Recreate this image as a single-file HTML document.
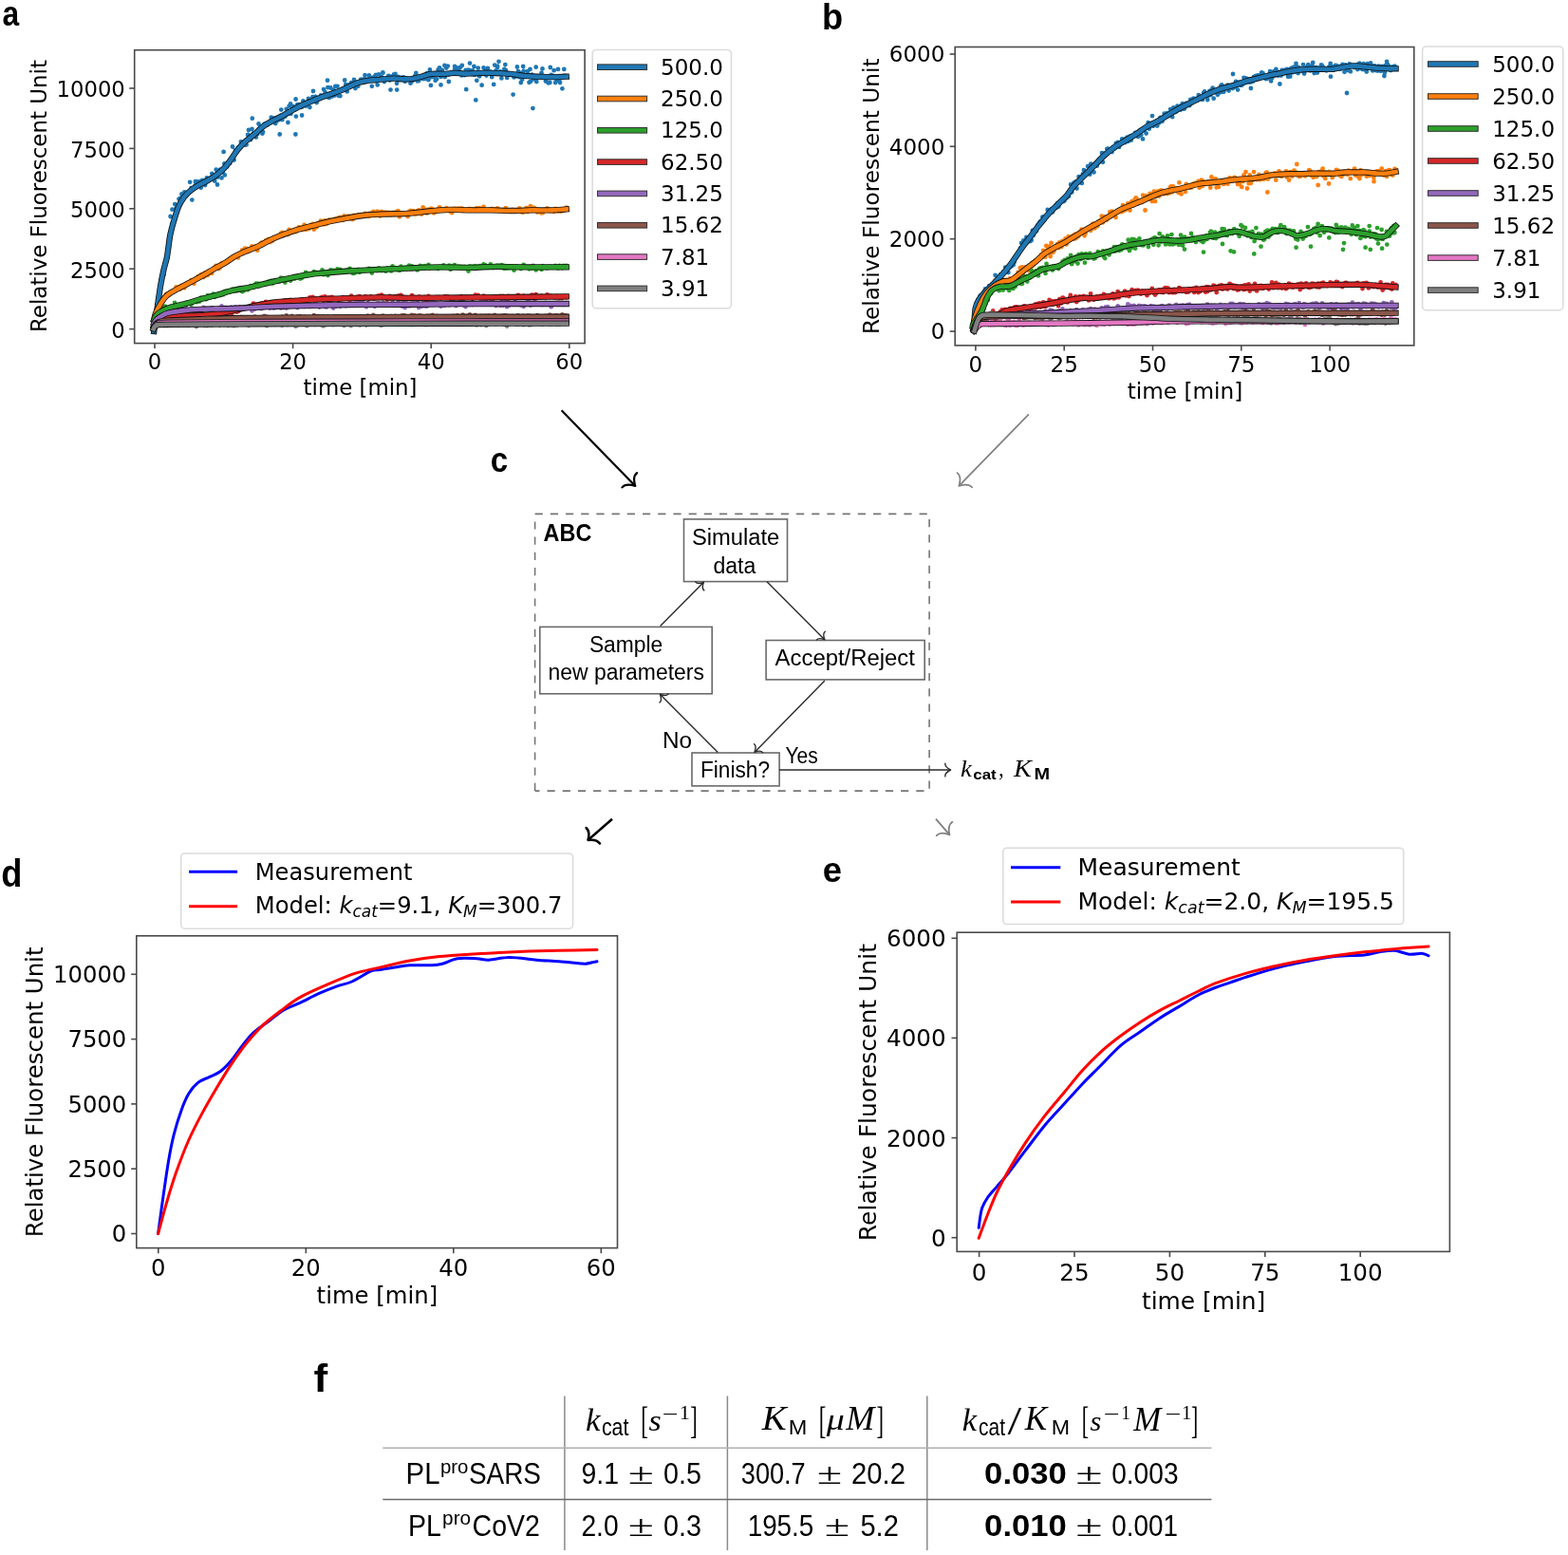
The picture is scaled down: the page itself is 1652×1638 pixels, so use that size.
<!DOCTYPE html><html><head><meta charset="utf-8"><title>Figure</title><style>html,body{margin:0;padding:0;background:#fff;}svg{display:block;}</style></head><body>
<svg width="1652" height="1638" viewBox="0 0 1652 1638">
<rect width="1652" height="1638" fill="#fff"/>
<defs><clipPath id="ca"><rect x="142.5" y="53.5" width="472.8" height="307.3"/></clipPath><clipPath id="cb"><rect x="1007" y="50.3" width="482" height="312.7"/></clipPath><clipPath id="cd"><rect x="144.5" y="986.6" width="505.4" height="327.6"/></clipPath><clipPath id="ce"><rect x="1009" y="983" width="518" height="334.6"/></clipPath></defs>
<text x="2.4" y="26.5" font-size="36.09" font-family="'Liberation Sans', sans-serif" font-weight="bold" textLength="17.65" lengthAdjust="spacingAndGlyphs">a</text>
<text x="865.9" y="31.4" font-size="39.31" font-family="'Liberation Sans', sans-serif" font-weight="bold" textLength="22.14" lengthAdjust="spacingAndGlyphs">b</text>
<text x="516.8" y="496.8" font-size="36.28" font-family="'Liberation Sans', sans-serif" font-weight="bold" textLength="18.37" lengthAdjust="spacingAndGlyphs">c</text>
<text x="1.3" y="933.6" font-size="40.28" font-family="'Liberation Sans', sans-serif" font-weight="bold" textLength="22.14" lengthAdjust="spacingAndGlyphs">d</text>
<text x="866.8" y="929.2" font-size="36.65" font-family="'Liberation Sans', sans-serif" font-weight="bold" textLength="20.29" lengthAdjust="spacingAndGlyphs">e</text>
<text x="330.4" y="1466" font-size="41.24" font-family="'Liberation Sans', sans-serif" font-weight="bold" textLength="14.68" lengthAdjust="spacingAndGlyphs">f</text>
<rect x="141.7" y="52.7" width="474.4" height="308.9" fill="none" stroke="#4a4a4a" stroke-width="1.6"/>
<line x1="163" y1="361.6" x2="163" y2="367.1" stroke="#4a4a4a" stroke-width="1.6"/>
<text x="163" y="388.5" font-size="22.7" font-family="'DejaVu Sans', sans-serif" text-anchor="middle">0</text>
<line x1="308.6" y1="361.6" x2="308.6" y2="367.1" stroke="#4a4a4a" stroke-width="1.6"/>
<text x="308.6" y="388.5" font-size="22.7" font-family="'DejaVu Sans', sans-serif" text-anchor="middle">20</text>
<line x1="454.2" y1="361.6" x2="454.2" y2="367.1" stroke="#4a4a4a" stroke-width="1.6"/>
<text x="454.2" y="388.5" font-size="22.7" font-family="'DejaVu Sans', sans-serif" text-anchor="middle">40</text>
<line x1="599.8" y1="361.6" x2="599.8" y2="367.1" stroke="#4a4a4a" stroke-width="1.6"/>
<text x="599.8" y="388.5" font-size="22.7" font-family="'DejaVu Sans', sans-serif" text-anchor="middle">60</text>
<line x1="136.2" y1="346.6" x2="141.7" y2="346.6" stroke="#4a4a4a" stroke-width="1.6"/>
<text x="131.8" y="355.9" font-size="22.7" font-family="'DejaVu Sans', sans-serif" text-anchor="end">0</text>
<line x1="136.2" y1="283.2" x2="141.7" y2="283.2" stroke="#4a4a4a" stroke-width="1.6"/>
<text x="131.8" y="292.5" font-size="22.7" font-family="'DejaVu Sans', sans-serif" text-anchor="end">2500</text>
<line x1="136.2" y1="219.8" x2="141.7" y2="219.8" stroke="#4a4a4a" stroke-width="1.6"/>
<text x="131.8" y="229.1" font-size="22.7" font-family="'DejaVu Sans', sans-serif" text-anchor="end">5000</text>
<line x1="136.2" y1="156.4" x2="141.7" y2="156.4" stroke="#4a4a4a" stroke-width="1.6"/>
<text x="131.8" y="165.7" font-size="22.7" font-family="'DejaVu Sans', sans-serif" text-anchor="end">7500</text>
<line x1="136.2" y1="93" x2="141.7" y2="93" stroke="#4a4a4a" stroke-width="1.6"/>
<text x="131.8" y="102.3" font-size="22.7" font-family="'DejaVu Sans', sans-serif" text-anchor="end">10000</text>
<text x="319.6" y="416.3" font-size="22.70" font-family="'DejaVu Sans', sans-serif" textLength="119.89" lengthAdjust="spacingAndGlyphs">time [min]</text>
<g transform="translate(49.4,347.9) rotate(-90)"><text x="-2.2" y="0" font-size="22.70" font-family="'DejaVu Sans', sans-serif" textLength="286.99" lengthAdjust="spacingAndGlyphs">Relative Fluorescent Unit</text></g>
<g clip-path="url(#ca)">
<path d="M162.3,349h0M163.8,338.6h0M165.2,326.3h0M166.7,314h0M168.1,305.8h0M169.6,294.7h0M171,291.1h0M172.5,289.2h0M173.9,276.6h0M175.4,270.8h0M176.8,266.8h0M178.3,255.4h0M179.7,245.8h0M181.2,236h0M182.6,234.3h0M184.1,232.1h0M185.5,219.6h0M187,218.7h0M188.5,209.6h0M189.9,209h0M191.4,204.5h0M192.8,208.4h0M194.3,202.5h0M195.7,206.6h0M197.2,204.6h0M198.6,201.9h0M200.1,191.8h0M201.5,198.1h0M203,198.8h0M204.4,198.4h0M205.9,191.2h0M207.3,194.3h0M208.8,191.5h0M210.2,191.3h0M211.7,197.7h0M213.1,189.9h0M214.6,192.2h0M216.1,195h0M217.5,188.7h0M219,189.7h0M220.4,189.7h0M221.9,188.6h0M223.3,182.8h0M224.8,186.8h0M226.2,190.7h0M227.7,178.7h0M229.1,186.7h0M230.6,182.8h0M232,178.7h0M233.5,187.4h0M234.9,181.3h0M236.4,172.3h0M237.8,175.5h0M239.3,175.6h0M240.8,170.8h0M242.2,172.1h0M243.7,167.2h0M245.1,167.9h0M246.6,168.6h0M248,158.4h0M249.5,159.8h0M250.9,155.4h0M252.4,155.9h0M253.8,149.3h0M255.3,150h0M256.7,150h0M258.2,152.8h0M259.6,152.4h0M261.1,141.9h0M262.5,142.8h0M264,147.2h0M265.5,136h0M266.9,140.7h0M268.4,140.8h0M269.8,144.6h0M271.3,141.1h0M272.7,135.8h0M274.2,134.3h0M275.6,133.5h0M277.1,139.1h0M278.5,130.6h0M280,130.1h0M281.4,131.7h0M282.9,129.1h0M284.3,128h0M285.8,123.7h0M287.2,127.1h0M288.7,124.7h0M290.2,130.1h0M291.6,127.5h0M293.1,124.2h0M294.5,126.1h0M296,121.6h0M297.4,126.1h0M298.9,121.3h0M300.3,122.7h0M301.8,114.8h0M303.2,120.1h0M304.7,111.6h0M306.1,109.5h0M307.6,115.3h0M309,112.2h0M310.5,115.5h0M311.9,122.6h0M313.4,110.1h0M314.8,110.1h0M316.3,112.5h0M317.8,112.9h0M319.2,109.6h0M320.7,108.8h0M322.1,111.7h0M323.6,110.4h0M325,103.9h0M326.5,107h0M327.9,106.9h0M329.4,102.2h0M330.8,106.6h0M332.3,101.8h0M333.7,108.1h0M335.2,104.6h0M336.6,103.6h0M338.1,100.5h0M339.5,101.7h0M341,94.1h0M342.5,96.9h0M343.9,102h0M345.4,92.1h0M346.8,102.9h0M348.3,92.5h0M349.7,101.5h0M351.2,94.9h0M352.6,100.6h0M354.1,97.7h0M355.5,90.8h0M357,100.9h0M358.4,101h0M359.9,94.7h0M361.3,93.3h0M362.8,93h0M364.2,89.2h0M365.7,96.4h0M367.2,89.5h0M368.6,90.7h0M370.1,87.2h0M371.5,87.2h0M373,84h0M374.4,93h0M375.9,87h0M377.3,90.7h0M378.8,86.7h0M380.2,83.6h0M381.7,84.7h0M383.1,83.5h0M384.6,85.4h0M386,83.7h0M387.5,83.8h0M388.9,79.5h0M390.4,81.6h0M391.8,90.8h0M393.3,81.8h0M394.8,80.3h0M396.2,85.4h0M397.7,89.4h0M399.1,78.3h0M400.6,82.9h0M402,81.1h0M403.5,76.7h0M404.9,86h0M406.4,83h0M407.8,83.3h0M409.3,80h0M410.7,84.5h0M412.2,80.6h0M413.6,82.1h0M415.1,78.4h0M416.5,78h0M418,87.8h0M419.5,80.9h0M420.9,84.1h0M422.4,83h0M423.8,81.6h0M425.3,81.5h0M426.7,85.8h0M428.2,82.3h0M429.6,82.8h0M431.1,83.4h0M432.5,87.7h0M434,85.6h0M435.4,84.3h0M436.9,80.4h0M438.3,77h0M439.8,85.4h0M441.2,85h0M442.7,80.4h0M444.2,82.6h0M445.6,83.1h0M447.1,82.9h0M448.5,82.8h0M450,77.1h0M451.4,84.2h0M452.9,73.4h0M454.3,81.2h0M455.8,79.6h0M457.2,81h0M458.7,84.8h0M460.1,83.3h0M461.6,73.3h0M463,71.3h0M464.5,80.9h0M465.9,74h0M467.4,77.8h0M468.8,81h0M470.3,71.5h0M471.8,69.6h0M473.2,78.4h0M474.7,77.4h0M476.1,76.1h0M477.6,77h0M479,73.5h0M480.5,71.1h0M481.9,76.3h0M483.4,73.4h0M484.8,71h0M486.3,79.4h0M487.7,77.3h0M489.2,79.2h0M490.6,73.9h0M492.1,75.1h0M493.5,73.7h0M495,74.1h0M496.5,78.1h0M497.9,74.3h0M499.4,78.6h0M500.8,78.5h0M502.3,84.8h0M503.7,71.7h0M505.2,80.3h0M506.6,76.5h0M508.1,76.7h0M509.5,71.3h0M511,75h0M512.4,79.6h0M513.9,76.4h0M515.3,77.1h0M516.8,75.7h0M518.2,81.2h0M519.7,76.8h0M521.2,68.6h0M522.6,74.4h0M524.1,69.6h0M525.5,64.8h0M527,75.3h0M528.4,82.4h0M529.9,77.6h0M531.3,73h0M532.8,73.9h0M534.2,81.9h0M535.7,78.3h0M537.1,78h0M538.6,77.8h0M540,78.3h0M541.5,81.4h0M542.9,80.7h0M544.4,79.7h0M545.9,75.1h0M547.3,81.2h0M548.8,76.8h0M550.2,83.7h0M551.7,74.9h0M553.1,79.4h0M554.6,80h0M556,75.1h0M557.5,86.8h0M558.9,85.9h0M560.4,78.7h0M561.8,83.4h0M563.3,82h0M564.7,70.7h0M566.2,81.7h0M567.6,80.5h0M569.1,81.2h0M570.5,76.8h0M572,79.9h0M573.5,80.4h0M574.9,85.6h0M576.4,82.4h0M577.8,81.1h0M579.3,87h0M580.7,79h0M582.2,79.7h0M583.6,74.2h0M585.1,87.1h0M586.5,84.7h0M588,84.5h0M589.4,83.5h0M590.9,81.4h0M592.3,81.7h0M593.8,79.9h0M595.2,80h0M596.7,80.9h0M453.9,89.9h0M464.5,89.4h0M472.8,86h0M491.2,94.2h0M501.3,105.4h0M507.6,89.7h0M520.2,88.9h0M540.6,99.6h0M548.8,87h0M561.4,114.1h0M565.3,86h0M577.8,87.4h0M590,87h0M592.4,93.3h0M468.4,69h0M479.1,70h0M486.8,69h0M495,66.6h0M499.4,70h0M513.9,72h0M524.1,71h0M532.3,68.1h0M544.9,70.5h0M551.2,70h0M558.5,72.9h0M571.5,72.4h0M579.8,71h0M588,72.9h0M594.3,72.9h0M411.5,94.6h0M418.2,94.6h0M403.3,76.4h0M396,79h0M384.5,79.2h0M363.2,84.5h0M353.3,91h0M345,84.7h0M332.5,101.8h0M330,96h0M326.4,113h0M319.4,106.4h0M311.6,104.5h0M306.5,119.8h0M318.1,121.5h0M303.4,129h0M296.3,115.6h0M289.4,125.5h0M272.5,130.5h0M265.8,124.7h0M262,137h0M236.8,184.4h0M229,194.5h0M235.6,159.9h0M245,154.5h0M217.9,187.5h0M205.7,195.4h0M202.3,210.6h0M184.3,215.1h0M181.5,220.7h0M179.6,228h0M294.7,141.5h0M276.4,140.7h0M311.4,141.5h0" stroke="#1f77b4" stroke-width="4.8" stroke-linecap="round" fill="none"/>
<path d="M162.2,339.6h0M163.7,331.9h0M165.1,327.4h0M166.6,323.6h0M168,320.9h0M169.5,322.3h0M170.9,318.2h0M172.4,315.3h0M173.8,312.7h0M175.3,309.8h0M176.7,310.4h0M178.2,311h0M179.6,307.9h0M181.1,307.4h0M182.5,306.5h0M184,306.2h0M185.5,302.5h0M186.9,304.1h0M188.4,302.3h0M189.8,304.5h0M191.3,300.9h0M192.7,302.4h0M194.2,303.3h0M195.6,299.4h0M197.1,298.1h0M198.5,298.7h0M200,297.6h0M201.4,295.2h0M202.9,296.9h0M204.3,298.7h0M205.8,294.1h0M207.2,293.4h0M208.7,291.2h0M210.2,292.8h0M211.6,289.3h0M213.1,288.8h0M214.5,292h0M216,287.4h0M217.4,290h0M218.9,289.8h0M220.3,286.8h0M221.8,286.4h0M223.2,287.9h0M224.7,283.4h0M226.1,281.9h0M227.6,279.8h0M229,281.4h0M230.5,283.1h0M232,281.4h0M233.4,277.5h0M234.9,276.8h0M236.3,276.6h0M237.8,277.1h0M239.2,275.3h0M240.7,275h0M242.1,274.1h0M243.6,272.1h0M245,271.5h0M246.5,271h0M247.9,269.6h0M249.4,269.8h0M250.8,271.4h0M252.3,268.6h0M253.8,267h0M255.2,263.4h0M256.7,266.3h0M258.1,261.7h0M259.6,262h0M261,265.3h0M262.5,264.5h0M263.9,262.6h0M265.4,259.4h0M266.8,261.1h0M268.3,260h0M269.7,261.6h0M271.2,263.7h0M272.6,259.5h0M274.1,257.1h0M275.5,255.6h0M277,256.8h0M278.5,255.8h0M279.9,253.4h0M281.4,254.8h0M282.8,251.9h0M284.3,255h0M285.7,254.2h0M287.2,253.6h0M288.6,250.2h0M290.1,251.3h0M291.5,249.6h0M293,248.5h0M294.4,248h0M295.9,245.8h0M297.3,245h0M298.8,248.2h0M300.3,246h0M301.7,246.2h0M303.2,247h0M304.6,241.8h0M306.1,242.9h0M307.5,244.1h0M309,244h0M310.4,242.2h0M311.9,244.2h0M313.3,242.3h0M314.8,239.5h0M316.2,239.6h0M317.7,242.2h0M319.1,241.2h0M320.6,236.8h0M322,241.9h0M323.5,240.3h0M325,241.2h0M326.4,237.9h0M327.9,237.7h0M329.3,235.9h0M330.8,241.7h0M332.2,236.7h0M333.7,239.3h0M335.1,235.1h0M336.6,236.1h0M338,232.7h0M339.5,234.5h0M340.9,236.4h0M342.4,232.3h0M343.8,235.9h0M345.3,234.3h0M346.8,231.6h0M348.2,232.2h0M349.7,231.9h0M351.1,232.3h0M352.6,231.2h0M354,230.4h0M355.5,231h0M356.9,229.5h0M358.4,228.8h0M359.8,230.6h0M361.3,231.9h0M362.7,227.5h0M364.2,229.9h0M365.6,228.5h0M367.1,227.7h0M368.6,230.6h0M370,228h0M371.5,231.2h0M372.9,227h0M374.4,228.8h0M375.8,227.5h0M377.3,226.4h0M378.7,228.4h0M380.2,227h0M381.6,228.1h0M383.1,226.8h0M384.5,224.8h0M386,226.3h0M387.4,226.5h0M388.9,227.9h0M390.3,224.6h0M391.8,226h0M393.3,223h0M394.7,227h0M396.2,224h0M397.6,222.7h0M399.1,225.6h0M400.5,227.6h0M402,223h0M403.4,223.7h0M404.9,224.3h0M406.3,223.6h0M407.8,226.1h0M409.2,224h0M410.7,224.1h0M412.1,226.3h0M413.6,224h0M415.1,226h0M416.5,223.6h0M418,223.2h0M419.4,222.1h0M420.9,228.3h0M422.3,224.6h0M423.8,225.5h0M425.2,225h0M426.7,225.2h0M428.1,225h0M429.6,228.1h0M431,223h0M432.5,222h0M433.9,222.8h0M435.4,222.1h0M436.9,225.5h0M438.3,225.4h0M439.8,222.2h0M441.2,221.3h0M442.7,222.9h0M444.1,225.7h0M445.6,218.4h0M447,223.9h0M448.5,221h0M449.9,224.4h0M451.4,220.7h0M452.8,221.9h0M454.3,219.7h0M455.7,220.5h0M457.2,224.4h0M458.6,223.3h0M460.1,221.1h0M461.6,220.1h0M463,218.3h0M464.5,220.7h0M465.9,221.2h0M467.4,221h0M468.8,220.9h0M470.3,219.1h0M471.7,220.8h0M473.2,220.8h0M474.6,223.1h0M476.1,224h0M477.5,220.6h0M479,219.6h0M480.4,220.8h0M481.9,219.9h0M483.4,219.7h0M484.8,221h0M486.3,219.3h0M487.7,222.2h0M489.2,221.1h0M490.6,221.7h0M492.1,221h0M493.5,220.1h0M495,219.8h0M496.4,221h0M497.9,220.5h0M499.3,221.8h0M500.8,221.4h0M502.2,219.1h0M503.7,221.5h0M505.1,219.1h0M506.6,220.3h0M508.1,220.9h0M509.5,217.8h0M511,221.5h0M512.4,221.6h0M513.9,221.1h0M515.3,220.7h0M516.8,220.8h0M518.2,219.8h0M519.7,221h0M521.1,220.5h0M522.6,221.7h0M524,219.5h0M525.5,222h0M526.9,221.9h0M528.4,221.5h0M529.9,221.1h0M531.3,222.8h0M532.8,219.1h0M534.2,222.7h0M535.7,222.4h0M537.1,222.5h0M538.6,222.7h0M540,220.9h0M541.5,221.5h0M542.9,223h0M544.4,222.7h0M545.8,222.2h0M547.3,219.3h0M548.7,222.7h0M550.2,223.7h0M551.7,223.4h0M553.1,222h0M554.6,218.9h0M556,223.1h0M557.5,221.2h0M558.9,217.1h0M560.4,222h0M561.8,218.9h0M563.3,219.2h0M564.7,220.3h0M566.2,223.5h0M567.6,220.8h0M569.1,221.9h0M570.5,224.4h0M572,224.1h0M573.4,221.3h0M574.9,221h0M576.4,219.3h0M577.8,220.3h0M579.3,222.2h0M580.7,222.1h0M582.2,221.6h0M583.6,223.1h0M585.1,220h0M586.5,221.1h0M588,222.4h0M589.4,222h0M590.9,222.7h0M592.3,221.5h0M593.8,220.1h0M595.2,221.1h0M596.7,218.7h0" stroke="#ff7f0e" stroke-width="4.8" stroke-linecap="round" fill="none"/>
<path d="M162.3,334.7h0M163.8,334.2h0M165.2,331.5h0M166.7,330.6h0M168.1,326.7h0M169.6,327.6h0M171,326.4h0M172.5,325.2h0M173.9,322.6h0M175.4,324.7h0M176.8,325.9h0M178.3,324.7h0M179.7,322.9h0M181.2,323.4h0M182.6,324.1h0M184.1,318.8h0M185.5,322.2h0M187,322.8h0M188.5,322.6h0M189.9,323.7h0M191.4,322.6h0M192.8,321h0M194.3,320.6h0M195.7,320.9h0M197.2,318.6h0M198.6,318.9h0M200.1,319.8h0M201.5,320.8h0M203,317.4h0M204.4,317.1h0M205.9,317h0M207.3,318.2h0M208.8,315.8h0M210.2,317.5h0M211.7,313.7h0M213.1,314.4h0M214.6,314h0M216.1,315h0M217.5,315h0M219,311.1h0M220.4,311.6h0M221.9,313h0M223.3,311.2h0M224.8,309.7h0M226.2,312.9h0M227.7,311.7h0M229.1,311.3h0M230.6,309.5h0M232,311.2h0M233.5,309h0M234.9,310.4h0M236.4,307.1h0M237.8,306.7h0M239.3,307.8h0M240.8,306.1h0M242.2,307.6h0M243.7,306.6h0M245.1,304.6h0M246.6,305.7h0M248,304.8h0M249.5,306.3h0M250.9,303.9h0M252.4,303.9h0M253.8,306h0M255.3,307.2h0M256.7,306.6h0M258.2,303.7h0M259.6,303.7h0M261.1,305.3h0M262.5,302.7h0M264,301.2h0M265.5,302.3h0M266.9,302.4h0M268.4,300.2h0M269.8,298.7h0M271.3,298.7h0M272.7,301.3h0M274.2,298.9h0M275.6,299.4h0M277.1,299.6h0M278.5,299.8h0M280,298.1h0M281.4,299h0M282.9,296.7h0M284.3,297.1h0M285.8,295.8h0M287.2,298.5h0M288.7,296.5h0M290.2,295.2h0M291.6,295.4h0M293.1,295.3h0M294.5,296.2h0M296,292.7h0M297.4,293.2h0M298.9,293.8h0M300.3,297.5h0M301.8,295h0M303.2,293.2h0M304.7,294.1h0M306.1,295.7h0M307.6,292.2h0M309,291.7h0M310.5,293.6h0M311.9,292.4h0M313.4,292.3h0M314.8,290.4h0M316.3,293.5h0M317.8,293h0M319.2,291.1h0M320.7,291h0M322.1,287h0M323.6,290.5h0M325,289.1h0M326.5,289.7h0M327.9,289.9h0M329.4,288.3h0M330.8,286.2h0M332.3,288.9h0M333.7,287.2h0M335.2,287.6h0M336.6,287.1h0M338.1,287.3h0M339.5,284.4h0M341,289.3h0M342.5,287.8h0M343.9,288.9h0M345.4,290h0M346.8,287.1h0M348.3,284.4h0M349.7,285.6h0M351.2,285h0M352.6,285.9h0M354.1,286.6h0M355.5,283.5h0M357,286.7h0M358.4,284h0M359.9,286.4h0M361.3,285.7h0M362.8,285.3h0M364.2,285.6h0M365.7,284.8h0M367.2,284.6h0M368.6,283h0M370.1,285.3h0M371.5,287.8h0M373,287.9h0M374.4,287h0M375.9,286h0M377.3,284h0M378.8,286.9h0M380.2,284.8h0M381.7,284.7h0M383.1,284.3h0M384.6,284.8h0M386,284h0M387.5,284.4h0M388.9,282.9h0M390.4,283.9h0M391.8,287.5h0M393.3,284.1h0M394.8,283.8h0M396.2,284.8h0M397.7,285h0M399.1,282.4h0M400.6,283.6h0M402,285.1h0M403.5,284.1h0M404.9,283.8h0M406.4,285.7h0M407.8,282.6h0M409.3,283.6h0M410.7,282.6h0M412.2,285.4h0M413.6,280.5h0M415.1,282.3h0M416.5,282.4h0M418,284h0M419.5,283.9h0M420.9,284.9h0M422.4,280.7h0M423.8,283.9h0M425.3,282.4h0M426.7,281.8h0M428.2,283.4h0M429.6,281.3h0M431.1,279.6h0M432.5,282h0M434,280.3h0M435.4,281.5h0M436.9,282.8h0M438.3,282.7h0M439.8,284.4h0M441.2,281.8h0M442.7,279.9h0M444.2,280.9h0M445.6,280.6h0M447.1,280.1h0M448.5,282.4h0M450,280.8h0M451.4,278.9h0M452.9,282.6h0M454.3,281.4h0M455.8,282h0M457.2,281.7h0M458.7,282.4h0M460.1,281.5h0M461.6,283.1h0M463,282h0M464.5,281.9h0M465.9,282h0M467.4,279.4h0M468.8,281.2h0M470.3,281.1h0M471.8,281.7h0M473.2,279.6h0M474.7,283.8h0M476.1,281.7h0M477.6,279.9h0M479,279.2h0M480.5,281.3h0M481.9,281.6h0M483.4,280.7h0M484.8,281.9h0M486.3,280.9h0M487.7,282.6h0M489.2,280.9h0M490.6,281.8h0M492.1,283.3h0M493.5,285.5h0M495,280.5h0M496.5,281.2h0M497.9,280.7h0M499.4,282.9h0M500.8,280.2h0M502.3,281h0M503.7,281.6h0M505.2,280.2h0M506.6,280.2h0M508.1,280.7h0M509.5,278.4h0M511,279.2h0M512.4,280.6h0M513.9,281.3h0M515.3,280.8h0M516.8,278.5h0M518.2,280.3h0M519.7,282h0M521.2,281.6h0M522.6,280.7h0M524.1,279.6h0M525.5,281.7h0M527,280h0M528.4,279.2h0M529.9,279.7h0M531.3,282.9h0M532.8,281.2h0M534.2,282.6h0M535.7,280.3h0M537.1,282.4h0M538.6,280.3h0M540,280.9h0M541.5,284.7h0M542.9,282.3h0M544.4,280.6h0M545.9,281.2h0M547.3,281.8h0M548.8,283.1h0M550.2,280.7h0M551.7,279h0M553.1,281h0M554.6,281.5h0M556,281.6h0M557.5,283.3h0M558.9,281.9h0M560.4,282.6h0M561.8,279.9h0M563.3,282.6h0M564.7,284.4h0M566.2,282.5h0M567.6,281.8h0M569.1,281.6h0M570.5,283.9h0M572,280.1h0M573.5,281.2h0M574.9,282h0M576.4,282.4h0M577.8,280.8h0M579.3,281.8h0M580.7,281h0M582.2,281.6h0M583.6,281.2h0M585.1,279.8h0M586.5,281.4h0M588,282.6h0M589.4,280h0M590.9,281.1h0M592.3,282.3h0M593.8,279.9h0M595.2,281.7h0M596.7,279.9h0" stroke="#2ca02c" stroke-width="4.8" stroke-linecap="round" fill="none"/>
<path d="M162.3,345.4h0M163.8,344.6h0M165.2,342.8h0M166.7,339h0M168.1,339.2h0M169.6,337.6h0M171,336.6h0M172.5,337.5h0M173.9,333.3h0M175.4,335.6h0M176.8,333.9h0M178.3,335.4h0M179.7,333.7h0M181.2,332.5h0M182.6,333.5h0M184.1,333.9h0M185.5,333h0M187,333.5h0M188.5,332.2h0M189.9,330.2h0M191.4,333.8h0M192.8,333.5h0M194.3,332.8h0M195.7,332.6h0M197.2,333.7h0M198.6,331.9h0M200.1,331.6h0M201.5,332.3h0M203,333.9h0M204.4,330.8h0M205.9,333.9h0M207.3,331.7h0M208.8,331.1h0M210.2,333.8h0M211.7,332.1h0M213.1,330.6h0M214.6,331.6h0M216.1,333h0M217.5,333.2h0M219,331.1h0M220.4,331.9h0M221.9,332.1h0M223.3,330.3h0M224.8,331.3h0M226.2,330.7h0M227.7,329.9h0M229.1,329.7h0M230.6,330.2h0M232,329.9h0M233.5,328.9h0M234.9,328.9h0M236.4,330.4h0M237.8,329.1h0M239.3,329.6h0M240.8,329.7h0M242.2,328.7h0M243.7,330.4h0M245.1,326.4h0M246.6,328.1h0M248,326.4h0M249.5,328.6h0M250.9,328.1h0M252.4,323.3h0M253.8,324.2h0M255.3,325.8h0M256.7,325.6h0M258.2,325.2h0M259.6,323.9h0M261.1,324.2h0M262.5,324.1h0M264,322.9h0M265.5,324h0M266.9,319.7h0M268.4,322.9h0M269.8,320.6h0M271.3,322.7h0M272.7,321h0M274.2,320h0M275.6,321.2h0M277.1,319.4h0M278.5,319.1h0M280,318h0M281.4,319.6h0M282.9,320h0M284.3,320.4h0M285.8,318.7h0M287.2,319.9h0M288.7,318.5h0M290.2,318.1h0M291.6,318.8h0M293.1,319.2h0M294.5,317.4h0M296,317.5h0M297.4,317.5h0M298.9,317.7h0M300.3,316.4h0M301.8,318.6h0M303.2,316.8h0M304.7,317.7h0M306.1,316h0M307.6,317.4h0M309,317.3h0M310.5,316.2h0M311.9,319h0M313.4,316.9h0M314.8,318.5h0M316.3,317.5h0M317.8,315.4h0M319.2,315.7h0M320.7,316.5h0M322.1,316h0M323.6,315.9h0M325,315.4h0M326.5,313.5h0M327.9,315.3h0M329.4,312.9h0M330.8,315.9h0M332.3,314.5h0M333.7,314.5h0M335.2,315h0M336.6,315.5h0M338.1,313.4h0M339.5,313h0M341,313.7h0M342.5,312.5h0M343.9,313.7h0M345.4,316.7h0M346.8,313.5h0M348.3,315.5h0M349.7,313h0M351.2,315h0M352.6,314.2h0M354.1,314.4h0M355.5,315.1h0M357,316.5h0M358.4,314.6h0M359.9,314.5h0M361.3,313.1h0M362.8,314.9h0M364.2,313.9h0M365.7,315.1h0M367.2,314h0M368.6,316.1h0M370.1,311.6h0M371.5,313.6h0M373,315h0M374.4,313.5h0M375.9,312.9h0M377.3,313.5h0M378.8,312.1h0M380.2,313.9h0M381.7,316.6h0M383.1,315h0M384.6,312.3h0M386,312.6h0M387.5,313.1h0M388.9,314.7h0M390.4,312.5h0M391.8,312.7h0M393.3,314.5h0M394.8,314.5h0M396.2,313h0M397.7,312h0M399.1,311.5h0M400.6,312.5h0M402,310.7h0M403.5,314.2h0M404.9,312.5h0M406.4,313.9h0M407.8,315.5h0M409.3,314.7h0M410.7,311.9h0M412.2,314.4h0M413.6,314.8h0M415.1,312.6h0M416.5,312.4h0M418,313.4h0M419.5,311.7h0M420.9,315.4h0M422.4,310.8h0M423.8,312.4h0M425.3,313.4h0M426.7,313.5h0M428.2,314h0M429.6,314.1h0M431.1,313.5h0M432.5,315.2h0M434,311.2h0M435.4,313.8h0M436.9,312.9h0M438.3,314h0M439.8,314.1h0M441.2,312.7h0M442.7,313h0M444.2,314.7h0M445.6,314.2h0M447.1,312.9h0M448.5,316.2h0M450,316.5h0M451.4,312h0M452.9,314.1h0M454.3,316.7h0M455.8,314.7h0M457.2,314h0M458.7,313.4h0M460.1,313h0M461.6,313.4h0M463,313h0M464.5,314.5h0M465.9,313.2h0M467.4,313.1h0M468.8,312.2h0M470.3,313.5h0M471.8,312.5h0M473.2,313.4h0M474.7,314.8h0M476.1,314h0M477.6,314.2h0M479,314h0M480.5,313.6h0M481.9,313.4h0M483.4,313.1h0M484.8,314.4h0M486.3,312.2h0M487.7,315.1h0M489.2,313.5h0M490.6,312.6h0M492.1,312.9h0M493.5,312.6h0M495,313.6h0M496.5,312.5h0M497.9,314.8h0M499.4,312.4h0M500.8,310.6h0M502.3,312.5h0M503.7,310.9h0M505.2,313.3h0M506.6,314.6h0M508.1,314.1h0M509.5,311.7h0M511,312.4h0M512.4,315.4h0M513.9,313.6h0M515.3,313.2h0M516.8,314.5h0M518.2,316.1h0M519.7,314.7h0M521.2,313.3h0M522.6,313.6h0M524.1,313.9h0M525.5,312.4h0M527,311.8h0M528.4,313.2h0M529.9,312h0M531.3,313h0M532.8,313.2h0M534.2,315.9h0M535.7,312h0M537.1,312.9h0M538.6,312.8h0M540,313.5h0M541.5,314.2h0M542.9,312.4h0M544.4,312h0M545.9,311h0M547.3,311.8h0M548.8,313.5h0M550.2,312.9h0M551.7,311.7h0M553.1,312.4h0M554.6,312.9h0M556,313.4h0M557.5,312.1h0M558.9,312.5h0M560.4,310.6h0M561.8,311.4h0M563.3,314.7h0M564.7,310.1h0M566.2,312.3h0M567.6,313h0M569.1,312.2h0M570.5,311.7h0M572,312.6h0M573.5,312.6h0M574.9,312.5h0M576.4,310.4h0M577.8,312.4h0M579.3,311.6h0M580.7,311.9h0M582.2,312.8h0M583.6,313.3h0M585.1,313.6h0M586.5,311.9h0M588,313.6h0M589.4,313.9h0M590.9,313.8h0M592.3,314.1h0M593.8,312.3h0M595.2,312.2h0M596.7,313.4h0" stroke="#d62728" stroke-width="4.8" stroke-linecap="round" fill="none"/>
<path d="M162.3,339.4h0M163.8,338.3h0M165.2,335.6h0M166.7,334.6h0M168.1,332h0M169.6,332.2h0M171,332.3h0M172.5,332.5h0M173.9,332h0M175.4,330.1h0M176.8,329.5h0M178.3,328.4h0M179.7,329.6h0M181.2,328.5h0M182.6,329.3h0M184.1,330.4h0M185.5,328.1h0M187,326.1h0M188.5,326.7h0M189.9,325.8h0M191.4,326h0M192.8,328.8h0M194.3,327.3h0M195.7,325.1h0M197.2,327.5h0M198.6,328.1h0M200.1,326.1h0M201.5,325.6h0M203,325.9h0M204.4,326.5h0M205.9,326.8h0M207.3,327.4h0M208.8,327.4h0M210.2,327.3h0M211.7,327.4h0M213.1,326.5h0M214.6,323.8h0M216.1,325.5h0M217.5,326h0M219,325.1h0M220.4,326.6h0M221.9,325.1h0M223.3,324.4h0M224.8,327.2h0M226.2,326.2h0M227.7,325.7h0M229.1,326.5h0M230.6,326.6h0M232,325.7h0M233.5,322.3h0M234.9,324.4h0M236.4,324.7h0M237.8,324h0M239.3,325.4h0M240.8,326.6h0M242.2,324.5h0M243.7,323.7h0M245.1,327.4h0M246.6,324.4h0M248,323.4h0M249.5,325.1h0M250.9,325.3h0M252.4,323.8h0M253.8,325.5h0M255.3,323.9h0M256.7,323.3h0M258.2,324.6h0M259.6,325.2h0M261.1,323.5h0M262.5,324.6h0M264,324h0M265.5,327.4h0M266.9,323.1h0M268.4,325.5h0M269.8,323.7h0M271.3,323.5h0M272.7,324.5h0M274.2,324.6h0M275.6,325h0M277.1,323.8h0M278.5,322.6h0M280,322.6h0M281.4,323.8h0M282.9,323.8h0M284.3,324.7h0M285.8,323.5h0M287.2,324.2h0M288.7,324.7h0M290.2,323h0M291.6,321h0M293.1,321.3h0M294.5,320.9h0M296,324.5h0M297.4,321.6h0M298.9,324h0M300.3,323.2h0M301.8,324.5h0M303.2,323.6h0M304.7,322.3h0M306.1,322.1h0M307.6,322.4h0M309,322.5h0M310.5,321.6h0M311.9,322.2h0M313.4,324.1h0M314.8,320.1h0M316.3,322.4h0M317.8,321h0M319.2,322.2h0M320.7,323h0M322.1,321.9h0M323.6,322.8h0M325,320h0M326.5,323.2h0M327.9,321.1h0M329.4,322.5h0M330.8,322h0M332.3,318.6h0M333.7,320.8h0M335.2,321.9h0M336.6,323.5h0M338.1,321.9h0M339.5,321.9h0M341,319.8h0M342.5,323.2h0M343.9,323.6h0M345.4,321.5h0M346.8,321.1h0M348.3,319.4h0M349.7,322.4h0M351.2,324.6h0M352.6,322.2h0M354.1,322.8h0M355.5,321.9h0M357,320.1h0M358.4,322.8h0M359.9,319.7h0M361.3,320.9h0M362.8,321.5h0M364.2,322.2h0M365.7,321.6h0M367.2,321.6h0M368.6,320.2h0M370.1,319.5h0M371.5,321.1h0M373,320.2h0M374.4,319.4h0M375.9,319.5h0M377.3,320.4h0M378.8,318.7h0M380.2,319.3h0M381.7,319h0M383.1,321.1h0M384.6,321.4h0M386,323.3h0M387.5,319.1h0M388.9,320.1h0M390.4,322h0M391.8,320.6h0M393.3,320.5h0M394.8,322.9h0M396.2,320.5h0M397.7,319.5h0M399.1,319.3h0M400.6,321.3h0M402,321.2h0M403.5,319.2h0M404.9,319.7h0M406.4,321.5h0M407.8,321.5h0M409.3,320.1h0M410.7,321.6h0M412.2,321.5h0M413.6,318.7h0M415.1,320.5h0M416.5,321.4h0M418,320.2h0M419.5,318.3h0M420.9,320.5h0M422.4,321.7h0M423.8,322.7h0M425.3,318.2h0M426.7,324h0M428.2,319.5h0M429.6,322h0M431.1,322.3h0M432.5,322h0M434,320.9h0M435.4,319.4h0M436.9,321.5h0M438.3,319.9h0M439.8,317.7h0M441.2,324.1h0M442.7,321.5h0M444.2,322.8h0M445.6,319.5h0M447.1,322.4h0M448.5,322.5h0M450,322.5h0M451.4,320.5h0M452.9,319.1h0M454.3,320.3h0M455.8,317.9h0M457.2,318.5h0M458.7,320.6h0M460.1,319.3h0M461.6,320.2h0M463,320.3h0M464.5,322.7h0M465.9,321.9h0M467.4,320.3h0M468.8,321.8h0M470.3,319.4h0M471.8,319.9h0M473.2,321.4h0M474.7,318.8h0M476.1,319.9h0M477.6,318.7h0M479,320.4h0M480.5,322.2h0M481.9,319.3h0M483.4,320.5h0M484.8,319.1h0M486.3,318.8h0M487.7,318.7h0M489.2,321.9h0M490.6,323h0M492.1,320.7h0M493.5,319.3h0M495,321h0M496.5,319.7h0M497.9,321.1h0M499.4,320.5h0M500.8,320.4h0M502.3,320.8h0M503.7,319.4h0M505.2,319.6h0M506.6,318h0M508.1,319.5h0M509.5,318.4h0M511,319.9h0M512.4,318.9h0M513.9,320.2h0M515.3,320.6h0M516.8,318.3h0M518.2,319.1h0M519.7,318.9h0M521.2,320.9h0M522.6,322.1h0M524.1,321.1h0M525.5,319.6h0M527,321.8h0M528.4,318.2h0M529.9,321.8h0M531.3,319.2h0M532.8,316.7h0M534.2,323.2h0M535.7,321.9h0M537.1,318.8h0M538.6,320.2h0M540,319.7h0M541.5,320.1h0M542.9,318.2h0M544.4,319.2h0M545.9,320.6h0M547.3,320.3h0M548.8,321.4h0M550.2,320.1h0M551.7,322.8h0M553.1,319.1h0M554.6,320.3h0M556,317.7h0M557.5,318.5h0M558.9,321.6h0M560.4,318.9h0M561.8,320.6h0M563.3,319.9h0M564.7,318.7h0M566.2,319.6h0M567.6,319.4h0M569.1,319.4h0M570.5,320.9h0M572,320.8h0M573.5,319.3h0M574.9,318.9h0M576.4,320.3h0M577.8,319.9h0M579.3,321.2h0M580.7,323.2h0M582.2,321h0M583.6,320h0M585.1,319.8h0M586.5,319h0M588,318.9h0M589.4,318.8h0M590.9,319.5h0M592.3,319.5h0M593.8,320.9h0M595.2,319.5h0M596.7,319.8h0" stroke="#9467bd" stroke-width="4.8" stroke-linecap="round" fill="none"/>
<path d="M162.3,343.3h0M163.8,343.6h0M165.2,340.8h0M166.7,341.2h0M168.1,339.8h0M169.6,340h0M171,337.9h0M172.5,338.7h0M173.9,340.5h0M175.4,336.5h0M176.8,338.8h0M178.3,339.2h0M179.7,337.8h0M181.2,338.1h0M182.6,338.5h0M184.1,336.5h0M185.5,337.5h0M187,336.2h0M188.5,336.3h0M189.9,336.3h0M191.4,336.7h0M192.8,336.9h0M194.3,337.2h0M195.7,335.2h0M197.2,338.7h0M198.6,337.8h0M200.1,337.3h0M201.5,336.1h0M203,336.3h0M204.4,336.9h0M205.9,336.7h0M207.3,334.6h0M208.8,337h0M210.2,339.2h0M211.7,334.3h0M213.1,337.1h0M214.6,336.4h0M216.1,335.9h0M217.5,337.4h0M219,334.7h0M220.4,336h0M221.9,337.3h0M223.3,335.5h0M224.8,335.3h0M226.2,335.8h0M227.7,335.1h0M229.1,337.1h0M230.6,334.6h0M232,336.4h0M233.5,334.1h0M234.9,336.1h0M236.4,335.2h0M237.8,332.7h0M239.3,335.3h0M240.8,334.2h0M242.2,334.8h0M243.7,336.8h0M245.1,334h0M246.6,334h0M248,336.6h0M249.5,335.2h0M250.9,336.6h0M252.4,335.4h0M253.8,334.1h0M255.3,334.9h0M256.7,336.2h0M258.2,335.9h0M259.6,334.9h0M261.1,335h0M262.5,334.8h0M264,334.3h0M265.5,336.8h0M266.9,334.8h0M268.4,333.7h0M269.8,334.3h0M271.3,335.5h0M272.7,335.4h0M274.2,334.6h0M275.6,334.1h0M277.1,334.8h0M278.5,333h0M280,333.4h0M281.4,335.5h0M282.9,334.2h0M284.3,335.1h0M285.8,335.9h0M287.2,335.3h0M288.7,334.7h0M290.2,336.8h0M291.6,335.3h0M293.1,334.2h0M294.5,335.3h0M296,335h0M297.4,333.7h0M298.9,334.6h0M300.3,334.4h0M301.8,332.5h0M303.2,334.3h0M304.7,334.2h0M306.1,334.1h0M307.6,332.8h0M309,334.1h0M310.5,334.4h0M311.9,334.6h0M313.4,333.3h0M314.8,335.1h0M316.3,333.2h0M317.8,334.2h0M319.2,335.8h0M320.7,333.7h0M322.1,333.9h0M323.6,335.5h0M325,334h0M326.5,334.1h0M327.9,334.6h0M329.4,335.4h0M330.8,332.1h0M332.3,333.5h0M333.7,333.3h0M335.2,333.2h0M336.6,333.4h0M338.1,333.4h0M339.5,334.6h0M341,333.4h0M342.5,334.4h0M343.9,334.7h0M345.4,333.5h0M346.8,334.4h0M348.3,335.9h0M349.7,334.6h0M351.2,333.6h0M352.6,334.2h0M354.1,333.3h0M355.5,334.5h0M357,335.1h0M358.4,333.4h0M359.9,334h0M361.3,335.3h0M362.8,333.7h0M364.2,334.4h0M365.7,333.1h0M367.2,333.3h0M368.6,333.6h0M370.1,336.3h0M371.5,333.7h0M373,333.6h0M374.4,333.6h0M375.9,333.9h0M377.3,334.8h0M378.8,334.3h0M380.2,336.2h0M381.7,334.3h0M383.1,335.5h0M384.6,334.4h0M386,334.7h0M387.5,332.6h0M388.9,333.9h0M390.4,334h0M391.8,333.8h0M393.3,331.9h0M394.8,334.9h0M396.2,333.6h0M397.7,333.6h0M399.1,333.8h0M400.6,333.8h0M402,334.4h0M403.5,332.7h0M404.9,333.1h0M406.4,334.3h0M407.8,334.1h0M409.3,333.6h0M410.7,333.4h0M412.2,333.1h0M413.6,333.9h0M415.1,335.1h0M416.5,332.9h0M418,335.5h0M419.5,334.8h0M420.9,333.5h0M422.4,334.7h0M423.8,332.5h0M425.3,332.2h0M426.7,332.6h0M428.2,333.5h0M429.6,333.6h0M431.1,333.4h0M432.5,334h0M434,331.8h0M435.4,334.4h0M436.9,332.5h0M438.3,333.2h0M439.8,333.5h0M441.2,332.7h0M442.7,332.5h0M444.2,332.9h0M445.6,333.8h0M447.1,334.4h0M448.5,334.4h0M450,332.8h0M451.4,333h0M452.9,332.9h0M454.3,334.3h0M455.8,331.8h0M457.2,335.1h0M458.7,333.3h0M460.1,333h0M461.6,334.2h0M463,334.8h0M464.5,334.2h0M465.9,334.9h0M467.4,333.9h0M468.8,335h0M470.3,335h0M471.8,333.7h0M473.2,335.2h0M474.7,334h0M476.1,333.9h0M477.6,332.9h0M479,333.5h0M480.5,334.6h0M481.9,332.5h0M483.4,334.4h0M484.8,334.1h0M486.3,334.1h0M487.7,331.6h0M489.2,333.7h0M490.6,334.4h0M492.1,333h0M493.5,333.9h0M495,331.4h0M496.5,334.4h0M497.9,333.1h0M499.4,334.6h0M500.8,331.9h0M502.3,334.5h0M503.7,333.5h0M505.2,334.6h0M506.6,332.8h0M508.1,333.1h0M509.5,336h0M511,332.9h0M512.4,333h0M513.9,333.5h0M515.3,332.7h0M516.8,334.9h0M518.2,335.5h0M519.7,333h0M521.2,332h0M522.6,334.9h0M524.1,334.9h0M525.5,334.6h0M527,334.9h0M528.4,332.9h0M529.9,333.6h0M531.3,332.4h0M532.8,332.3h0M534.2,334.7h0M535.7,333.1h0M537.1,336h0M538.6,333.8h0M540,333.1h0M541.5,334.5h0M542.9,335.5h0M544.4,334.2h0M545.9,332.5h0M547.3,334.1h0M548.8,335.1h0M550.2,333.2h0M551.7,333h0M553.1,334.7h0M554.6,333.9h0M556,332.6h0M557.5,333.3h0M558.9,333h0M560.4,334h0M561.8,333.8h0M563.3,334.9h0M564.7,334.4h0M566.2,332.2h0M567.6,334.1h0M569.1,334.6h0M570.5,334.2h0M572,334.7h0M573.5,333.2h0M574.9,332.8h0M576.4,334.6h0M577.8,332.6h0M579.3,331.6h0M580.7,334.7h0M582.2,333h0M583.6,333.4h0M585.1,332.3h0M586.5,332.4h0M588,332.6h0M589.4,333.3h0M590.9,334.1h0M592.3,331.4h0M593.8,334.5h0M595.2,332.5h0M596.7,332.6h0" stroke="#8c564b" stroke-width="4.8" stroke-linecap="round" fill="none"/>
<path d="M162.3,345.7h0M163.8,342.7h0M165.2,339.9h0M166.7,342.6h0M168.1,339.6h0M169.6,340.2h0M171,340.1h0M172.5,341.3h0M173.9,339.4h0M175.4,340.8h0M176.8,339.1h0M178.3,340.9h0M179.7,339h0M181.2,339.4h0M182.6,341.6h0M184.1,340h0M185.5,339.8h0M187,341.9h0M188.5,340h0M189.9,338.8h0M191.4,340.3h0M192.8,338.4h0M194.3,340.7h0M195.7,340.8h0M197.2,339h0M198.6,338.9h0M200.1,339.7h0M201.5,339.5h0M203,338.5h0M204.4,340h0M205.9,337.4h0M207.3,339h0M208.8,339h0M210.2,339.1h0M211.7,339.7h0M213.1,338.2h0M214.6,340h0M216.1,339.2h0M217.5,338.7h0M219,338h0M220.4,338.1h0M221.9,339.7h0M223.3,338.3h0M224.8,339.4h0M226.2,340.3h0M227.7,340.3h0M229.1,340.8h0M230.6,338.9h0M232,338.1h0M233.5,340.2h0M234.9,339.5h0M236.4,340.3h0M237.8,339.2h0M239.3,340.4h0M240.8,340h0M242.2,339.9h0M243.7,339.7h0M245.1,339.5h0M246.6,339.4h0M248,339.3h0M249.5,340.1h0M250.9,338.6h0M252.4,340.8h0M253.8,339h0M255.3,340.1h0M256.7,339h0M258.2,338.8h0M259.6,341.1h0M261.1,338.7h0M262.5,337.8h0M264,338.3h0M265.5,338.7h0M266.9,341.2h0M268.4,339.2h0M269.8,339.9h0M271.3,338h0M272.7,339.3h0M274.2,339.7h0M275.6,340.8h0M277.1,338.3h0M278.5,339.6h0M280,339.3h0M281.4,337.9h0M282.9,338.9h0M284.3,338.7h0M285.8,336.6h0M287.2,339.5h0M288.7,339.5h0M290.2,338.5h0M291.6,337.6h0M293.1,340.4h0M294.5,339.2h0M296,339.9h0M297.4,340.3h0M298.9,338.4h0M300.3,339.7h0M301.8,338.6h0M303.2,338.8h0M304.7,338.8h0M306.1,338.9h0M307.6,340h0M309,339h0M310.5,338.7h0M311.9,338.6h0M313.4,339.2h0M314.8,337.9h0M316.3,338.3h0M317.8,338.8h0M319.2,338.3h0M320.7,338.7h0M322.1,338.2h0M323.6,340.8h0M325,340.1h0M326.5,339.3h0M327.9,338.7h0M329.4,341h0M330.8,339.1h0M332.3,338.7h0M333.7,339.1h0M335.2,339.1h0M336.6,340.2h0M338.1,338.8h0M339.5,340.9h0M341,337.9h0M342.5,339.5h0M343.9,337.8h0M345.4,340.6h0M346.8,338.4h0M348.3,338.7h0M349.7,339.7h0M351.2,340h0M352.6,337.6h0M354.1,338.4h0M355.5,337.3h0M357,338.9h0M358.4,338.6h0M359.9,338.4h0M361.3,338h0M362.8,338.3h0M364.2,338h0M365.7,339.2h0M367.2,340.2h0M368.6,336.8h0M370.1,338.6h0M371.5,338.3h0M373,339.2h0M374.4,337.7h0M375.9,338.5h0M377.3,337.6h0M378.8,339.4h0M380.2,338.8h0M381.7,338.5h0M383.1,339h0M384.6,338.4h0M386,337.1h0M387.5,339.3h0M388.9,339h0M390.4,338.5h0M391.8,339.6h0M393.3,339.9h0M394.8,337.6h0M396.2,337.9h0M397.7,340.2h0M399.1,340.1h0M400.6,337.9h0M402,337.5h0M403.5,338h0M404.9,338.1h0M406.4,337.1h0M407.8,338.7h0M409.3,337.4h0M410.7,337.4h0M412.2,339.5h0M413.6,337.9h0M415.1,338.6h0M416.5,339.3h0M418,339.4h0M419.5,338.3h0M420.9,338.7h0M422.4,337.8h0M423.8,340.4h0M425.3,339.3h0M426.7,337.5h0M428.2,338.6h0M429.6,339.3h0M431.1,339.1h0M432.5,340.4h0M434,340h0M435.4,338.1h0M436.9,338.5h0M438.3,337.3h0M439.8,338.8h0M441.2,338.7h0M442.7,341.3h0M444.2,338.7h0M445.6,336.5h0M447.1,337.9h0M448.5,338.7h0M450,337.3h0M451.4,337.7h0M452.9,338.2h0M454.3,338.9h0M455.8,338.4h0M457.2,337.7h0M458.7,339.4h0M460.1,338h0M461.6,338.1h0M463,337.2h0M464.5,337.8h0M465.9,339.2h0M467.4,336.9h0M468.8,338.5h0M470.3,339.3h0M471.8,338.2h0M473.2,338.8h0M474.7,337.4h0M476.1,339.9h0M477.6,339.7h0M479,338.8h0M480.5,336.8h0M481.9,337.5h0M483.4,339.5h0M484.8,340.3h0M486.3,338.8h0M487.7,339.8h0M489.2,337.9h0M490.6,338.4h0M492.1,338.5h0M493.5,339h0M495,337h0M496.5,339.5h0M497.9,339.9h0M499.4,337.4h0M500.8,337.2h0M502.3,338.9h0M503.7,337.9h0M505.2,336.2h0M506.6,339.3h0M508.1,338.7h0M509.5,338.1h0M511,340.6h0M512.4,338.7h0M513.9,337.8h0M515.3,338.6h0M516.8,337.5h0M518.2,337.8h0M519.7,338.9h0M521.2,338h0M522.6,338.1h0M524.1,340.2h0M525.5,339.4h0M527,339.3h0M528.4,339.1h0M529.9,339h0M531.3,340h0M532.8,338.5h0M534.2,340.4h0M535.7,337.6h0M537.1,338.3h0M538.6,337.1h0M540,338.2h0M541.5,339h0M542.9,340h0M544.4,337.9h0M545.9,338.5h0M547.3,338.2h0M548.8,337.8h0M550.2,337.3h0M551.7,338.6h0M553.1,336.8h0M554.6,338.6h0M556,338.5h0M557.5,337.9h0M558.9,337.5h0M560.4,337.1h0M561.8,340.4h0M563.3,337.2h0M564.7,340.1h0M566.2,339.1h0M567.6,338.1h0M569.1,337.4h0M570.5,339.6h0M572,340.2h0M573.5,337.6h0M574.9,338.2h0M576.4,339.6h0M577.8,338.8h0M579.3,340.5h0M580.7,337.9h0M582.2,339h0M583.6,337.3h0M585.1,340.6h0M586.5,337.8h0M588,336.3h0M589.4,338.4h0M590.9,338.4h0M592.3,340.4h0M593.8,338.2h0M595.2,338.5h0M596.7,339.1h0" stroke="#e377c2" stroke-width="4.8" stroke-linecap="round" fill="none"/>
<path d="M161.8,348.1h0M163.3,343.7h0M164.7,343.9h0M166.2,343h0M167.6,341.6h0M169.1,342h0M170.5,341.9h0M172,340.9h0M173.4,343h0M174.9,340.4h0M176.3,343h0M177.8,342.7h0M179.3,341.7h0M180.7,341h0M182.2,341.5h0M183.6,342.2h0M185.1,342.4h0M186.5,342h0M188,342.7h0M189.4,341.1h0M190.9,341.9h0M192.3,340.1h0M193.8,342.4h0M195.3,341.8h0M196.7,341.2h0M198.2,342.8h0M199.6,342.3h0M201.1,338.8h0M202.5,341.6h0M204,340.1h0M205.4,342.6h0M206.9,344.1h0M208.3,341h0M209.8,341.6h0M211.3,341.3h0M212.7,341.9h0M214.2,342.2h0M215.6,342.8h0M217.1,340.5h0M218.5,343.1h0M220,340.6h0M221.4,341.8h0M222.9,342.7h0M224.3,342.2h0M225.8,340.5h0M227.3,340.8h0M228.7,341h0M230.2,341.4h0M231.6,342.6h0M233.1,340.2h0M234.5,341.9h0M236,342h0M237.4,342h0M238.9,341.9h0M240.3,342.9h0M241.8,341.9h0M243.3,342.3h0M244.7,342h0M246.2,343.2h0M247.6,339.5h0M249.1,342.7h0M250.5,341.1h0M252,341.1h0M253.4,340.4h0M254.9,339.5h0M256.3,341h0M257.8,340.7h0M259.3,341.8h0M260.7,339.9h0M262.2,342.8h0M263.6,341.6h0M265.1,341.1h0M266.5,340.6h0M268,340.5h0M269.4,340.2h0M270.9,340.8h0M272.3,341.3h0M273.8,341.1h0M275.3,339.9h0M276.7,341h0M278.2,340.4h0M279.6,341.4h0M281.1,343.1h0M282.5,341.9h0M284,340.9h0M285.4,339.6h0M286.9,339.8h0M288.3,339.5h0M289.8,341.9h0M291.3,340.5h0M292.7,341.3h0M294.2,340.6h0M295.6,341.3h0M297.1,342.6h0M298.5,340.5h0M300,340.8h0M301.4,340.4h0M302.9,342h0M304.3,340.1h0M305.8,340h0M307.3,339.8h0M308.7,339.7h0M310.2,341.6h0M311.6,343.7h0M313.1,340.1h0M314.5,342.1h0M316,341.4h0M317.4,340h0M318.9,340.8h0M320.3,340.9h0M321.8,340.4h0M323.3,343h0M324.7,339.2h0M326.2,341.5h0M327.6,341.4h0M329.1,340.5h0M330.5,341.2h0M332,341.9h0M333.4,341.2h0M334.9,341.5h0M336.3,341.7h0M337.8,339h0M339.3,342.5h0M340.7,343.3h0M342.2,342h0M343.6,342h0M345.1,339.6h0M346.5,340.9h0M348,340.2h0M349.4,340.4h0M350.9,342h0M352.3,340.2h0M353.8,340.9h0M355.3,339.1h0M356.7,340.8h0M358.2,341.1h0M359.6,340.3h0M361.1,340.3h0M362.5,342.9h0M364,339.8h0M365.4,339.9h0M366.9,340.1h0M368.3,342.2h0M369.8,343.1h0M371.3,341.3h0M372.7,340.2h0M374.2,340.5h0M375.6,342h0M377.1,340h0M378.5,342.4h0M380,342.3h0M381.4,341h0M382.9,341.6h0M384.3,341.7h0M385.8,342.5h0M387.2,339.8h0M388.7,342.1h0M390.2,340.5h0M391.6,340.1h0M393.1,341h0M394.5,340.7h0M396,339.9h0M397.4,339.3h0M398.9,339.9h0M400.3,342.3h0M401.8,342.8h0M403.2,341.5h0M404.7,342h0M406.2,340.3h0M407.6,340.8h0M409.1,341.1h0M410.5,339.8h0M412,339.8h0M413.4,340.9h0M414.9,340.5h0M416.3,339.8h0M417.8,341.2h0M419.2,340.6h0M420.7,341.8h0M422.2,340.8h0M423.6,340.5h0M425.1,340.9h0M426.5,340.6h0M428,340.1h0M429.4,340.4h0M430.9,341.5h0M432.3,341.4h0M433.8,342.1h0M435.2,339.1h0M436.7,340.4h0M438.2,340.4h0M439.6,341h0M441.1,340.3h0M442.5,340.3h0M444,341.6h0M445.4,341h0M446.9,339.6h0M448.3,342.1h0M449.8,341.8h0M451.2,340.2h0M452.7,341.6h0M454.2,340h0M455.6,341.9h0M457.1,340.5h0M458.5,340h0M460,340.4h0M461.4,340h0M462.9,340.9h0M464.3,340.9h0M465.8,340.8h0M467.2,340.2h0M468.7,337.1h0M470.2,340.8h0M471.6,338.9h0M473.1,341h0M474.5,341.9h0M476,341h0M477.4,340.4h0M478.9,340.6h0M480.3,340.6h0M481.8,340.2h0M483.2,340.2h0M484.7,339.8h0M486.2,341.9h0M487.6,340.7h0M489.1,341.7h0M490.5,340.5h0M492,340.8h0M493.4,340.6h0M494.9,341.2h0M496.3,341.6h0M497.8,341h0M499.2,340.1h0M500.7,339.9h0M502.2,342.4h0M503.6,340.4h0M505.1,340.4h0M506.5,342.2h0M508,341.8h0M509.4,341.3h0M510.9,340.3h0M512.3,343.1h0M513.8,341.1h0M515.2,341.3h0M516.7,340.6h0M518.2,339.3h0M519.6,339.4h0M521.1,341.1h0M522.5,341.1h0M524,340.5h0M525.4,339.5h0M526.9,339.3h0M528.3,340.4h0M529.8,339.3h0M531.2,341.6h0M532.7,341.9h0M534.2,343.5h0M535.6,341.6h0M537.1,340.1h0M538.5,339.8h0M540,337.3h0M541.4,340.1h0M542.9,340.5h0M544.3,341.7h0M545.8,341.3h0M547.2,341.3h0M548.7,340.9h0M550.2,341.4h0M551.6,342.2h0M553.1,339.6h0M554.5,340.3h0M556,339.3h0M557.4,342.3h0M558.9,342h0M560.3,341.5h0M561.8,339.5h0M563.2,340.9h0M564.7,340.5h0M566.2,340.8h0M567.6,340.5h0M569.1,341.2h0M570.5,340.3h0M572,341.6h0M573.4,340.9h0M574.9,340.4h0M576.3,340.6h0M577.8,340.3h0M579.2,341.5h0M580.7,340.4h0M582.2,341h0M583.6,340.3h0M585.1,339.2h0M586.5,341.6h0M588,339.6h0M589.4,341.4h0M590.9,341.1h0M592.3,339h0M593.8,339.8h0M595.2,340.2h0M596.7,339.9h0" stroke="#7f7f7f" stroke-width="4.8" stroke-linecap="round" fill="none"/>
<path d="M162.3,349C162.5,347.5 162.8,344.4 163.4,340C164,335.6 164.9,329.3 165.9,322.6C166.9,315.9 168.2,306.4 169.3,300C170.4,293.6 171.4,288.8 172.5,284C173.6,279.2 175,275.3 175.8,271.3C176.6,267.3 176.9,264.1 177.5,260C178.1,255.9 178.5,251.2 179.5,246.5C180.5,241.8 181.9,236.7 183.4,231.8C184.9,226.9 186.5,221.3 188.3,217.2C190.1,213.1 192.1,210.2 194.2,207.4C196.3,204.6 198.6,202.6 201,200.6C203.4,198.6 205.9,196.9 208.8,195.2C211.7,193.5 215.3,192.2 218.6,190.3C221.9,188.4 225.5,186.2 228.4,184C231.3,181.8 233.8,179.7 236.2,177.1C238.6,174.5 240.7,171.5 243,168.4C245.3,165.3 247.4,161.7 249.8,158.6C252.2,155.5 254.8,152.6 257.7,149.8C260.6,147 264.1,144.8 267.4,142C270.6,139.2 273.9,135.6 277.2,133.2C280.5,130.8 283.8,129.1 287,127.3C290.2,125.5 293.4,124.2 296.7,122.5C299.9,120.8 302.7,119 306.5,117C310.3,115 315.6,112 319.4,110.2C323.2,108.4 325.9,107.6 329.1,106.3C332.3,105 335.5,103.7 338.7,102.5C341.9,101.3 345.2,100.2 348.4,99.1C351.6,98 354.9,97 358.1,95.7C361.3,94.4 364.6,92.8 367.8,91.3C371,89.8 374.3,88 377.5,87C380.7,86 384,85.5 387.2,85C390.4,84.5 393.7,84.4 396.9,84.1C400.1,83.8 403.3,83.3 406.5,83.1C409.7,82.8 413,82.5 416.2,82.6C419.4,82.6 422.7,83.4 425.9,83.4C429.1,83.4 432.4,83.3 435.6,82.8C438.8,82.3 442.1,81 445.3,80.2C448.5,79.4 451,78.2 455,77.8C459,77.4 465.4,78 469.4,77.8C473.4,77.6 475.9,76.8 479.1,76.8C482.3,76.8 485.5,77.5 488.7,77.6C491.9,77.7 495.2,77.4 498.4,77.3C501.6,77.2 504.9,76.9 508.1,76.8C511.3,76.7 514.6,76.7 517.8,76.8C521,76.9 524.3,77.1 527.5,77.3C530.7,77.5 534,77.5 537.2,77.8C540.4,78.1 543.7,78.8 546.9,79.2C550.1,79.6 553.3,80 556.5,80.2C559.7,80.5 563,80.6 566.2,80.7C569.4,80.8 572.7,81 575.9,81.1C579.1,81.2 582.1,81.2 585.6,81.1C589.1,81 594.9,80.8 596.7,80.7" stroke="#111" stroke-width="6.3" fill="none" stroke-linejoin="round" stroke-linecap="square"/>
<path d="M162.3,349C162.5,347.5 162.8,344.4 163.4,340C164,335.6 164.9,329.3 165.9,322.6C166.9,315.9 168.2,306.4 169.3,300C170.4,293.6 171.4,288.8 172.5,284C173.6,279.2 175,275.3 175.8,271.3C176.6,267.3 176.9,264.1 177.5,260C178.1,255.9 178.5,251.2 179.5,246.5C180.5,241.8 181.9,236.7 183.4,231.8C184.9,226.9 186.5,221.3 188.3,217.2C190.1,213.1 192.1,210.2 194.2,207.4C196.3,204.6 198.6,202.6 201,200.6C203.4,198.6 205.9,196.9 208.8,195.2C211.7,193.5 215.3,192.2 218.6,190.3C221.9,188.4 225.5,186.2 228.4,184C231.3,181.8 233.8,179.7 236.2,177.1C238.6,174.5 240.7,171.5 243,168.4C245.3,165.3 247.4,161.7 249.8,158.6C252.2,155.5 254.8,152.6 257.7,149.8C260.6,147 264.1,144.8 267.4,142C270.6,139.2 273.9,135.6 277.2,133.2C280.5,130.8 283.8,129.1 287,127.3C290.2,125.5 293.4,124.2 296.7,122.5C299.9,120.8 302.7,119 306.5,117C310.3,115 315.6,112 319.4,110.2C323.2,108.4 325.9,107.6 329.1,106.3C332.3,105 335.5,103.7 338.7,102.5C341.9,101.3 345.2,100.2 348.4,99.1C351.6,98 354.9,97 358.1,95.7C361.3,94.4 364.6,92.8 367.8,91.3C371,89.8 374.3,88 377.5,87C380.7,86 384,85.5 387.2,85C390.4,84.5 393.7,84.4 396.9,84.1C400.1,83.8 403.3,83.3 406.5,83.1C409.7,82.8 413,82.5 416.2,82.6C419.4,82.6 422.7,83.4 425.9,83.4C429.1,83.4 432.4,83.3 435.6,82.8C438.8,82.3 442.1,81 445.3,80.2C448.5,79.4 451,78.2 455,77.8C459,77.4 465.4,78 469.4,77.8C473.4,77.6 475.9,76.8 479.1,76.8C482.3,76.8 485.5,77.5 488.7,77.6C491.9,77.7 495.2,77.4 498.4,77.3C501.6,77.2 504.9,76.9 508.1,76.8C511.3,76.7 514.6,76.7 517.8,76.8C521,76.9 524.3,77.1 527.5,77.3C530.7,77.5 534,77.5 537.2,77.8C540.4,78.1 543.7,78.8 546.9,79.2C550.1,79.6 553.3,80 556.5,80.2C559.7,80.5 563,80.6 566.2,80.7C569.4,80.8 572.7,81 575.9,81.1C579.1,81.2 582.1,81.2 585.6,81.1C589.1,81 594.9,80.8 596.7,80.7" stroke="#1f77b4" stroke-width="4.6" fill="none" stroke-linejoin="round" stroke-linecap="square"/>
<path d="M162.2,337C162.5,335.8 162.9,332.6 164,330C165.1,327.4 166.7,324.1 168.5,321.2C170.3,318.2 172.4,314.6 174.7,312.3C176.9,310 178.9,309 182,307.2C185.1,305.4 189.3,303.2 193,301.3C196.7,299.4 200.3,297.4 204,295.5C207.7,293.6 211.2,291.7 214.9,289.6C218.6,287.5 222.2,285.1 225.9,283C229.6,280.9 233.2,279.3 236.9,277.1C240.6,274.9 244.2,271.9 247.9,269.8C251.6,267.7 255.2,266.3 258.9,264.7C262.6,263.1 264.9,262.7 270,260.4C275.1,258.1 282.9,253.5 289.4,250.7C295.8,247.9 302.2,245.5 308.7,243.4C315.1,241.3 321.6,239.8 328.1,238.1C334.6,236.4 341,234.6 347.5,233.2C354,231.8 360.4,230.5 366.9,229.4C373.3,228.3 379.8,227.2 386.2,226.5C392.6,225.8 398.3,225.8 405.6,225.5C412.9,225.2 422.3,225.3 430,224.8C437.7,224.3 444.5,223.2 451.8,222.5C459.1,221.8 466.3,221.1 473.6,220.9C480.9,220.7 488.1,221.3 495.4,221.4C502.7,221.5 509.9,221.3 517.2,221.4C524.5,221.5 531.8,222 539,222C546.2,222 553.5,221.5 560.7,221.4C568,221.3 576.5,221.6 582.5,221.4C588.5,221.2 594.3,220.6 596.7,220.4" stroke="#111" stroke-width="6.3" fill="none" stroke-linejoin="round" stroke-linecap="square"/>
<path d="M162.2,337C162.5,335.8 162.9,332.6 164,330C165.1,327.4 166.7,324.1 168.5,321.2C170.3,318.2 172.4,314.6 174.7,312.3C176.9,310 178.9,309 182,307.2C185.1,305.4 189.3,303.2 193,301.3C196.7,299.4 200.3,297.4 204,295.5C207.7,293.6 211.2,291.7 214.9,289.6C218.6,287.5 222.2,285.1 225.9,283C229.6,280.9 233.2,279.3 236.9,277.1C240.6,274.9 244.2,271.9 247.9,269.8C251.6,267.7 255.2,266.3 258.9,264.7C262.6,263.1 264.9,262.7 270,260.4C275.1,258.1 282.9,253.5 289.4,250.7C295.8,247.9 302.2,245.5 308.7,243.4C315.1,241.3 321.6,239.8 328.1,238.1C334.6,236.4 341,234.6 347.5,233.2C354,231.8 360.4,230.5 366.9,229.4C373.3,228.3 379.8,227.2 386.2,226.5C392.6,225.8 398.3,225.8 405.6,225.5C412.9,225.2 422.3,225.3 430,224.8C437.7,224.3 444.5,223.2 451.8,222.5C459.1,221.8 466.3,221.1 473.6,220.9C480.9,220.7 488.1,221.3 495.4,221.4C502.7,221.5 509.9,221.3 517.2,221.4C524.5,221.5 531.8,222 539,222C546.2,222 553.5,221.5 560.7,221.4C568,221.3 576.5,221.6 582.5,221.4C588.5,221.2 594.3,220.6 596.7,220.4" stroke="#ff7f0e" stroke-width="4.6" fill="none" stroke-linejoin="round" stroke-linecap="square"/>
<path d="M162.3,337C162.6,336.3 163,334.4 164,333C165,331.6 166.3,330.2 168.5,328.8C170.7,327.4 172.8,326 177,324.6C181.2,323.2 188.3,321.9 193.9,320.3C199.5,318.8 205.2,316.9 210.8,315.3C216.5,313.8 222.2,312.6 227.8,311C233.5,309.4 239,307.3 244.7,306C250.3,304.7 257.5,303.8 261.7,303C265.9,302.2 265.4,302.1 270,301C274.6,299.9 282.9,297.8 289.4,296.4C295.8,294.9 302.2,293.6 308.7,292.3C315.1,291.1 321.6,289.8 328.1,288.9C334.6,288 341,287.6 347.5,287C354,286.4 360.4,285.9 366.9,285.5C373.3,285.1 379.8,284.9 386.2,284.6C392.6,284.3 398.3,283.9 405.6,283.6C412.9,283.3 420.5,283 430,282.6C439.5,282.2 451.8,281.5 462.7,281.4C473.6,281.3 485.4,282 495.4,281.9C505.4,281.8 513.5,280.9 522.6,280.8C531.7,280.7 541.7,281.3 549.9,281.4C558.1,281.5 563.8,281.4 571.6,281.4C579.4,281.4 592.5,281.4 596.7,281.4" stroke="#111" stroke-width="6.3" fill="none" stroke-linejoin="round" stroke-linecap="square"/>
<path d="M162.3,337C162.6,336.3 163,334.4 164,333C165,331.6 166.3,330.2 168.5,328.8C170.7,327.4 172.8,326 177,324.6C181.2,323.2 188.3,321.9 193.9,320.3C199.5,318.8 205.2,316.9 210.8,315.3C216.5,313.8 222.2,312.6 227.8,311C233.5,309.4 239,307.3 244.7,306C250.3,304.7 257.5,303.8 261.7,303C265.9,302.2 265.4,302.1 270,301C274.6,299.9 282.9,297.8 289.4,296.4C295.8,294.9 302.2,293.6 308.7,292.3C315.1,291.1 321.6,289.8 328.1,288.9C334.6,288 341,287.6 347.5,287C354,286.4 360.4,285.9 366.9,285.5C373.3,285.1 379.8,284.9 386.2,284.6C392.6,284.3 398.3,283.9 405.6,283.6C412.9,283.3 420.5,283 430,282.6C439.5,282.2 451.8,281.5 462.7,281.4C473.6,281.3 485.4,282 495.4,281.9C505.4,281.8 513.5,280.9 522.6,280.8C531.7,280.7 541.7,281.3 549.9,281.4C558.1,281.5 563.8,281.4 571.6,281.4C579.4,281.4 592.5,281.4 596.7,281.4" stroke="#2ca02c" stroke-width="4.6" fill="none" stroke-linejoin="round" stroke-linecap="square"/>
<path d="M162.3,344C162.7,343.5 163.5,342 164.5,341C165.5,340 166.4,339.3 168.5,338.1C170.6,336.9 172.8,334.8 177,333.9C181.2,333 188.3,332.9 193.9,332.6C199.5,332.3 205.2,332.7 210.8,332.3C216.5,331.9 222.2,331.3 227.8,330.5C233.5,329.7 239,328.7 244.7,327.5C250.3,326.3 254.6,325 261.7,323.5C268.8,322 280.7,319.7 287.1,318.7C293.5,317.7 293.2,318 300,317.5C306.8,317 317,316.2 328.1,315.6C339.2,315 354,314.5 366.9,314.1C379.8,313.7 395.1,313.4 405.6,313.3C416.1,313.2 416.9,313.8 430,313.8C443.1,313.8 466.3,313.6 484.5,313.5C502.7,313.4 520.3,313.2 539,313C557.7,312.8 587.1,312.5 596.7,312.4" stroke="#111" stroke-width="6.3" fill="none" stroke-linejoin="round" stroke-linecap="square"/>
<path d="M162.3,344C162.7,343.5 163.5,342 164.5,341C165.5,340 166.4,339.3 168.5,338.1C170.6,336.9 172.8,334.8 177,333.9C181.2,333 188.3,332.9 193.9,332.6C199.5,332.3 205.2,332.7 210.8,332.3C216.5,331.9 222.2,331.3 227.8,330.5C233.5,329.7 239,328.7 244.7,327.5C250.3,326.3 254.6,325 261.7,323.5C268.8,322 280.7,319.7 287.1,318.7C293.5,317.7 293.2,318 300,317.5C306.8,317 317,316.2 328.1,315.6C339.2,315 354,314.5 366.9,314.1C379.8,313.7 395.1,313.4 405.6,313.3C416.1,313.2 416.9,313.8 430,313.8C443.1,313.8 466.3,313.6 484.5,313.5C502.7,313.4 520.3,313.2 539,313C557.7,312.8 587.1,312.5 596.7,312.4" stroke="#d62728" stroke-width="4.6" fill="none" stroke-linejoin="round" stroke-linecap="square"/>
<path d="M162.3,341C162.7,340.3 163.5,338.2 164.5,337C165.5,335.8 166.4,335.1 168.5,333.9C170.6,332.7 172.8,330.8 177,329.7C181.2,328.6 188.3,327.8 193.9,327.1C199.5,326.5 205.2,326.1 210.8,325.8C216.5,325.5 222.2,325.5 227.8,325.4C233.5,325.3 239,325.2 244.7,325C250.3,324.8 256,324.5 261.7,324.2C267.4,323.9 272.2,323.6 278.6,323.3C285,323 288.5,322.8 300,322.5C311.5,322.2 333.1,321.7 347.5,321.4C361.9,321.1 372.4,321 386.2,320.9C399.9,320.8 413.6,320.9 430,320.8C446.4,320.7 466.3,320.3 484.5,320.2C502.7,320.1 520.3,320 539,320C557.7,320 587.1,320 596.7,320" stroke="#111" stroke-width="6.3" fill="none" stroke-linejoin="round" stroke-linecap="square"/>
<path d="M162.3,341C162.7,340.3 163.5,338.2 164.5,337C165.5,335.8 166.4,335.1 168.5,333.9C170.6,332.7 172.8,330.8 177,329.7C181.2,328.6 188.3,327.8 193.9,327.1C199.5,326.5 205.2,326.1 210.8,325.8C216.5,325.5 222.2,325.5 227.8,325.4C233.5,325.3 239,325.2 244.7,325C250.3,324.8 256,324.5 261.7,324.2C267.4,323.9 272.2,323.6 278.6,323.3C285,323 288.5,322.8 300,322.5C311.5,322.2 333.1,321.7 347.5,321.4C361.9,321.1 372.4,321 386.2,320.9C399.9,320.8 413.6,320.9 430,320.8C446.4,320.7 466.3,320.3 484.5,320.2C502.7,320.1 520.3,320 539,320C557.7,320 587.1,320 596.7,320" stroke="#9467bd" stroke-width="4.6" fill="none" stroke-linejoin="round" stroke-linecap="square"/>
<path d="M162.3,344.5C162.7,343.9 163.6,341.9 164.5,341C165.4,340.1 165.9,339.6 168,339C170.1,338.4 170,338.1 177,337.6C184,337.1 194.5,336.7 210,336.2C225.5,335.7 233.3,335.2 270,334.8C306.7,334.4 375.6,334.1 430,333.9C484.4,333.7 568.9,333.7 596.7,333.7" stroke="#111" stroke-width="6.3" fill="none" stroke-linejoin="round" stroke-linecap="square"/>
<path d="M162.3,344.5C162.7,343.9 163.6,341.9 164.5,341C165.4,340.1 165.9,339.6 168,339C170.1,338.4 170,338.1 177,337.6C184,337.1 194.5,336.7 210,336.2C225.5,335.7 233.3,335.2 270,334.8C306.7,334.4 375.6,334.1 430,333.9C484.4,333.7 568.9,333.7 596.7,333.7" stroke="#8c564b" stroke-width="4.6" fill="none" stroke-linejoin="round" stroke-linecap="square"/>
<path d="M162.3,345C162.7,344.5 163.6,342.8 164.5,342C165.4,341.2 165.9,340.9 168,340.5C170.1,340.1 160,340.1 177,339.8C194,339.6 227.8,339.2 270,339C312.2,338.8 375.6,338.7 430,338.6C484.4,338.5 568.9,338.5 596.7,338.5" stroke="#111" stroke-width="6.3" fill="none" stroke-linejoin="round" stroke-linecap="square"/>
<path d="M162.3,345C162.7,344.5 163.6,342.8 164.5,342C165.4,341.2 165.9,340.9 168,340.5C170.1,340.1 160,340.1 177,339.8C194,339.6 227.8,339.2 270,339C312.2,338.8 375.6,338.7 430,338.6C484.4,338.5 568.9,338.5 596.7,338.5" stroke="#e377c2" stroke-width="4.6" fill="none" stroke-linejoin="round" stroke-linecap="square"/>
<path d="M161.8,346.5C162,346.1 162.3,344.7 163,344C163.7,343.3 164,342.9 166,342.5C168,342.1 157.7,342 175,341.8C192.3,341.6 227.5,341.5 270,341.3C312.5,341.1 375.6,340.9 430,340.8C484.4,340.7 568.9,340.7 596.7,340.7" stroke="#111" stroke-width="6.3" fill="none" stroke-linejoin="round" stroke-linecap="square"/>
<path d="M161.8,346.5C162,346.1 162.3,344.7 163,344C163.7,343.3 164,342.9 166,342.5C168,342.1 157.7,342 175,341.8C192.3,341.6 227.5,341.5 270,341.3C312.5,341.1 375.6,340.9 430,340.8C484.4,340.7 568.9,340.7 596.7,340.7" stroke="#7f7f7f" stroke-width="4.6" fill="none" stroke-linejoin="round" stroke-linecap="square"/>
</g>
<rect x="624.2" y="52.5" width="146.2" height="272.3" rx="4" ry="4" fill="#fff" stroke="#dcdcdc" stroke-width="1.6"/>
<rect x="629.5" y="67.9" width="52.1" height="5.6" fill="#1f77b4" stroke="#333" stroke-width="1"/>
<text x="696" y="78.7" font-size="23" font-family="'DejaVu Sans', sans-serif">500.0</text>
<rect x="629.5" y="101.2" width="52.1" height="5.6" fill="#ff7f0e" stroke="#333" stroke-width="1"/>
<text x="696" y="112" font-size="23" font-family="'DejaVu Sans', sans-serif">250.0</text>
<rect x="629.5" y="134.5" width="52.1" height="5.6" fill="#2ca02c" stroke="#333" stroke-width="1"/>
<text x="696" y="145.3" font-size="23" font-family="'DejaVu Sans', sans-serif">125.0</text>
<rect x="629.5" y="167.8" width="52.1" height="5.6" fill="#d62728" stroke="#333" stroke-width="1"/>
<text x="696" y="178.6" font-size="23" font-family="'DejaVu Sans', sans-serif">62.50</text>
<rect x="629.5" y="201.1" width="52.1" height="5.6" fill="#9467bd" stroke="#333" stroke-width="1"/>
<text x="696" y="211.9" font-size="23" font-family="'DejaVu Sans', sans-serif">31.25</text>
<rect x="629.5" y="234.5" width="52.1" height="5.6" fill="#8c564b" stroke="#333" stroke-width="1"/>
<text x="696" y="245.2" font-size="23" font-family="'DejaVu Sans', sans-serif">15.62</text>
<rect x="629.5" y="267.8" width="52.1" height="5.6" fill="#e377c2" stroke="#333" stroke-width="1"/>
<text x="696" y="278.5" font-size="23" font-family="'DejaVu Sans', sans-serif">7.81</text>
<rect x="629.5" y="301.1" width="52.1" height="5.6" fill="#7f7f7f" stroke="#333" stroke-width="1"/>
<text x="696" y="311.8" font-size="23" font-family="'DejaVu Sans', sans-serif">3.91</text>
<rect x="1006.2" y="49.5" width="483.6" height="314.4" fill="none" stroke="#4a4a4a" stroke-width="1.6"/>
<line x1="1027.9" y1="363.9" x2="1027.9" y2="369.4" stroke="#4a4a4a" stroke-width="1.6"/>
<text x="1027.9" y="391.6" font-size="23" font-family="'DejaVu Sans', sans-serif" text-anchor="middle">0</text>
<line x1="1121.2" y1="363.9" x2="1121.2" y2="369.4" stroke="#4a4a4a" stroke-width="1.6"/>
<text x="1121.2" y="391.6" font-size="23" font-family="'DejaVu Sans', sans-serif" text-anchor="middle">25</text>
<line x1="1214.5" y1="363.9" x2="1214.5" y2="369.4" stroke="#4a4a4a" stroke-width="1.6"/>
<text x="1214.5" y="391.6" font-size="23" font-family="'DejaVu Sans', sans-serif" text-anchor="middle">50</text>
<line x1="1307.8" y1="363.9" x2="1307.8" y2="369.4" stroke="#4a4a4a" stroke-width="1.6"/>
<text x="1307.8" y="391.6" font-size="23" font-family="'DejaVu Sans', sans-serif" text-anchor="middle">75</text>
<line x1="1401.1" y1="363.9" x2="1401.1" y2="369.4" stroke="#4a4a4a" stroke-width="1.6"/>
<text x="1401.1" y="391.6" font-size="23" font-family="'DejaVu Sans', sans-serif" text-anchor="middle">100</text>
<line x1="1000.7" y1="349" x2="1006.2" y2="349" stroke="#4a4a4a" stroke-width="1.6"/>
<text x="995.4" y="357.4" font-size="23" font-family="'DejaVu Sans', sans-serif" text-anchor="end">0</text>
<line x1="1000.7" y1="251.7" x2="1006.2" y2="251.7" stroke="#4a4a4a" stroke-width="1.6"/>
<text x="995.4" y="260" font-size="23" font-family="'DejaVu Sans', sans-serif" text-anchor="end">2000</text>
<line x1="1000.7" y1="154.3" x2="1006.2" y2="154.3" stroke="#4a4a4a" stroke-width="1.6"/>
<text x="995.4" y="162.7" font-size="23" font-family="'DejaVu Sans', sans-serif" text-anchor="end">4000</text>
<line x1="1000.7" y1="57" x2="1006.2" y2="57" stroke="#4a4a4a" stroke-width="1.6"/>
<text x="995.4" y="65.4" font-size="23" font-family="'DejaVu Sans', sans-serif" text-anchor="end">6000</text>
<text x="1187.7" y="420" font-size="23.00" font-family="'DejaVu Sans', sans-serif" textLength="121.53" lengthAdjust="spacingAndGlyphs">time [min]</text>
<g transform="translate(926.3,349.7) rotate(-90)"><text x="-2.3" y="0" font-size="23.00" font-family="'DejaVu Sans', sans-serif" textLength="290.53" lengthAdjust="spacingAndGlyphs">Relative Fluorescent Unit</text></g>
<g clip-path="url(#cb)">
<path d="M1026.3,342.7h0M1027.4,328.8h0M1028.4,320.9h0M1029.5,320h0M1030.5,315.9h0M1031.6,316.2h0M1032.7,311.6h0M1033.7,312.2h0M1034.8,312.6h0M1035.8,309.9h0M1036.9,307.4h0M1038,304.5h0M1039,306.9h0M1040.1,306.3h0M1041.1,303.6h0M1042.2,301.1h0M1043.3,303.8h0M1044.3,308.2h0M1045.4,299.4h0M1046.4,300.1h0M1047.5,299.2h0M1048.6,289.8h0M1049.6,296.3h0M1050.7,292.8h0M1051.7,297.6h0M1052.8,291.9h0M1053.9,289.3h0M1054.9,289.7h0M1056,289.6h0M1057.1,286.4h0M1058.1,286.6h0M1059.2,281.7h0M1060.2,283.6h0M1061.3,285.1h0M1062.4,287.1h0M1063.4,282.1h0M1064.5,279.5h0M1065.5,280.6h0M1066.6,278.7h0M1067.7,279.1h0M1068.7,275.9h0M1069.8,271h0M1070.8,270.5h0M1071.9,268.7h0M1073,267.5h0M1074,265.6h0M1075.1,261.3h0M1076.1,256h0M1077.2,258.6h0M1078.3,253.3h0M1079.3,257.7h0M1080.4,256.1h0M1081.4,250h0M1082.5,255.2h0M1083.6,254.3h0M1084.6,250.8h0M1085.7,253.8h0M1086.7,253h0M1087.8,242.9h0M1088.9,247.8h0M1089.9,244.7h0M1091,243.3h0M1092,243.3h0M1093.1,237.3h0M1094.2,236.3h0M1095.2,234.3h0M1096.3,233.2h0M1097.3,233.7h0M1098.4,228.6h0M1099.5,228.4h0M1100.5,231.6h0M1101.6,228.6h0M1102.6,228.6h0M1103.7,221h0M1104.8,222.9h0M1105.8,222.4h0M1106.9,222.9h0M1107.9,220.1h0M1109,223.3h0M1110.1,219.5h0M1111.1,218.6h0M1112.2,217.6h0M1113.3,218.5h0M1114.3,214.2h0M1115.4,217.6h0M1116.4,214.7h0M1117.5,212.8h0M1118.6,211.5h0M1119.6,211.8h0M1120.7,212.2h0M1121.7,210.9h0M1122.8,208.2h0M1123.9,208.4h0M1124.9,205h0M1126,206.8h0M1127,201.7h0M1128.1,194.3h0M1129.2,202.4h0M1130.2,197.5h0M1131.3,192.7h0M1132.3,194.3h0M1133.4,191.3h0M1134.5,198.5h0M1135.5,193h0M1136.6,186.2h0M1137.6,191.1h0M1138.7,187.4h0M1139.8,192.9h0M1140.8,183.5h0M1141.9,179.1h0M1142.9,184.5h0M1144,182.3h0M1145.1,181.1h0M1146.1,175.2h0M1147.2,181.3h0M1148.2,183.7h0M1149.3,172.7h0M1150.4,180.2h0M1151.4,174.3h0M1152.5,181.4h0M1153.5,175h0M1154.6,172.1h0M1155.7,174.7h0M1156.7,172h0M1157.8,167.7h0M1158.8,170.3h0M1159.9,165.8h0M1161,161.2h0M1162,170.8h0M1163.1,163.2h0M1164.1,161.5h0M1165.2,163.2h0M1166.3,156.9h0M1167.3,156.6h0M1168.4,158.1h0M1169.5,157.2h0M1170.5,158h0M1171.6,160.1h0M1172.6,154.8h0M1173.7,156.7h0M1174.8,156.3h0M1175.8,150.8h0M1176.9,153.8h0M1177.9,149.9h0M1179,154.9h0M1180.1,152.5h0M1181.1,150.7h0M1182.2,146.3h0M1183.2,149.8h0M1184.3,146.7h0M1185.4,150.2h0M1186.4,147.3h0M1187.5,144.7h0M1188.5,148.9h0M1189.6,147.7h0M1190.7,143.4h0M1191.7,147.7h0M1192.8,143h0M1193.8,142.3h0M1194.9,142.9h0M1196,139.8h0M1197,140h0M1198.1,140.1h0M1199.1,144h0M1200.2,143.2h0M1201.3,137.5h0M1202.3,141.9h0M1203.4,136.5h0M1204.4,137h0M1205.5,137.6h0M1206.6,135.3h0M1207.6,140.5h0M1208.7,133.8h0M1209.7,129.2h0M1210.8,135.7h0M1211.9,130.3h0M1212.9,130.1h0M1214,122.1h0M1215,132.8h0M1216.1,131.8h0M1217.2,131.2h0M1218.2,131.2h0M1219.3,132.6h0M1220.3,127.2h0M1221.4,129.3h0M1222.5,124h0M1223.5,124.4h0M1224.6,127.7h0M1225.7,125.2h0M1226.7,119.7h0M1227.8,123.8h0M1228.8,121.6h0M1229.9,119.2h0M1231,122.1h0M1232,119.1h0M1233.1,115.2h0M1234.1,115.8h0M1235.2,123.2h0M1236.3,113.4h0M1237.3,117.6h0M1238.4,118h0M1239.4,117.5h0M1240.5,111.7h0M1241.6,113.6h0M1242.6,114.4h0M1243.7,115.7h0M1244.7,111.1h0M1245.8,109.2h0M1246.9,114.7h0M1247.9,114.5h0M1249,111.9h0M1250,108.7h0M1251.1,111h0M1252.2,109.7h0M1253.2,111.2h0M1254.3,104.8h0M1255.3,108.1h0M1256.4,106.8h0M1257.5,103.6h0M1258.5,106.8h0M1259.6,105.8h0M1260.6,104h0M1261.7,105.7h0M1262.8,100.1h0M1263.8,103.4h0M1264.9,104.2h0M1265.9,103.2h0M1267,104.9h0M1268.1,97.9h0M1269.1,96.5h0M1270.2,100.9h0M1271.2,101h0M1272.3,105.1h0M1273.4,100.4h0M1274.4,95.8h0M1275.5,100h0M1276.6,94.9h0M1277.6,92.7h0M1278.7,103.7h0M1279.7,96.9h0M1280.8,97.6h0M1281.9,96.7h0M1282.9,99.8h0M1284,95.2h0M1285,97.4h0M1286.1,90.7h0M1287.2,89.4h0M1288.2,96.9h0M1289.3,96.7h0M1290.3,93.7h0M1291.4,92.7h0M1292.5,92.2h0M1293.5,89.6h0M1294.6,95.5h0M1295.6,92.8h0M1296.7,92.1h0M1297.8,91.5h0M1298.8,93.1h0M1299.9,91.3h0M1300.9,91.6h0M1302,85.9h0M1303.1,90.3h0M1304.1,94.6h0M1305.2,86.7h0M1306.2,87.4h0M1307.3,89.9h0M1308.4,89.7h0M1309.4,88.4h0M1310.5,81.8h0M1311.5,87.4h0M1312.6,82.3h0M1313.7,83h0M1314.7,86.5h0M1315.8,83.9h0M1316.8,86.7h0M1317.9,93h0M1319,86.1h0M1320,85.7h0M1321.1,80.9h0M1322.1,81.4h0M1323.2,79.9h0M1324.3,81.2h0M1325.3,79.3h0M1326.4,80.3h0M1327.4,81.3h0M1328.5,78.8h0M1329.6,77.3h0M1330.6,77.2h0M1331.7,82h0M1332.8,80.6h0M1333.8,83.1h0M1334.9,82.9h0M1335.9,78.8h0M1337,81.4h0M1338.1,75.2h0M1339.1,85.4h0M1340.2,82.2h0M1341.2,78h0M1342.3,75.2h0M1343.4,79.3h0M1344.4,72.8h0M1345.5,75.6h0M1346.5,79.7h0M1347.6,77.6h0M1348.7,75.8h0M1349.7,79.6h0M1350.8,73.8h0M1351.8,77.3h0M1352.9,74.9h0M1354,73.7h0M1355,77.1h0M1356.1,72.9h0M1357.1,80.8h0M1358.2,73.6h0M1359.3,80.6h0M1360.3,71.8h0M1361.4,76.4h0M1362.4,71.2h0M1363.5,70.6h0M1364.6,74.6h0M1365.6,75.9h0M1366.7,70.3h0M1367.7,77h0M1368.8,71.4h0M1369.9,73.8h0M1370.9,74.4h0M1372,74.9h0M1373,68.1h0M1374.1,77.6h0M1375.2,74.6h0M1376.2,71.8h0M1377.3,70.1h0M1378.3,68.2h0M1379.4,69.1h0M1380.5,74.4h0M1381.5,71.9h0M1382.6,69.6h0M1383.6,71.3h0M1384.7,77.1h0M1385.8,71.8h0M1386.8,71.1h0M1387.9,76.5h0M1389,74.1h0M1390,72.9h0M1391.1,71.1h0M1392.1,68.4h0M1393.2,69.5h0M1394.3,71.5h0M1395.3,72.2h0M1396.4,73.9h0M1397.4,74.4h0M1398.5,73.5h0M1399.6,73.6h0M1400.6,70.1h0M1401.7,66.9h0M1402.7,71.5h0M1403.8,70.2h0M1404.9,71h0M1405.9,71.9h0M1407,69h0M1408,69.2h0M1409.1,71.8h0M1410.2,72.2h0M1411.2,69.8h0M1412.3,72.7h0M1413.3,70.5h0M1414.4,68h0M1415.5,70.8h0M1416.5,75.8h0M1417.6,68.5h0M1418.6,73.5h0M1419.7,73.9h0M1420.8,74.1h0M1421.8,67.5h0M1422.9,75.3h0M1423.9,69.9h0M1425,68.8h0M1426.1,68.8h0M1427.1,71.1h0M1428.2,69.5h0M1429.2,68.9h0M1430.3,73.1h0M1431.4,67.5h0M1432.4,66.7h0M1433.5,72h0M1434.5,71.9h0M1435.6,73.1h0M1436.7,67.2h0M1437.7,73.3h0M1438.8,71.8h0M1439.8,75.5h0M1440.9,67.2h0M1442,71.4h0M1443,70.1h0M1444.1,66.5h0M1445.2,69.1h0M1446.2,74.4h0M1447.3,70h0M1448.3,69.4h0M1449.4,74h0M1450.5,74.4h0M1451.5,74.5h0M1452.6,69.6h0M1453.6,71.7h0M1454.7,74.8h0M1455.8,70.2h0M1456.8,70h0M1457.9,74.4h0M1458.9,76.5h0M1460,69h0M1461.1,65h0M1462.1,68.2h0M1463.2,69.5h0M1464.2,72h0M1465.3,74.1h0M1466.4,71.9h0M1467.4,70.4h0M1468.5,72.8h0M1469.5,69.6h0M1470.6,72.2h0M1365.5,66.8h0M1383.2,66h0M1329.2,76.4h0M1348.4,88.5h0M1357,79h0M1402,80.7h0M1458.4,80h0M1419,98h0M1204,146.4h0M1272.1,101.8h0M1299,78h0" stroke="#1f77b4" stroke-width="4.8" stroke-linecap="round" fill="none"/>
<path d="M1025.9,343.3h0M1027,342.4h0M1028,334.4h0M1029.1,327.2h0M1030.1,324h0M1031.2,322.8h0M1032.3,317.1h0M1033.3,317.1h0M1034.4,314.9h0M1035.5,317.1h0M1036.5,311.9h0M1037.6,309.3h0M1038.6,306.4h0M1039.7,305.4h0M1040.8,307.1h0M1041.8,305.5h0M1042.9,308h0M1043.9,302.4h0M1045,305.9h0M1046.1,302.9h0M1047.1,301.4h0M1048.2,295.4h0M1049.2,296.6h0M1050.3,301.2h0M1051.4,302.3h0M1052.4,298.7h0M1053.5,299.6h0M1054.6,296.1h0M1055.6,295.8h0M1056.7,294.7h0M1057.7,298.8h0M1058.8,297h0M1059.9,295.4h0M1060.9,295.1h0M1062,297.4h0M1063,296.6h0M1064.1,293.4h0M1065.2,299.6h0M1066.2,295.2h0M1067.3,293.9h0M1068.4,296.9h0M1069.4,294.9h0M1070.5,291.2h0M1071.5,292h0M1072.6,287h0M1073.7,287.3h0M1074.7,282.2h0M1075.8,290.4h0M1076.8,281.5h0M1077.9,287.4h0M1079,282.6h0M1080,281.4h0M1081.1,282.6h0M1082.2,283h0M1083.2,283.1h0M1084.3,285.3h0M1085.3,280.8h0M1086.4,281.4h0M1087.5,276.8h0M1088.5,279.4h0M1089.6,277.1h0M1090.6,274.7h0M1091.7,274.8h0M1092.8,274h0M1093.8,273.7h0M1094.9,273.2h0M1095.9,269.8h0M1097,268.2h0M1098.1,271.1h0M1099.1,263.9h0M1100.2,265.8h0M1101.3,270.7h0M1102.3,258.9h0M1103.4,263.4h0M1104.4,266.4h0M1105.5,259.7h0M1106.6,270.1h0M1107.6,256h0M1108.7,265.9h0M1109.7,265.6h0M1110.8,263.4h0M1111.9,259.9h0M1112.9,260.9h0M1114,257.1h0M1115.1,261.1h0M1116.1,255.5h0M1117.2,257.2h0M1118.2,260h0M1119.3,254h0M1120.4,255.3h0M1121.4,256.1h0M1122.5,251.5h0M1123.5,257.4h0M1124.6,254.6h0M1125.7,249.1h0M1126.7,252.3h0M1127.8,249.8h0M1128.8,249.4h0M1129.9,250.7h0M1131,248h0M1132,251.7h0M1133.1,246.7h0M1134.2,250.5h0M1135.2,247.1h0M1136.3,248.8h0M1137.3,244.6h0M1138.4,244h0M1139.5,241.7h0M1140.5,245.6h0M1141.6,245.9h0M1142.6,248.3h0M1143.7,245.5h0M1144.8,242.2h0M1145.8,240.4h0M1146.9,241.3h0M1148,239.6h0M1149,242.9h0M1150.1,241h0M1151.1,235.8h0M1152.2,235.6h0M1153.3,240.4h0M1154.3,237h0M1155.4,235.1h0M1156.4,238.2h0M1157.5,233.5h0M1158.6,233.2h0M1159.6,232.1h0M1160.7,227.6h0M1161.8,234.4h0M1162.8,228.4h0M1163.9,229.4h0M1164.9,228.3h0M1166,231.5h0M1167.1,228.8h0M1168.1,228.4h0M1169.2,223.3h0M1170.2,226.8h0M1171.3,222.6h0M1172.4,226.5h0M1173.4,226h0M1174.5,224.4h0M1175.5,229h0M1176.6,224.4h0M1177.7,224h0M1178.7,222.2h0M1179.8,220.7h0M1180.9,223.1h0M1181.9,223h0M1183,216.2h0M1184,221.9h0M1185.1,220.1h0M1186.2,220.8h0M1187.2,219.1h0M1188.3,214.3h0M1189.3,214.1h0M1190.4,221.5h0M1191.5,217h0M1192.5,212.2h0M1193.6,216.4h0M1194.7,214.1h0M1195.7,209.9h0M1196.8,208.3h0M1197.8,209.7h0M1198.9,214.1h0M1200,212.9h0M1201,211.9h0M1202.1,212.9h0M1203.1,213.2h0M1204.2,205.7h0M1205.3,209.9h0M1206.3,208.1h0M1207.4,206.5h0M1208.4,207.8h0M1209.5,208.4h0M1210.6,207.6h0M1211.6,204h0M1212.7,206.1h0M1213.8,212.1h0M1214.8,203.7h0M1215.9,201.6h0M1216.9,206.3h0M1218,206.7h0M1219.1,205.9h0M1220.1,201.4h0M1221.2,206.5h0M1222.2,201.5h0M1223.3,200.3h0M1224.4,201.3h0M1225.4,202.3h0M1226.5,204.2h0M1227.6,203.7h0M1228.6,201.7h0M1229.7,204h0M1230.7,201.5h0M1231.8,203.4h0M1232.9,197.2h0M1233.9,196.5h0M1235,202.4h0M1236,196.5h0M1237.1,199.2h0M1238.2,199.5h0M1239.2,198.3h0M1240.3,198.2h0M1241.4,202.8h0M1242.4,192.3h0M1243.5,201h0M1244.5,204.4h0M1245.6,198.2h0M1246.7,197.9h0M1247.7,199.5h0M1248.8,202.1h0M1249.8,194h0M1250.9,197.1h0M1252,196.1h0M1253,197.7h0M1254.1,196.4h0M1255.1,197.5h0M1256.2,194.4h0M1257.3,195.3h0M1258.3,193.1h0M1259.4,192.9h0M1260.5,194h0M1261.5,193.7h0M1262.6,190.8h0M1263.6,197.7h0M1264.7,193.1h0M1265.8,189.7h0M1266.8,196h0M1267.9,191.1h0M1268.9,194.3h0M1270,192.8h0M1271.1,193.4h0M1272.1,193.1h0M1273.2,191.1h0M1274.3,192.6h0M1275.3,197.7h0M1276.4,186.5h0M1277.4,192.4h0M1278.5,193.2h0M1279.6,189.3h0M1280.6,188.3h0M1281.7,197.4h0M1282.7,190.7h0M1283.8,196.9h0M1284.9,192.8h0M1285.9,191.5h0M1287,192.4h0M1288.1,192.6h0M1289.1,193.9h0M1290.2,191.8h0M1291.2,190.9h0M1292.3,190.8h0M1293.4,193.7h0M1294.4,192.1h0M1295.5,187.3h0M1296.5,188.1h0M1297.6,190.5h0M1298.7,187.9h0M1299.7,188.4h0M1300.8,186.8h0M1301.8,188.5h0M1302.9,190.2h0M1304,191.5h0M1305,188.9h0M1306.1,194.2h0M1307.2,188.5h0M1308.2,196.9h0M1309.3,191.2h0M1310.3,189.9h0M1311.4,187.2h0M1312.5,181.1h0M1313.5,188h0M1314.6,188.7h0M1315.6,193.2h0M1316.7,184.5h0M1317.8,193h0M1318.8,187.3h0M1319.9,189.7h0M1321,181.1h0M1322,188h0M1323.1,186.6h0M1324.1,189.1h0M1325.2,187.4h0M1326.3,184h0M1327.3,189.3h0M1328.4,188.4h0M1329.4,187.9h0M1330.5,188.7h0M1331.6,188.7h0M1332.6,185.6h0M1333.7,181.9h0M1334.7,181.6h0M1335.8,188.5h0M1336.9,186.7h0M1337.9,185h0M1339,183.5h0M1340.1,184.6h0M1341.1,184.4h0M1342.2,183.4h0M1343.2,182.3h0M1344.3,189.7h0M1345.4,184.6h0M1346.4,182.3h0M1347.5,180.4h0M1348.5,181.8h0M1349.6,185.5h0M1350.7,185.5h0M1351.7,182.9h0M1352.8,183.6h0M1353.9,182.6h0M1354.9,180.5h0M1356,186.7h0M1357,184.2h0M1358.1,189.7h0M1359.2,181.2h0M1360.2,182.8h0M1361.3,185.5h0M1362.3,182.5h0M1363.4,179.6h0M1364.5,180.7h0M1365.5,183.5h0M1366.6,184.1h0M1367.7,183h0M1368.7,185.8h0M1369.8,185.8h0M1370.8,184h0M1371.9,183.2h0M1373,182.5h0M1374,184.5h0M1375.1,185.4h0M1376.1,183.1h0M1377.2,184.1h0M1378.3,182h0M1379.3,179.1h0M1380.4,180.1h0M1381.4,184.7h0M1382.5,183.9h0M1383.6,186.8h0M1384.6,182.8h0M1385.7,184.9h0M1386.8,186.1h0M1387.8,185.3h0M1388.9,181.1h0M1389.9,182.2h0M1391,183h0M1392.1,180.1h0M1393.1,183.9h0M1394.2,185.4h0M1395.2,181.5h0M1396.3,187.9h0M1397.4,182h0M1398.4,182.2h0M1399.5,182.2h0M1400.6,180.9h0M1401.6,183.9h0M1402.7,182.8h0M1403.7,187.1h0M1404.8,184.3h0M1405.9,184h0M1406.9,182h0M1408,178.8h0M1409,182.1h0M1410.1,180h0M1411.2,184.5h0M1412.2,181.8h0M1413.3,186.1h0M1414.3,183.6h0M1415.4,183.7h0M1416.5,182.1h0M1417.5,182h0M1418.6,183.1h0M1419.7,183.8h0M1420.7,179.6h0M1421.8,182.7h0M1422.8,188.2h0M1423.9,181.2h0M1425,180.8h0M1426,179.7h0M1427.1,177.7h0M1428.1,184.6h0M1429.2,181.7h0M1430.3,182.3h0M1431.3,186.3h0M1432.4,188h0M1433.5,179.1h0M1434.5,184.2h0M1435.6,183h0M1436.6,182.5h0M1437.7,182.7h0M1438.8,181.4h0M1439.8,185.7h0M1440.9,183.2h0M1441.9,182.6h0M1443,185.1h0M1444.1,184.3h0M1445.1,183.3h0M1446.2,183.1h0M1447.3,186.9h0M1448.3,183.8h0M1449.4,182.3h0M1450.4,180.4h0M1451.5,181.8h0M1452.6,180.1h0M1453.6,183.1h0M1454.7,183.5h0M1455.7,177.6h0M1456.8,182.9h0M1457.9,184.5h0M1458.9,183.2h0M1460,180.2h0M1461,185.9h0M1462.1,180.7h0M1463.2,179.1h0M1464.2,179.3h0M1465.3,181.9h0M1466.4,184.3h0M1467.4,184.6h0M1468.5,181.9h0M1469.5,178h0M1470.6,179.2h0M1366.3,173h0M1393.6,177.6h0M1314,198.5h0M1335.4,202.5h0M1388.7,195h0M1400,193.5h0M1447.5,191.2h0M1206.5,221.5h0M1217,212h0M1248.5,199.5h0M1310.5,184.5h0M1304,194h0" stroke="#ff7f0e" stroke-width="4.8" stroke-linecap="round" fill="none"/>
<path d="M1024.9,341.5h0M1026,340.1h0M1027,334h0M1028.1,337.7h0M1029.2,337.6h0M1030.2,333.8h0M1031.3,333.9h0M1032.3,328.3h0M1033.4,325.1h0M1034.5,325.4h0M1035.5,328h0M1036.6,324.9h0M1037.7,317.8h0M1038.7,319.6h0M1039.8,312.9h0M1040.9,316h0M1041.9,311.2h0M1043,306.9h0M1044,309.1h0M1045.1,303.6h0M1046.2,302.3h0M1047.2,300.2h0M1048.3,304.4h0M1049.4,303h0M1050.4,302.6h0M1051.5,301.3h0M1052.6,306.2h0M1053.6,300.7h0M1054.7,299.7h0M1055.7,305.1h0M1056.8,305.6h0M1057.9,302.6h0M1058.9,296.8h0M1060,300.1h0M1061.1,303.5h0M1062.1,301.7h0M1063.2,305.9h0M1064.2,297.5h0M1065.3,302.9h0M1066.4,298.9h0M1067.4,303.9h0M1068.5,299.4h0M1069.6,301.9h0M1070.6,296.6h0M1071.7,293.9h0M1072.8,294.1h0M1073.8,294.9h0M1074.9,293.2h0M1075.9,298.9h0M1077,298.8h0M1078.1,295.3h0M1079.1,291.1h0M1080.2,293.2h0M1081.3,291.1h0M1082.3,296.6h0M1083.4,292.9h0M1084.5,292.9h0M1085.5,289.9h0M1086.6,284.8h0M1087.6,287.7h0M1088.7,286.1h0M1089.8,289.7h0M1090.8,288.2h0M1091.9,285.1h0M1093,285.6h0M1094,290.4h0M1095.1,282.8h0M1096.2,282.3h0M1097.2,283.7h0M1098.3,282h0M1099.3,282.4h0M1100.4,284.8h0M1101.5,287.9h0M1102.5,277.9h0M1103.6,282.7h0M1104.7,282.6h0M1105.7,282.1h0M1106.8,281.6h0M1107.9,281h0M1108.9,284.6h0M1110,280.3h0M1111,281.1h0M1112.1,281.2h0M1113.2,281.3h0M1114.2,280.2h0M1115.3,283.1h0M1116.4,279.8h0M1117.4,279.8h0M1118.5,278.6h0M1119.6,275.3h0M1120.6,275.2h0M1121.7,274h0M1122.7,276.9h0M1123.8,273.8h0M1124.9,272.4h0M1125.9,275.5h0M1127,275.9h0M1128.1,269h0M1129.1,278.2h0M1130.2,273.2h0M1131.2,272.4h0M1132.3,275.3h0M1133.4,272.2h0M1134.4,270h0M1135.5,277.5h0M1136.6,268.1h0M1137.6,270.6h0M1138.7,273.1h0M1139.8,267.5h0M1140.8,270h0M1141.9,271.2h0M1142.9,276.7h0M1144,267.4h0M1145.1,269.8h0M1146.1,271.9h0M1147.2,270.3h0M1148.3,266.8h0M1149.3,271.2h0M1150.4,270.2h0M1151.5,271h0M1152.5,272.6h0M1153.6,272h0M1154.6,270h0M1155.7,269.5h0M1156.8,265.2h0M1157.8,267.6h0M1158.9,268.3h0M1160,266.2h0M1161,267.3h0M1162.1,264.4h0M1163.2,270.7h0M1164.2,272.1h0M1165.3,264.7h0M1166.3,266.6h0M1167.4,264.5h0M1168.5,268.4h0M1169.5,265.7h0M1170.6,264.4h0M1171.7,263.2h0M1172.7,263.8h0M1173.8,260.2h0M1174.9,264.5h0M1175.9,260.2h0M1177,263.3h0M1178,261.8h0M1179.1,264.1h0M1180.2,260.6h0M1181.2,263.2h0M1182.3,257.5h0M1183.4,261.4h0M1184.4,258.8h0M1185.5,259.7h0M1186.5,259.1h0M1187.6,261.3h0M1188.7,252.7h0M1189.7,259.1h0M1190.8,253.8h0M1191.9,261.1h0M1192.9,252h0M1194,254.6h0M1195.1,252.5h0M1196.1,261.7h0M1197.2,253.3h0M1198.2,257.1h0M1199.3,255.2h0M1200.4,251.5h0M1201.4,255.4h0M1202.5,258h0M1203.6,255.5h0M1204.6,258.4h0M1205.7,254.5h0M1206.8,255.3h0M1207.8,254h0M1208.9,255.8h0M1209.9,260h0M1211,255.5h0M1212.1,254.8h0M1213.1,252.3h0M1214.2,251.7h0M1215.3,257.8h0M1216.3,250.4h0M1217.4,250.7h0M1218.5,252.9h0M1219.5,251.8h0M1220.6,258.3h0M1221.6,246.1h0M1222.7,253.7h0M1223.8,254.7h0M1224.8,249.5h0M1225.9,250.9h0M1227,254h0M1228,257.4h0M1229.1,250.3h0M1230.2,248.6h0M1231.2,255.8h0M1232.3,257.4h0M1233.3,252.3h0M1234.4,247.1h0M1235.5,257.4h0M1236.5,252.9h0M1237.6,256.7h0M1238.7,253.5h0M1239.7,252.6h0M1240.8,252.4h0M1241.9,257.8h0M1242.9,257.7h0M1244,247.7h0M1245,251h0M1246.1,258.5h0M1247.2,252.5h0M1248.2,249.6h0M1249.3,253.3h0M1250.4,252.9h0M1251.4,252.8h0M1252.5,251.5h0M1253.5,251.9h0M1254.6,251.3h0M1255.7,253.3h0M1256.7,249.9h0M1257.8,251.1h0M1258.9,251.3h0M1259.9,255.1h0M1261,252.3h0M1262.1,250.7h0M1263.1,252.3h0M1264.2,251.7h0M1265.2,253.5h0M1266.3,251.7h0M1267.4,255.1h0M1268.4,253.7h0M1269.5,249.6h0M1270.6,248.4h0M1271.6,251.9h0M1272.7,250.7h0M1273.8,248.8h0M1274.8,244.8h0M1275.9,243.7h0M1276.9,249.6h0M1278,250.7h0M1279.1,250.6h0M1280.1,244.7h0M1281.2,251h0M1282.3,246.5h0M1283.3,248.9h0M1284.4,248.8h0M1285.5,245.1h0M1286.5,245.5h0M1287.6,241.1h0M1288.6,244h0M1289.7,241.3h0M1290.8,247.3h0M1291.8,245.9h0M1292.9,248h0M1294,246.2h0M1295,243.2h0M1296.1,245.7h0M1297.2,243.4h0M1298.2,246h0M1299.3,245h0M1300.3,241.2h0M1301.4,243.9h0M1302.5,244h0M1303.5,242.9h0M1304.6,246.4h0M1305.7,248.8h0M1306.7,243.3h0M1307.8,243.6h0M1308.9,238.7h0M1309.9,244.9h0M1311,244.4h0M1312,239.9h0M1313.1,247.1h0M1314.2,248.3h0M1315.2,244.9h0M1316.3,246.3h0M1317.4,244.9h0M1318.4,250.1h0M1319.5,244h0M1320.5,247.6h0M1321.6,254.1h0M1322.7,249h0M1323.7,250.4h0M1324.8,248.9h0M1325.9,246.2h0M1326.9,249.5h0M1328,250.8h0M1329.1,246.7h0M1330.1,250.4h0M1331.2,252.7h0M1332.2,251.9h0M1333.3,243.9h0M1334.4,245h0M1335.4,242.6h0M1336.5,249.5h0M1337.6,247.5h0M1338.6,247.2h0M1339.7,242.2h0M1340.8,241h0M1341.8,244.2h0M1342.9,244h0M1343.9,241.1h0M1345,243.7h0M1346.1,245h0M1347.1,243.7h0M1348.2,240.2h0M1349.3,237.2h0M1350.3,242.4h0M1351.4,243.7h0M1352.5,242.7h0M1353.5,242.4h0M1354.6,242h0M1355.6,246.2h0M1356.7,244.4h0M1357.8,245.3h0M1358.8,242.6h0M1359.9,244h0M1361,246.6h0M1362,243.7h0M1363.1,243.5h0M1364.2,246.8h0M1365.2,251.6h0M1366.3,248.9h0M1367.3,252.5h0M1368.4,247.9h0M1369.5,247.2h0M1370.5,244h0M1371.6,246.1h0M1372.7,251.5h0M1373.7,248.1h0M1374.8,249h0M1375.8,248.6h0M1376.9,246.3h0M1378,245.4h0M1379,245.9h0M1380.1,246.9h0M1381.2,245.9h0M1382.2,245.5h0M1383.3,244h0M1384.4,241h0M1385.4,242h0M1386.5,239.8h0M1387.5,244.9h0M1388.6,236h0M1389.7,241.1h0M1390.7,248.2h0M1391.8,240.4h0M1392.9,238.1h0M1393.9,241.2h0M1395,244.8h0M1396.1,240.7h0M1397.1,242.9h0M1398.2,241.5h0M1399.2,240.3h0M1400.3,250.4h0M1401.4,242h0M1402.4,240.6h0M1403.5,241h0M1404.6,243.7h0M1405.6,244h0M1406.7,245.2h0M1407.8,243.6h0M1408.8,239.3h0M1409.9,244.9h0M1410.9,242.6h0M1412,242.7h0M1413.1,239.4h0M1414.1,242h0M1415.2,241.7h0M1416.3,243.6h0M1417.3,239.7h0M1418.4,244h0M1419.5,244.3h0M1420.5,240.8h0M1421.6,242.3h0M1422.6,241.7h0M1423.7,246.8h0M1424.8,237.3h0M1425.8,243.5h0M1426.9,240h0M1428,243.5h0M1429,247.2h0M1430.1,243.2h0M1431.2,245.5h0M1432.2,242.9h0M1433.3,250.9h0M1434.3,248.2h0M1435.4,248.9h0M1436.5,242.2h0M1437.5,243h0M1438.6,249.3h0M1439.7,245.9h0M1440.7,246h0M1441.8,247.8h0M1442.8,243.6h0M1443.9,249.5h0M1445,247.7h0M1446,249.2h0M1447.1,246.2h0M1448.2,249.8h0M1449.2,246.6h0M1450.3,251.4h0M1451.4,252.1h0M1452.4,251.7h0M1453.5,250.8h0M1454.5,251.2h0M1455.6,241.9h0M1456.7,251.9h0M1457.7,248.7h0M1458.8,249.4h0M1459.9,247.8h0M1460.9,244h0M1462,245.5h0M1463.1,247.7h0M1464.1,248.6h0M1465.2,241.7h0M1466.2,239.8h0M1467.3,245.4h0M1468.4,237.8h0M1469.4,245h0M1470.5,238.2h0M1321.3,267.4h0M1328.5,259.7h0M1365.6,260.7h0M1381,259.7h0M1415,262.8h0M1416,256.1h0M1438.6,260.7h0M1443.8,262.8h0M1456.1,261.7h0M1461.3,257.6h0M1452,256.6h0M1323.4,240.1h0M1353.2,239.1h0M1377.9,239.1h0M1407.8,237h0M1430.4,238.1h0M1442.7,238.1h0M1451,240.1h0M1307.4,237.2h0M1248,262.6h0M1268,265.6h0M1296.6,264.3h0M1300,265.3h0M1288,257h0M1230,248.5h0M1255,246h0M1190,264h0" stroke="#2ca02c" stroke-width="4.8" stroke-linecap="round" fill="none"/>
<path d="M1026,345.4h0M1027.1,346h0M1028.1,344.7h0M1029.2,336.8h0M1030.2,340.5h0M1031.3,335.6h0M1032.4,337.6h0M1033.4,333.4h0M1034.5,330.7h0M1035.5,334h0M1036.6,334.5h0M1037.7,336.4h0M1038.7,335.6h0M1039.8,333.6h0M1040.9,331.9h0M1041.9,331.3h0M1043,331.6h0M1044,330.6h0M1045.1,331.6h0M1046.2,327.4h0M1047.2,332.2h0M1048.3,331.8h0M1049.3,336.3h0M1050.4,333h0M1051.5,330.5h0M1052.5,332.2h0M1053.6,328.6h0M1054.6,329.3h0M1055.7,326.5h0M1056.8,331.8h0M1057.8,329.7h0M1058.9,325.9h0M1059.9,327.5h0M1061,328.9h0M1062.1,327.8h0M1063.1,327.4h0M1064.2,324.9h0M1065.3,325.1h0M1066.3,326.2h0M1067.4,327.5h0M1068.4,324.2h0M1069.5,323.5h0M1070.6,327.4h0M1071.6,323.5h0M1072.7,327h0M1073.7,325.3h0M1074.8,326.3h0M1075.9,327.7h0M1076.9,325.7h0M1078,325.7h0M1079,322.5h0M1080.1,322.7h0M1081.2,325h0M1082.2,326.5h0M1083.3,326.1h0M1084.3,327.6h0M1085.4,323.8h0M1086.5,323.4h0M1087.5,324.7h0M1088.6,322.8h0M1089.7,322.5h0M1090.7,320.6h0M1091.8,324.1h0M1092.8,320.2h0M1093.9,322.9h0M1095,319.3h0M1096,323.6h0M1097.1,319.7h0M1098.1,322.9h0M1099.2,318.3h0M1100.3,320.2h0M1101.3,323h0M1102.4,319.2h0M1103.4,320.6h0M1104.5,319.5h0M1105.6,316h0M1106.6,320.5h0M1107.7,320.5h0M1108.7,317.5h0M1109.8,320.3h0M1110.9,317.7h0M1111.9,317.1h0M1113,318.6h0M1114.1,317.2h0M1115.1,322.3h0M1116.2,315.2h0M1117.2,319.1h0M1118.3,319.3h0M1119.4,313.7h0M1120.4,314h0M1121.5,317.9h0M1122.5,315.8h0M1123.6,317.2h0M1124.7,318.4h0M1125.7,315.5h0M1126.8,314h0M1127.8,310.9h0M1128.9,316h0M1130,313.8h0M1131,315.9h0M1132.1,315.6h0M1133.1,312.5h0M1134.2,318h0M1135.3,316.7h0M1136.3,316.1h0M1137.4,312.3h0M1138.5,313.6h0M1139.5,313.2h0M1140.6,313.3h0M1141.6,311.9h0M1142.7,314.6h0M1143.8,314.2h0M1144.8,314.4h0M1145.9,312.9h0M1146.9,316.4h0M1148,314.6h0M1149.1,309.3h0M1150.1,313h0M1151.2,314h0M1152.2,315.7h0M1153.3,313.4h0M1154.4,313.3h0M1155.4,312.5h0M1156.5,314.8h0M1157.5,312.6h0M1158.6,312.2h0M1159.7,311.9h0M1160.7,314.1h0M1161.8,312h0M1162.9,309.8h0M1163.9,313.8h0M1165,311.3h0M1166,313.1h0M1167.1,313h0M1168.2,314.3h0M1169.2,313.9h0M1170.3,310.8h0M1171.3,311.4h0M1172.4,309.3h0M1173.5,314.4h0M1174.5,312.1h0M1175.6,313.6h0M1176.6,310.4h0M1177.7,307.1h0M1178.8,313.3h0M1179.8,310.6h0M1180.9,310.5h0M1181.9,310.2h0M1183,311.1h0M1184.1,310.7h0M1185.1,306.7h0M1186.2,311.4h0M1187.3,308.3h0M1188.3,308.3h0M1189.4,312.1h0M1190.4,310.5h0M1191.5,308.1h0M1192.6,305.2h0M1193.6,308.8h0M1194.7,309.3h0M1195.7,308.1h0M1196.8,305.9h0M1197.9,306.7h0M1198.9,305.7h0M1200,308.3h0M1201,309.3h0M1202.1,309.6h0M1203.2,306.4h0M1204.2,308h0M1205.3,308.5h0M1206.3,306.6h0M1207.4,307.1h0M1208.5,311.2h0M1209.5,307.6h0M1210.6,308.8h0M1211.7,306.4h0M1212.7,307.1h0M1213.8,303.9h0M1214.8,306.9h0M1215.9,309h0M1217,310.6h0M1218,308.9h0M1219.1,308h0M1220.1,306.8h0M1221.2,305.5h0M1222.3,306.3h0M1223.3,307.6h0M1224.4,305.1h0M1225.4,308.1h0M1226.5,304.6h0M1227.6,303.1h0M1228.6,304.5h0M1229.7,303.3h0M1230.7,303.7h0M1231.8,308.2h0M1232.9,305.7h0M1233.9,306.4h0M1235,308.1h0M1236.1,308.2h0M1237.1,305h0M1238.2,308.2h0M1239.2,306.5h0M1240.3,305.8h0M1241.4,306.5h0M1242.4,303.1h0M1243.5,304.2h0M1244.5,305.4h0M1245.6,306.6h0M1246.7,304.8h0M1247.7,305.2h0M1248.8,307.1h0M1249.8,307.8h0M1250.9,306.6h0M1252,307.5h0M1253,304.4h0M1254.1,304.5h0M1255.1,305.6h0M1256.2,304.4h0M1257.3,304h0M1258.3,307.9h0M1259.4,304.5h0M1260.4,303h0M1261.5,305.6h0M1262.6,308h0M1263.6,304.8h0M1264.7,306.8h0M1265.8,303.7h0M1266.8,303.6h0M1267.9,303.2h0M1268.9,304.1h0M1270,307.6h0M1271.1,302.1h0M1272.1,307.1h0M1273.2,302.3h0M1274.2,303.6h0M1275.3,305.4h0M1276.4,305h0M1277.4,304.3h0M1278.5,300.7h0M1279.5,304.2h0M1280.6,301.6h0M1281.7,308h0M1282.7,302.9h0M1283.8,303.5h0M1284.8,301h0M1285.9,302.1h0M1287,300.5h0M1288,304.5h0M1289.1,302.1h0M1290.2,303.5h0M1291.2,301.2h0M1292.3,301.5h0M1293.3,304.6h0M1294.4,300.5h0M1295.5,299h0M1296.5,302.9h0M1297.6,300.1h0M1298.6,301.5h0M1299.7,304h0M1300.8,301h0M1301.8,304.2h0M1302.9,301.5h0M1303.9,305.5h0M1305,305.2h0M1306.1,302h0M1307.1,302.5h0M1308.2,301.4h0M1309.2,303.3h0M1310.3,305h0M1311.4,300.3h0M1312.4,304.5h0M1313.5,300.4h0M1314.6,301.2h0M1315.6,299.5h0M1316.7,306.5h0M1317.7,302.8h0M1318.8,303.1h0M1319.9,301.4h0M1320.9,304.5h0M1322,298.8h0M1323,302.5h0M1324.1,306.4h0M1325.2,301.7h0M1326.2,302.4h0M1327.3,303.5h0M1328.3,300.8h0M1329.4,302.3h0M1330.5,303.9h0M1331.5,302.5h0M1332.6,302.8h0M1333.6,301.4h0M1334.7,302.6h0M1335.8,302.1h0M1336.8,304.6h0M1337.9,303.2h0M1339,301.4h0M1340,297.4h0M1341.1,303.1h0M1342.1,303.1h0M1343.2,300h0M1344.3,298h0M1345.3,299.5h0M1346.4,303.2h0M1347.4,299.6h0M1348.5,300.7h0M1349.6,301.9h0M1350.6,303.6h0M1351.7,301.4h0M1352.7,301.2h0M1353.8,300.3h0M1354.9,304.2h0M1355.9,303.2h0M1357,301h0M1358,298.7h0M1359.1,299.7h0M1360.2,302.2h0M1361.2,299.8h0M1362.3,302.7h0M1363.4,301.7h0M1364.4,301.5h0M1365.5,302.1h0M1366.5,301.8h0M1367.6,299.4h0M1368.7,300.3h0M1369.7,305.1h0M1370.8,298.6h0M1371.8,299.9h0M1372.9,302.7h0M1374,300.4h0M1375,299.2h0M1376.1,298.3h0M1377.1,301.6h0M1378.2,302.5h0M1379.3,303.1h0M1380.3,300.7h0M1381.4,302.4h0M1382.4,298.7h0M1383.5,300.8h0M1384.6,299.2h0M1385.6,300.8h0M1386.7,301.8h0M1387.8,302.3h0M1388.8,298.6h0M1389.9,302.6h0M1390.9,299.5h0M1392,298.5h0M1393.1,300h0M1394.1,297.6h0M1395.2,300.2h0M1396.2,300.7h0M1397.3,299.8h0M1398.4,301.1h0M1399.4,299.6h0M1400.5,300.1h0M1401.5,297.5h0M1402.6,300.1h0M1403.7,298.5h0M1404.7,299.2h0M1405.8,299.8h0M1406.8,300.3h0M1407.9,297h0M1409,297.1h0M1410,299.3h0M1411.1,300.7h0M1412.2,300.5h0M1413.2,301.4h0M1414.3,302.1h0M1415.3,300.7h0M1416.4,299.7h0M1417.5,297.9h0M1418.5,298h0M1419.6,298.9h0M1420.6,300.2h0M1421.7,300.1h0M1422.8,299.7h0M1423.8,299.4h0M1424.9,300.8h0M1425.9,300.1h0M1427,300.2h0M1428.1,300.3h0M1429.1,298.7h0M1430.2,297.9h0M1431.2,300.6h0M1432.3,300.5h0M1433.4,299.4h0M1434.4,299.1h0M1435.5,304h0M1436.6,298.5h0M1437.6,299.6h0M1438.7,300.5h0M1439.7,298h0M1440.8,300.3h0M1441.9,303.4h0M1442.9,301.9h0M1444,301.4h0M1445,301.4h0M1446.1,300.6h0M1447.2,302.2h0M1448.2,300.3h0M1449.3,299.9h0M1450.3,300.9h0M1451.4,302.5h0M1452.5,301.5h0M1453.5,302.2h0M1454.6,297.4h0M1455.6,303.3h0M1456.7,305.5h0M1457.8,303.7h0M1458.8,300.8h0M1459.9,300h0M1461,302.1h0M1462,299.9h0M1463.1,303.1h0M1464.1,300.9h0M1465.2,303.7h0M1466.3,304.5h0M1467.3,298.5h0M1468.4,302.8h0M1469.4,301.1h0M1470.5,299.9h0" stroke="#d62728" stroke-width="4.8" stroke-linecap="round" fill="none"/>
<path d="M1026,346.1h0M1027.1,343.4h0M1028.1,342.5h0M1029.2,336.7h0M1030.2,339.3h0M1031.3,338.4h0M1032.4,335.4h0M1033.4,335h0M1034.5,333.8h0M1035.5,331.9h0M1036.6,334.3h0M1037.7,333.9h0M1038.7,334.3h0M1039.8,336.9h0M1040.9,334h0M1041.9,333.4h0M1043,335.1h0M1044,330.6h0M1045.1,330.8h0M1046.2,331.9h0M1047.2,331.4h0M1048.3,333.4h0M1049.3,331.8h0M1050.4,334.8h0M1051.5,334.4h0M1052.5,333.2h0M1053.6,331.4h0M1054.6,332.9h0M1055.7,333.1h0M1056.8,330.2h0M1057.8,332.3h0M1058.9,332.8h0M1059.9,332h0M1061,334h0M1062.1,333.4h0M1063.1,330.3h0M1064.2,331.7h0M1065.3,330.2h0M1066.3,332.3h0M1067.4,330.1h0M1068.4,332.7h0M1069.5,331.9h0M1070.6,332.7h0M1071.6,331h0M1072.7,329h0M1073.7,333.7h0M1074.8,330.8h0M1075.9,333.1h0M1076.9,331.6h0M1078,331.9h0M1079,333.6h0M1080.1,331.4h0M1081.2,332.9h0M1082.2,328.5h0M1083.3,332h0M1084.3,330.3h0M1085.4,330.4h0M1086.5,330.6h0M1087.5,331.1h0M1088.6,333h0M1089.7,327.7h0M1090.7,330.5h0M1091.8,329.3h0M1092.8,332.1h0M1093.9,329.7h0M1095,330.9h0M1096,329.6h0M1097.1,331.1h0M1098.1,331.6h0M1099.2,329.4h0M1100.3,330.1h0M1101.3,327.8h0M1102.4,330.3h0M1103.4,331.1h0M1104.5,328.9h0M1105.6,331.4h0M1106.6,326.6h0M1107.7,326.8h0M1108.7,327.5h0M1109.8,328.8h0M1110.9,329.5h0M1111.9,329.3h0M1113,329.2h0M1114.1,330.4h0M1115.1,328.5h0M1116.2,327.3h0M1117.2,327.3h0M1118.3,332.2h0M1119.4,325.5h0M1120.4,328.7h0M1121.5,331.1h0M1122.5,329.6h0M1123.6,327.6h0M1124.7,328.8h0M1125.7,330h0M1126.8,330.5h0M1127.8,327.2h0M1128.9,329.7h0M1130,328.9h0M1131,330.1h0M1132.1,330.5h0M1133.1,327.8h0M1134.2,326.1h0M1135.3,328.8h0M1136.3,330.8h0M1137.4,329.1h0M1138.5,328.4h0M1139.5,331.6h0M1140.6,326.4h0M1141.6,329.2h0M1142.7,327h0M1143.8,327.8h0M1144.8,327.8h0M1145.9,329.9h0M1146.9,326.2h0M1148,326.7h0M1149.1,325.1h0M1150.1,328.1h0M1151.2,326.6h0M1152.2,327.9h0M1153.3,325.6h0M1154.4,326.6h0M1155.4,328.6h0M1156.5,326.7h0M1157.5,327.9h0M1158.6,327.7h0M1159.7,326.3h0M1160.7,324.4h0M1161.8,328.1h0M1162.9,326.8h0M1163.9,328h0M1165,323.4h0M1166,323.9h0M1167.1,323.1h0M1168.2,324.9h0M1169.2,327.7h0M1170.3,326.9h0M1171.3,326h0M1172.4,326.1h0M1173.5,327h0M1174.5,325.3h0M1175.6,326.3h0M1176.6,325.9h0M1177.7,322.3h0M1178.8,324.9h0M1179.8,327.5h0M1180.9,324.8h0M1181.9,325.1h0M1183,324.3h0M1184.1,324.5h0M1185.1,326.8h0M1186.2,324.7h0M1187.3,323.5h0M1188.3,320.3h0M1189.4,324h0M1190.4,321.9h0M1191.5,322.1h0M1192.6,325.9h0M1193.6,325.8h0M1194.7,321.8h0M1195.7,325.9h0M1196.8,325.3h0M1197.9,323.4h0M1198.9,325.6h0M1200,322h0M1201,322.6h0M1202.1,322.3h0M1203.2,322.7h0M1204.2,325.7h0M1205.3,322.3h0M1206.3,322.6h0M1207.4,322.8h0M1208.5,324.5h0M1209.5,323.7h0M1210.6,325.5h0M1211.7,323.1h0M1212.7,322.2h0M1213.8,323.4h0M1214.8,324.1h0M1215.9,322.7h0M1217,324.5h0M1218,326.7h0M1219.1,323.1h0M1220.1,324h0M1221.2,326h0M1222.3,323h0M1223.3,322.6h0M1224.4,322.2h0M1225.4,324.5h0M1226.5,324.6h0M1227.6,323.6h0M1228.6,323.8h0M1229.7,325.7h0M1230.7,325h0M1231.8,321.6h0M1232.9,323.7h0M1233.9,323.8h0M1235,324.7h0M1236.1,323.3h0M1237.1,322.6h0M1238.2,322.8h0M1239.2,320.8h0M1240.3,323.4h0M1241.4,322.5h0M1242.4,324.1h0M1243.5,321.8h0M1244.5,322.7h0M1245.6,321.9h0M1246.7,321.7h0M1247.7,324.3h0M1248.8,322.5h0M1249.8,323.9h0M1250.9,321.5h0M1252,323.3h0M1253,320.6h0M1254.1,322.4h0M1255.1,322.3h0M1256.2,323.9h0M1257.3,323.3h0M1258.3,322.7h0M1259.4,324.2h0M1260.4,323.2h0M1261.5,323.7h0M1262.6,324h0M1263.6,322.7h0M1264.7,322.4h0M1265.8,323.3h0M1266.8,322.2h0M1267.9,323.3h0M1268.9,324.4h0M1270,324h0M1271.1,322.1h0M1272.1,320.7h0M1273.2,322.6h0M1274.2,322.4h0M1275.3,324.3h0M1276.4,322h0M1277.4,322.3h0M1278.5,323.7h0M1279.5,321.8h0M1280.6,322.3h0M1281.7,325.1h0M1282.7,324.7h0M1283.8,323.4h0M1284.8,322.9h0M1285.9,321h0M1287,323.3h0M1288,322.5h0M1289.1,322.8h0M1290.2,321.7h0M1291.2,322.4h0M1292.3,322.1h0M1293.3,322.9h0M1294.4,324.5h0M1295.5,322.9h0M1296.5,319.9h0M1297.6,320.9h0M1298.6,320h0M1299.7,321.2h0M1300.8,323.2h0M1301.8,322.9h0M1302.9,321.4h0M1303.9,322.7h0M1305,321.2h0M1306.1,320.2h0M1307.1,320.2h0M1308.2,321h0M1309.2,324.4h0M1310.3,320.3h0M1311.4,324.1h0M1312.4,324.3h0M1313.5,322h0M1314.6,322.2h0M1315.6,321.3h0M1316.7,322.2h0M1317.7,323.2h0M1318.8,322.2h0M1319.9,323.7h0M1320.9,324h0M1322,322.7h0M1323,322.7h0M1324.1,322.1h0M1325.2,322.7h0M1326.2,320.5h0M1327.3,322.8h0M1328.3,322.5h0M1329.4,320.9h0M1330.5,325.4h0M1331.5,320.7h0M1332.6,320.9h0M1333.6,322.6h0M1334.7,319.2h0M1335.8,321h0M1336.8,319.9h0M1337.9,320.7h0M1339,321.9h0M1340,322.6h0M1341.1,323.8h0M1342.1,323.3h0M1343.2,323.9h0M1344.3,323h0M1345.3,321.4h0M1346.4,323.8h0M1347.4,321.4h0M1348.5,321.2h0M1349.6,324.4h0M1350.6,323.3h0M1351.7,322.4h0M1352.7,323.2h0M1353.8,323.4h0M1354.9,320h0M1355.9,321.9h0M1357,320.3h0M1358,322.2h0M1359.1,321h0M1360.2,324.1h0M1361.2,322.8h0M1362.3,320.8h0M1363.4,322h0M1364.4,320.2h0M1365.5,322.1h0M1366.5,322.8h0M1367.6,322.4h0M1368.7,319.1h0M1369.7,321.5h0M1370.8,322.8h0M1371.8,322.5h0M1372.9,323.7h0M1374,320.1h0M1375,322.8h0M1376.1,321h0M1377.1,322.3h0M1378.2,322.6h0M1379.3,323h0M1380.3,321.1h0M1381.4,322.2h0M1382.4,320.2h0M1383.5,319.8h0M1384.6,322.8h0M1385.6,321.9h0M1386.7,319.5h0M1387.8,320.7h0M1388.8,322h0M1389.9,324.3h0M1390.9,323.5h0M1392,323.1h0M1393.1,319.3h0M1394.1,321.8h0M1395.2,322.6h0M1396.2,322.5h0M1397.3,322.5h0M1398.4,321.6h0M1399.4,324.5h0M1400.5,324.1h0M1401.5,321.8h0M1402.6,320.4h0M1403.7,325h0M1404.7,321.1h0M1405.8,323.7h0M1406.8,324.8h0M1407.9,320.5h0M1409,322.3h0M1410,321.4h0M1411.1,322.7h0M1412.2,322.4h0M1413.2,324.8h0M1414.3,322.8h0M1415.3,321.9h0M1416.4,323.6h0M1417.5,321.5h0M1418.5,321.3h0M1419.6,325.2h0M1420.6,320.6h0M1421.7,321.1h0M1422.8,321.9h0M1423.8,320.3h0M1424.9,318.7h0M1425.9,323.4h0M1427,320.7h0M1428.1,321h0M1429.1,321.3h0M1430.2,320.4h0M1431.2,320.2h0M1432.3,322.1h0M1433.4,325.4h0M1434.4,323h0M1435.5,323h0M1436.6,319.6h0M1437.6,321.8h0M1438.7,320.1h0M1439.7,323h0M1440.8,321.5h0M1441.9,321.9h0M1442.9,321.7h0M1444,321h0M1445,319.6h0M1446.1,322.7h0M1447.2,319.8h0M1448.2,320.1h0M1449.3,321.4h0M1450.3,320.8h0M1451.4,322.2h0M1452.5,323.3h0M1453.5,322.2h0M1454.6,322.1h0M1455.6,321.9h0M1456.7,323.1h0M1457.8,319.1h0M1458.8,322.4h0M1459.9,320.4h0M1461,320h0M1462,321.8h0M1463.1,321.2h0M1464.1,322.7h0M1465.2,323.5h0M1466.3,318.3h0M1467.3,321.7h0M1468.4,324.8h0M1469.4,323.1h0M1470.5,324h0" stroke="#9467bd" stroke-width="4.8" stroke-linecap="round" fill="none"/>
<path d="M1026,347.6h0M1027.1,342.7h0M1028.1,340.4h0M1029.2,340.8h0M1030.2,339.8h0M1031.3,335.1h0M1032.4,334.7h0M1033.4,334.8h0M1034.5,332.1h0M1035.5,333.6h0M1036.6,335.8h0M1037.7,336.3h0M1038.7,333.4h0M1039.8,335.6h0M1040.9,332.7h0M1041.9,332.3h0M1043,330.5h0M1044,334.3h0M1045.1,332.7h0M1046.2,335.9h0M1047.2,333.5h0M1048.3,333.3h0M1049.3,330.8h0M1050.4,334.8h0M1051.5,332.5h0M1052.5,332.7h0M1053.6,330.3h0M1054.6,334h0M1055.7,334.1h0M1056.8,332.2h0M1057.8,333h0M1058.9,333.4h0M1059.9,334h0M1061,333h0M1062.1,334.9h0M1063.1,332.6h0M1064.2,332.1h0M1065.3,332.3h0M1066.3,329.8h0M1067.4,331.9h0M1068.4,334.1h0M1069.5,333.2h0M1070.6,331.9h0M1071.6,333.3h0M1072.7,330.5h0M1073.7,332.5h0M1074.8,333.5h0M1075.9,333.7h0M1076.9,332h0M1078,334h0M1079,335.2h0M1080.1,332.4h0M1081.2,333.8h0M1082.2,331.1h0M1083.3,330.6h0M1084.3,333.7h0M1085.4,333h0M1086.5,333.2h0M1087.5,332.3h0M1088.6,332.6h0M1089.7,333.9h0M1090.7,335h0M1091.8,332.7h0M1092.8,331h0M1093.9,334.5h0M1095,333.7h0M1096,333.8h0M1097.1,333.2h0M1098.1,335.7h0M1099.2,333h0M1100.3,333.6h0M1101.3,330.7h0M1102.4,332.2h0M1103.4,332.1h0M1104.5,332.9h0M1105.6,333.3h0M1106.6,332h0M1107.7,335h0M1108.7,331.6h0M1109.8,332.3h0M1110.9,333.1h0M1111.9,331.3h0M1113,333.5h0M1114.1,333.6h0M1115.1,332.5h0M1116.2,335.1h0M1117.2,332.9h0M1118.3,333.1h0M1119.4,331.6h0M1120.4,330.8h0M1121.5,332h0M1122.5,332.4h0M1123.6,332.2h0M1124.7,333.7h0M1125.7,329.9h0M1126.8,331.4h0M1127.8,330.5h0M1128.9,334.3h0M1130,332h0M1131,332.1h0M1132.1,331.3h0M1133.1,333.7h0M1134.2,332.2h0M1135.3,332.9h0M1136.3,330.2h0M1137.4,334h0M1138.5,333.1h0M1139.5,333.2h0M1140.6,334.1h0M1141.6,332.3h0M1142.7,332.3h0M1143.8,333.4h0M1144.8,333h0M1145.9,332.2h0M1146.9,332.5h0M1148,331.9h0M1149.1,333.3h0M1150.1,333.6h0M1151.2,332.4h0M1152.2,334.7h0M1153.3,330.5h0M1154.4,332.1h0M1155.4,334.4h0M1156.5,331.8h0M1157.5,330.4h0M1158.6,334h0M1159.7,332.9h0M1160.7,330.8h0M1161.8,333.2h0M1162.9,331h0M1163.9,330.6h0M1165,332h0M1166,331.6h0M1167.1,330.8h0M1168.2,331.7h0M1169.2,330.9h0M1170.3,332.2h0M1171.3,332.1h0M1172.4,333h0M1173.5,331.5h0M1174.5,330.4h0M1175.6,330.4h0M1176.6,331.7h0M1177.7,333.8h0M1178.8,333h0M1179.8,331.2h0M1180.9,333h0M1181.9,330.5h0M1183,333.1h0M1184.1,331.4h0M1185.1,332.7h0M1186.2,332.6h0M1187.3,331.5h0M1188.3,332.2h0M1189.4,330.5h0M1190.4,331.6h0M1191.5,333h0M1192.6,336.6h0M1193.6,332.5h0M1194.7,331.8h0M1195.7,330.4h0M1196.8,332.9h0M1197.9,329.6h0M1198.9,330.6h0M1200,332h0M1201,330.1h0M1202.1,333.4h0M1203.2,332.8h0M1204.2,330.8h0M1205.3,330.8h0M1206.3,329.8h0M1207.4,329.7h0M1208.5,331.9h0M1209.5,332.1h0M1210.6,331.8h0M1211.7,331.6h0M1212.7,330.6h0M1213.8,331.7h0M1214.8,329.5h0M1215.9,331.3h0M1217,333h0M1218,332.8h0M1219.1,330.6h0M1220.1,330.8h0M1221.2,332.8h0M1222.3,333.3h0M1223.3,329.3h0M1224.4,330.6h0M1225.4,331.4h0M1226.5,332.5h0M1227.6,330h0M1228.6,331.8h0M1229.7,330.6h0M1230.7,333.8h0M1231.8,331.5h0M1232.9,330.8h0M1233.9,330.5h0M1235,332.2h0M1236.1,331.7h0M1237.1,329.6h0M1238.2,331.1h0M1239.2,329.2h0M1240.3,329.9h0M1241.4,329.2h0M1242.4,329.2h0M1243.5,329.9h0M1244.5,329.5h0M1245.6,331.3h0M1246.7,331.6h0M1247.7,330.4h0M1248.8,329.3h0M1249.8,331.6h0M1250.9,328.2h0M1252,328.2h0M1253,331.4h0M1254.1,331.3h0M1255.1,331.7h0M1256.2,330.2h0M1257.3,328.9h0M1258.3,329.8h0M1259.4,331.1h0M1260.4,329.5h0M1261.5,329.5h0M1262.6,328.7h0M1263.6,328.9h0M1264.7,331.3h0M1265.8,330.8h0M1266.8,328.9h0M1267.9,328.9h0M1268.9,329.6h0M1270,330.9h0M1271.1,328.8h0M1272.1,330h0M1273.2,327.6h0M1274.2,328.6h0M1275.3,330.7h0M1276.4,331.2h0M1277.4,328.7h0M1278.5,329.2h0M1279.5,331.1h0M1280.6,329.6h0M1281.7,329.4h0M1282.7,330.7h0M1283.8,330.3h0M1284.8,331.4h0M1285.9,331h0M1287,329.3h0M1288,329.9h0M1289.1,329.9h0M1290.2,328.4h0M1291.2,328.8h0M1292.3,331.2h0M1293.3,328.1h0M1294.4,331.2h0M1295.5,330.3h0M1296.5,329.8h0M1297.6,330.6h0M1298.6,330.5h0M1299.7,331.4h0M1300.8,329.5h0M1301.8,329.7h0M1302.9,329.6h0M1303.9,332.2h0M1305,331.1h0M1306.1,328.8h0M1307.1,329.5h0M1308.2,329.1h0M1309.2,329.9h0M1310.3,330.2h0M1311.4,332.7h0M1312.4,327.7h0M1313.5,331.1h0M1314.6,330.4h0M1315.6,329h0M1316.7,329.7h0M1317.7,329.3h0M1318.8,329.9h0M1319.9,331.1h0M1320.9,328h0M1322,331.4h0M1323,329.4h0M1324.1,331.7h0M1325.2,330.4h0M1326.2,331.3h0M1327.3,330.5h0M1328.3,331.2h0M1329.4,329.9h0M1330.5,328.8h0M1331.5,330.7h0M1332.6,330.7h0M1333.6,332.4h0M1334.7,327.4h0M1335.8,329.6h0M1336.8,331.1h0M1337.9,328.3h0M1339,329.6h0M1340,332.4h0M1341.1,331.5h0M1342.1,328.8h0M1343.2,331.5h0M1344.3,331.2h0M1345.3,330.8h0M1346.4,330.3h0M1347.4,330.1h0M1348.5,328.8h0M1349.6,329.2h0M1350.6,330.7h0M1351.7,330h0M1352.7,332h0M1353.8,329.4h0M1354.9,326.9h0M1355.9,329.4h0M1357,330.1h0M1358,330.3h0M1359.1,329.9h0M1360.2,328.8h0M1361.2,331.6h0M1362.3,329h0M1363.4,330.6h0M1364.4,329.4h0M1365.5,328.3h0M1366.5,331.5h0M1367.6,326.8h0M1368.7,328.8h0M1369.7,330.3h0M1370.8,329.4h0M1371.8,330.7h0M1372.9,329.7h0M1374,329.2h0M1375,332.4h0M1376.1,329.5h0M1377.1,329.6h0M1378.2,328.5h0M1379.3,328.9h0M1380.3,330.6h0M1381.4,330.4h0M1382.4,329.8h0M1383.5,328.9h0M1384.6,330.6h0M1385.6,327.7h0M1386.7,329.4h0M1387.8,329.5h0M1388.8,328.7h0M1389.9,329.9h0M1390.9,329h0M1392,328.8h0M1393.1,331.9h0M1394.1,330.7h0M1395.2,331.2h0M1396.2,329.8h0M1397.3,330.9h0M1398.4,330.7h0M1399.4,331.2h0M1400.5,332.6h0M1401.5,329.5h0M1402.6,330.1h0M1403.7,329.7h0M1404.7,325.5h0M1405.8,328.1h0M1406.8,329.8h0M1407.9,330.5h0M1409,329.1h0M1410,331.1h0M1411.1,331.3h0M1412.2,329.3h0M1413.2,331.5h0M1414.3,331.9h0M1415.3,330.3h0M1416.4,328.6h0M1417.5,331.5h0M1418.5,329.6h0M1419.6,329.3h0M1420.6,329.9h0M1421.7,329.1h0M1422.8,331h0M1423.8,330.7h0M1424.9,331.2h0M1425.9,330.4h0M1427,328.8h0M1428.1,329.6h0M1429.1,330.8h0M1430.2,329.3h0M1431.2,333.2h0M1432.3,329.5h0M1433.4,329h0M1434.4,331.1h0M1435.5,330.6h0M1436.6,329.7h0M1437.6,329.5h0M1438.7,330.2h0M1439.7,330.7h0M1440.8,330.6h0M1441.9,329.4h0M1442.9,330.3h0M1444,330.7h0M1445,330.6h0M1446.1,326h0M1447.2,328.7h0M1448.2,328.8h0M1449.3,329.4h0M1450.3,329.9h0M1451.4,330.8h0M1452.5,330.5h0M1453.5,329.6h0M1454.6,329.7h0M1455.6,331.8h0M1456.7,329h0M1457.8,330.1h0M1458.8,331.6h0M1459.9,330.1h0M1461,327.3h0M1462,330.2h0M1463.1,329.2h0M1464.1,329.6h0M1465.2,331h0M1466.3,330.3h0M1467.3,329.4h0M1468.4,330.8h0M1469.4,330.2h0M1470.5,329.8h0" stroke="#8c564b" stroke-width="4.8" stroke-linecap="round" fill="none"/>
<path d="M1026,348.9h0M1027.1,347.5h0M1028.1,345.5h0M1029.2,344.2h0M1030.2,343.7h0M1031.3,340.2h0M1032.4,339.8h0M1033.4,342.8h0M1034.5,341h0M1035.5,341.2h0M1036.6,341h0M1037.7,341.2h0M1038.7,341.2h0M1039.8,341.2h0M1040.9,340.1h0M1041.9,342.2h0M1043,340.2h0M1044,342.3h0M1045.1,338.7h0M1046.2,339.7h0M1047.2,342.2h0M1048.3,340.8h0M1049.3,340.2h0M1050.4,341.4h0M1051.5,339.7h0M1052.5,341h0M1053.6,338.3h0M1054.6,340.4h0M1055.7,340.1h0M1056.8,341.6h0M1057.8,342h0M1058.9,339.9h0M1059.9,342.8h0M1061,340.2h0M1062.1,338.4h0M1063.1,338h0M1064.2,342.7h0M1065.3,340.8h0M1066.3,340.1h0M1067.4,340h0M1068.4,339.5h0M1069.5,342.5h0M1070.6,340.7h0M1071.6,343h0M1072.7,340.6h0M1073.7,338h0M1074.8,341.8h0M1075.9,340.4h0M1076.9,340.5h0M1078,342.7h0M1079,340.5h0M1080.1,342.2h0M1081.2,340.8h0M1082.2,339.9h0M1083.3,341.4h0M1084.3,340h0M1085.4,342.2h0M1086.5,341.9h0M1087.5,340.8h0M1088.6,341.5h0M1089.7,341.4h0M1090.7,340.4h0M1091.8,341.8h0M1092.8,340.5h0M1093.9,341.5h0M1095,339.6h0M1096,340.8h0M1097.1,341.2h0M1098.1,339.8h0M1099.2,340.2h0M1100.3,340.1h0M1101.3,341.6h0M1102.4,339.8h0M1103.4,341.2h0M1104.5,342.5h0M1105.6,341.1h0M1106.6,338.7h0M1107.7,340.8h0M1108.7,341.9h0M1109.8,340.3h0M1110.9,342h0M1111.9,341.4h0M1113,341.1h0M1114.1,340.3h0M1115.1,340h0M1116.2,340.3h0M1117.2,340.7h0M1118.3,341.2h0M1119.4,341.1h0M1120.4,340.2h0M1121.5,340.6h0M1122.5,341h0M1123.6,338.6h0M1124.7,339.6h0M1125.7,339.6h0M1126.8,340.3h0M1127.8,340.2h0M1128.9,340.2h0M1130,339.4h0M1131,341.3h0M1132.1,340.8h0M1133.1,338.5h0M1134.2,340.4h0M1135.3,339.1h0M1136.3,342.4h0M1137.4,339.8h0M1138.5,339.9h0M1139.5,340.5h0M1140.6,340.1h0M1141.6,340.3h0M1142.7,342.2h0M1143.8,340.6h0M1144.8,341.3h0M1145.9,341.7h0M1146.9,339.1h0M1148,342.3h0M1149.1,341.1h0M1150.1,341.4h0M1151.2,339.2h0M1152.2,341.2h0M1153.3,340.7h0M1154.4,339.5h0M1155.4,342.9h0M1156.5,340.8h0M1157.5,339.9h0M1158.6,340.4h0M1159.7,341.2h0M1160.7,341.5h0M1161.8,340.8h0M1162.9,341.5h0M1163.9,341.8h0M1165,338.6h0M1166,339.5h0M1167.1,338.9h0M1168.2,340.1h0M1169.2,341.7h0M1170.3,340.8h0M1171.3,338.7h0M1172.4,339.6h0M1173.5,341.2h0M1174.5,339.3h0M1175.6,339.8h0M1176.6,340.3h0M1177.7,337.7h0M1178.8,340.8h0M1179.8,340.3h0M1180.9,340.5h0M1181.9,338.7h0M1183,338.9h0M1184.1,339.1h0M1185.1,340.1h0M1186.2,339.9h0M1187.3,339.9h0M1188.3,341.9h0M1189.4,341.3h0M1190.4,338.9h0M1191.5,338.9h0M1192.6,341.7h0M1193.6,339.3h0M1194.7,341.3h0M1195.7,341.5h0M1196.8,338.9h0M1197.9,339.2h0M1198.9,339.6h0M1200,338.5h0M1201,338.3h0M1202.1,339h0M1203.2,340.5h0M1204.2,338.9h0M1205.3,339.1h0M1206.3,338.8h0M1207.4,337.6h0M1208.5,341h0M1209.5,336.3h0M1210.6,338.3h0M1211.7,339.7h0M1212.7,337.3h0M1213.8,339.7h0M1214.8,340.4h0M1215.9,337.8h0M1217,339h0M1218,337.4h0M1219.1,339.3h0M1220.1,338.8h0M1221.2,338.9h0M1222.3,340.2h0M1223.3,339.1h0M1224.4,340.2h0M1225.4,339.3h0M1226.5,337.1h0M1227.6,338.8h0M1228.6,339.1h0M1229.7,336.7h0M1230.7,340h0M1231.8,338.5h0M1232.9,338.9h0M1233.9,337.3h0M1235,338.5h0M1236.1,338.8h0M1237.1,338h0M1238.2,338.5h0M1239.2,335.8h0M1240.3,340h0M1241.4,337h0M1242.4,335.7h0M1243.5,337.2h0M1244.5,337.3h0M1245.6,339h0M1246.7,337.2h0M1247.7,338.7h0M1248.8,337.2h0M1249.8,341h0M1250.9,339h0M1252,340.7h0M1253,337.1h0M1254.1,339.1h0M1255.1,337.2h0M1256.2,339h0M1257.3,339.1h0M1258.3,336.4h0M1259.4,336.9h0M1260.4,336.9h0M1261.5,336.5h0M1262.6,337.4h0M1263.6,337.1h0M1264.7,336.6h0M1265.8,338.4h0M1266.8,339h0M1267.9,336.7h0M1268.9,337.6h0M1270,338.3h0M1271.1,338h0M1272.1,337.5h0M1273.2,339.3h0M1274.2,339.3h0M1275.3,339.1h0M1276.4,338h0M1277.4,340.7h0M1278.5,340.4h0M1279.5,337.8h0M1280.6,338.2h0M1281.7,339.7h0M1282.7,337.3h0M1283.8,338.8h0M1284.8,338.4h0M1285.9,337.5h0M1287,338h0M1288,336.4h0M1289.1,337.7h0M1290.2,335.9h0M1291.2,341h0M1292.3,340.1h0M1293.3,339.8h0M1294.4,338.7h0M1295.5,339.5h0M1296.5,339.8h0M1297.6,339.5h0M1298.6,339.4h0M1299.7,337.2h0M1300.8,338.8h0M1301.8,337.7h0M1302.9,336.9h0M1303.9,336.9h0M1305,338.8h0M1306.1,339.6h0M1307.1,336.7h0M1308.2,340.4h0M1309.2,340.1h0M1310.3,337.9h0M1311.4,337.8h0M1312.4,338.2h0M1313.5,339.5h0M1314.6,337.8h0M1315.6,337h0M1316.7,338.7h0M1317.7,335.8h0M1318.8,338.5h0M1319.9,339.7h0M1320.9,338.7h0M1322,339.2h0M1323,338.9h0M1324.1,339.2h0M1325.2,338.5h0M1326.2,337.3h0M1327.3,338h0M1328.3,338.2h0M1329.4,339.8h0M1330.5,340.2h0M1331.5,338.8h0M1332.6,337.4h0M1333.6,337.4h0M1334.7,338.1h0M1335.8,340h0M1336.8,338.7h0M1337.9,338.2h0M1339,337.4h0M1340,339.4h0M1341.1,338.6h0M1342.1,338.2h0M1343.2,338.4h0M1344.3,340.3h0M1345.3,338.1h0M1346.4,340.3h0M1347.4,339.8h0M1348.5,338.4h0M1349.6,339.4h0M1350.6,338.1h0M1351.7,337.3h0M1352.7,338h0M1353.8,337.2h0M1354.9,338.9h0M1355.9,338.3h0M1357,339h0M1358,339.3h0M1359.1,334.5h0M1360.2,338.7h0M1361.2,336.1h0M1362.3,338.5h0M1363.4,337.2h0M1364.4,338.4h0M1365.5,339.9h0M1366.5,336.2h0M1367.6,338.5h0M1368.7,338.2h0M1369.7,336h0M1370.8,339.1h0M1371.8,338.3h0M1372.9,337.7h0M1374,337.4h0M1375,342.1h0M1376.1,337.8h0M1377.1,336.1h0M1378.2,337.2h0M1379.3,337.9h0M1380.3,337.8h0M1381.4,338.2h0M1382.4,337h0M1383.5,338.9h0M1384.6,337.7h0M1385.6,336.7h0M1386.7,337.3h0M1387.8,337.8h0M1388.8,339.3h0M1389.9,338.9h0M1390.9,337.9h0M1392,338.3h0M1393.1,338.6h0M1394.1,340.7h0M1395.2,337.6h0M1396.2,338.9h0M1397.3,339.2h0M1398.4,337.1h0M1399.4,338.5h0M1400.5,338.5h0M1401.5,337.7h0M1402.6,339h0M1403.7,339.5h0M1404.7,339.7h0M1405.8,338.1h0M1406.8,338.5h0M1407.9,341.1h0M1409,337h0M1410,338.6h0M1411.1,339.4h0M1412.2,338.5h0M1413.2,339.1h0M1414.3,338.5h0M1415.3,339.2h0M1416.4,339.8h0M1417.5,338h0M1418.5,338.5h0M1419.6,338.2h0M1420.6,337.8h0M1421.7,338.3h0M1422.8,336.9h0M1423.8,339.2h0M1424.9,340.3h0M1425.9,340.3h0M1427,339.8h0M1428.1,337.1h0M1429.1,340.1h0M1430.2,337.4h0M1431.2,338.2h0M1432.3,340.5h0M1433.4,337h0M1434.4,339.3h0M1435.5,338.6h0M1436.6,338.1h0M1437.6,337.2h0M1438.7,338.8h0M1439.7,337.7h0M1440.8,339.6h0M1441.9,339.8h0M1442.9,336.6h0M1444,337.7h0M1445,337.9h0M1446.1,336.9h0M1447.2,337h0M1448.2,338.4h0M1449.3,338h0M1450.3,336.3h0M1451.4,337.7h0M1452.5,338.9h0M1453.5,336.9h0M1454.6,337.2h0M1455.6,340.2h0M1456.7,339.9h0M1457.8,336.4h0M1458.8,336.7h0M1459.9,338.8h0M1461,336.9h0M1462,338h0M1463.1,337.8h0M1464.1,339h0M1465.2,335.3h0M1466.3,335.7h0M1467.3,336.8h0M1468.4,339.5h0M1469.4,338.1h0M1470.5,336.3h0" stroke="#e377c2" stroke-width="4.8" stroke-linecap="round" fill="none"/>
<path d="M1026.6,349.1h0M1027.7,345.5h0M1028.7,340.9h0M1029.8,338.2h0M1030.8,336.5h0M1031.9,335.6h0M1033,333.4h0M1034,333.2h0M1035.1,332.1h0M1036.1,331.5h0M1037.2,330.6h0M1038.3,332h0M1039.3,331.2h0M1040.4,331.3h0M1041.4,332.7h0M1042.5,332.2h0M1043.6,332.6h0M1044.6,329.7h0M1045.7,332.3h0M1046.7,330.9h0M1047.8,330.6h0M1048.8,330.6h0M1049.9,333h0M1051,332.6h0M1052,330.7h0M1053.1,330.2h0M1054.1,331.6h0M1055.2,331.1h0M1056.3,333.6h0M1057.3,329.9h0M1058.4,329.4h0M1059.4,331.3h0M1060.5,331.7h0M1061.6,331.8h0M1062.6,332.6h0M1063.7,334.2h0M1064.7,331.3h0M1065.8,331.1h0M1066.9,329.6h0M1067.9,332.1h0M1069,332.8h0M1070,331.5h0M1071.1,333.2h0M1072.2,331.9h0M1073.2,333.7h0M1074.3,332.3h0M1075.3,330.6h0M1076.4,331.2h0M1077.5,330.1h0M1078.5,329.9h0M1079.6,332.3h0M1080.6,333h0M1081.7,334.4h0M1082.7,332h0M1083.8,331.8h0M1084.9,330.7h0M1085.9,333.3h0M1087,332.6h0M1088,331.4h0M1089.1,333h0M1090.2,332.9h0M1091.2,330h0M1092.3,333.1h0M1093.3,332.4h0M1094.4,331.8h0M1095.5,331.8h0M1096.5,334.4h0M1097.6,334.2h0M1098.6,334.6h0M1099.7,331h0M1100.8,331.7h0M1101.8,333.6h0M1102.9,331.1h0M1103.9,331.7h0M1105,330.4h0M1106.1,334.8h0M1107.1,333.9h0M1108.2,333.2h0M1109.2,332.9h0M1110.3,332.2h0M1111.4,332.3h0M1112.4,333.5h0M1113.5,331.9h0M1114.5,334.3h0M1115.6,332.3h0M1116.7,331.8h0M1117.7,334.5h0M1118.8,332.7h0M1119.8,333.6h0M1120.9,332.5h0M1121.9,330.3h0M1123,333.6h0M1124.1,331.4h0M1125.1,334.3h0M1126.2,331.2h0M1127.2,330.8h0M1128.3,333.4h0M1129.4,333.5h0M1130.4,333.1h0M1131.5,331.5h0M1132.5,334.1h0M1133.6,331.2h0M1134.7,332.4h0M1135.7,332h0M1136.8,332.5h0M1137.8,333.9h0M1138.9,332.1h0M1140,333.5h0M1141,333.7h0M1142.1,330.8h0M1143.1,331.4h0M1144.2,332.3h0M1145.3,332.1h0M1146.3,333.2h0M1147.4,330.5h0M1148.4,333.7h0M1149.5,333.7h0M1150.6,332.6h0M1151.6,331.2h0M1152.7,332.8h0M1153.7,332.2h0M1154.8,333.5h0M1155.9,332.8h0M1156.9,333.7h0M1158,332.4h0M1159,334.6h0M1160.1,330.1h0M1161.1,331.7h0M1162.2,333.5h0M1163.3,331.1h0M1164.3,333.9h0M1165.4,331.5h0M1166.4,333.1h0M1167.5,331.9h0M1168.6,332.5h0M1169.6,333.3h0M1170.7,332.9h0M1171.7,332.6h0M1172.8,335.7h0M1173.9,333.1h0M1174.9,332h0M1176,334.3h0M1177,334.2h0M1178.1,334.7h0M1179.2,335.4h0M1180.2,332.1h0M1181.3,334.6h0M1182.3,334.7h0M1183.4,333.4h0M1184.5,333.7h0M1185.5,329.8h0M1186.6,332.8h0M1187.6,335.6h0M1188.7,331.4h0M1189.8,332.9h0M1190.8,333.9h0M1191.9,334.3h0M1192.9,335.6h0M1194,331.6h0M1195,333.8h0M1196.1,334.8h0M1197.2,332.3h0M1198.2,333.8h0M1199.3,336.2h0M1200.3,335.6h0M1201.4,334.7h0M1202.5,331h0M1203.5,334h0M1204.6,334.7h0M1205.6,333.9h0M1206.7,334.2h0M1207.8,338.1h0M1208.8,334.2h0M1209.9,333.3h0M1210.9,334.9h0M1212,334.2h0M1213.1,334.3h0M1214.1,334.6h0M1215.2,335.7h0M1216.2,335.2h0M1217.3,333.5h0M1218.4,334.8h0M1219.4,335.6h0M1220.5,334.5h0M1221.5,336.5h0M1222.6,336.2h0M1223.7,334.1h0M1224.7,335.7h0M1225.8,337.8h0M1226.8,337.3h0M1227.9,335.4h0M1229,336.6h0M1230,334.8h0M1231.1,333.9h0M1232.1,336.3h0M1233.2,336h0M1234.2,336.4h0M1235.3,335.8h0M1236.4,336.2h0M1237.4,335.2h0M1238.5,336.5h0M1239.5,336.9h0M1240.6,335.9h0M1241.7,337h0M1242.7,333.9h0M1243.8,335.1h0M1244.8,337.8h0M1245.9,338.2h0M1247,336.4h0M1248,336h0M1249.1,334.7h0M1250.1,336.7h0M1251.2,337.2h0M1252.3,334.5h0M1253.3,337h0M1254.4,336.9h0M1255.4,336.9h0M1256.5,335h0M1257.6,337h0M1258.6,334.6h0M1259.7,338.2h0M1260.7,336.6h0M1261.8,335.1h0M1262.9,338.1h0M1263.9,337.9h0M1265,335.8h0M1266,339.2h0M1267.1,335.4h0M1268.1,337h0M1269.2,338h0M1270.3,333.9h0M1271.3,337.8h0M1272.4,336.6h0M1273.4,336.7h0M1274.5,335.4h0M1275.6,337.1h0M1276.6,335.4h0M1277.7,335.6h0M1278.7,336.2h0M1279.8,335.3h0M1280.9,338.7h0M1281.9,335.2h0M1283,335.9h0M1284,336.5h0M1285.1,336.9h0M1286.2,337.8h0M1287.2,337.9h0M1288.3,336.5h0M1289.3,336.4h0M1290.4,336.9h0M1291.5,337.9h0M1292.5,337.8h0M1293.6,336.3h0M1294.6,334.5h0M1295.7,339.5h0M1296.8,338.1h0M1297.8,337.3h0M1298.9,337.4h0M1299.9,336.4h0M1301,335.8h0M1302.1,336.6h0M1303.1,336.7h0M1304.2,336.3h0M1305.2,335.3h0M1306.3,336.7h0M1307.3,337.7h0M1308.4,336.5h0M1309.5,337.1h0M1310.5,334.6h0M1311.6,336.8h0M1312.6,337h0M1313.7,335.6h0M1314.8,335.1h0M1315.8,337.6h0M1316.9,336.2h0M1317.9,337.8h0M1319,336.7h0M1320.1,337.9h0M1321.1,336.8h0M1322.2,335.4h0M1323.2,337.1h0M1324.3,336.9h0M1325.4,338.1h0M1326.4,336.8h0M1327.5,336.8h0M1328.5,338.4h0M1329.6,338.7h0M1330.7,338.3h0M1331.7,338.6h0M1332.8,337.9h0M1333.8,338.3h0M1334.9,338.5h0M1336,337.9h0M1337,337.5h0M1338.1,337.7h0M1339.1,340.4h0M1340.2,337.5h0M1341.2,337.3h0M1342.3,337.1h0M1343.4,337.5h0M1344.4,337.9h0M1345.5,336.3h0M1346.5,335.3h0M1347.6,338h0M1348.7,335.7h0M1349.7,338h0M1350.8,337.9h0M1351.8,339.1h0M1352.9,339.7h0M1354,338.2h0M1355,337.1h0M1356.1,336.4h0M1357.1,336.9h0M1358.2,337.9h0M1359.3,335.4h0M1360.3,338h0M1361.4,337.9h0M1362.4,338.7h0M1363.5,337.5h0M1364.6,338.1h0M1365.6,337.1h0M1366.7,337.4h0M1367.7,335.9h0M1368.8,338.1h0M1369.9,339.9h0M1370.9,338.2h0M1372,338.5h0M1373,336.9h0M1374.1,339.8h0M1375.2,337.2h0M1376.2,339.1h0M1377.3,338.3h0M1378.3,337h0M1379.4,339.4h0M1380.4,338.2h0M1381.5,338.4h0M1382.6,338.7h0M1383.6,338.2h0M1384.7,337.8h0M1385.7,338.8h0M1386.8,337.8h0M1387.9,338.4h0M1388.9,337.5h0M1390,336.5h0M1391,337.5h0M1392.1,337.7h0M1393.2,338.4h0M1394.2,339.8h0M1395.3,336.3h0M1396.3,338.5h0M1397.4,335.7h0M1398.5,337.1h0M1399.5,337.8h0M1400.6,335.7h0M1401.6,336.2h0M1402.7,338.6h0M1403.8,338.5h0M1404.8,338.3h0M1405.9,337.5h0M1406.9,341h0M1408,338.3h0M1409.1,337.4h0M1410.1,340.5h0M1411.2,339.2h0M1412.2,338h0M1413.3,339.9h0M1414.4,338.7h0M1415.4,339.2h0M1416.5,338.8h0M1417.5,337.2h0M1418.6,339.6h0M1419.6,338.7h0M1420.7,337.3h0M1421.8,337.6h0M1422.8,339.6h0M1423.9,338h0M1424.9,338.5h0M1426,339.3h0M1427.1,338.6h0M1428.1,336.7h0M1429.2,339.3h0M1430.2,339.6h0M1431.3,339.5h0M1432.4,340.4h0M1433.4,338.9h0M1434.5,339.4h0M1435.5,340.4h0M1436.6,338.1h0M1437.7,340.6h0M1438.7,340.6h0M1439.8,339.4h0M1440.8,340.7h0M1441.9,339.5h0M1443,337.4h0M1444,339.8h0M1445.1,338.9h0M1446.1,339h0M1447.2,338.6h0M1448.3,340.1h0M1449.3,339.1h0M1450.4,337.6h0M1451.4,339h0M1452.5,339.3h0M1453.5,337.6h0M1454.6,337.9h0M1455.7,338h0M1456.7,337.7h0M1457.8,338.8h0M1458.8,339.6h0M1459.9,340.7h0M1461,339.9h0M1462,339.6h0M1463.1,339.8h0M1464.1,340h0M1465.2,338h0M1466.3,339.2h0M1467.3,338.8h0M1468.4,338.2h0M1469.4,337.9h0M1470.5,337.8h0" stroke="#7f7f7f" stroke-width="4.8" stroke-linecap="round" fill="none"/>
<path d="M1026.3,346C1026.5,342.5 1026.7,330.1 1027.6,325C1028.5,319.9 1029.8,318.3 1031.5,315.5C1033.2,312.7 1034.7,311 1037.5,308C1040.3,305 1044.7,301 1048.2,297.4C1051.7,293.8 1055.3,290.1 1058.5,286.3C1061.7,282.6 1064.2,279.1 1067.3,274.9C1070.3,270.7 1073.6,265.4 1076.8,261C1080,256.6 1083.1,252.5 1086.3,248.3C1089.5,244.1 1092.5,239.9 1095.7,236C1098.9,232.1 1102,228.1 1105.2,224.6C1108.4,221.1 1111.6,218.2 1114.7,215.1C1117.8,211.9 1121.4,208.8 1124.1,205.7C1126.8,202.6 1128,199.7 1131,196.3C1134,192.9 1138.3,189 1142,185.3C1145.7,181.6 1149.3,178 1153,174.3C1156.7,170.6 1160.3,166.6 1164,163.3C1167.7,160 1171.2,157.1 1174.9,154.5C1178.6,151.9 1182.2,150.1 1185.9,147.9C1189.6,145.7 1193.2,143.7 1196.9,141.3C1200.6,138.9 1204.2,135.8 1207.9,133.6C1211.6,131.4 1215.2,130.1 1218.9,128.1C1222.6,126.1 1226.2,123.7 1229.9,121.5C1233.6,119.3 1237.2,116.9 1240.9,114.9C1244.6,112.9 1248.2,111.3 1251.9,109.5C1255.6,107.7 1259.2,105.8 1262.9,104C1266.6,102.2 1269.8,100.3 1273.8,98.5C1277.8,96.7 1282.5,94.8 1287,93.3C1291.5,91.8 1296.4,90.9 1300.7,89.6C1305,88.3 1309,86.7 1313,85.5C1317,84.3 1320.7,83.6 1324.5,82.6C1328.3,81.6 1332.2,80.6 1336,79.7C1339.8,78.8 1343.7,78.2 1347.5,77.4C1351.3,76.6 1355.2,75.8 1359,75.1C1362.8,74.4 1366.7,73.8 1370.5,73.4C1374.3,73 1378.2,72.9 1382,72.8C1385.8,72.7 1389.7,72.8 1393.5,72.8C1397.3,72.8 1401.2,73.2 1405,72.8C1408.8,72.4 1412.7,71.1 1416.5,70.5C1420.3,69.9 1424.2,69.4 1428,69.4C1431.8,69.4 1435.7,70.1 1439.5,70.5C1443.3,70.9 1447.2,71.4 1451,71.7C1454.8,72 1459.2,72.2 1462.5,72.3C1465.8,72.4 1469.2,72.3 1470.6,72.3" stroke="#111" stroke-width="6.3" fill="none" stroke-linejoin="round" stroke-linecap="square"/>
<path d="M1026.3,346C1026.5,342.5 1026.7,330.1 1027.6,325C1028.5,319.9 1029.8,318.3 1031.5,315.5C1033.2,312.7 1034.7,311 1037.5,308C1040.3,305 1044.7,301 1048.2,297.4C1051.7,293.8 1055.3,290.1 1058.5,286.3C1061.7,282.6 1064.2,279.1 1067.3,274.9C1070.3,270.7 1073.6,265.4 1076.8,261C1080,256.6 1083.1,252.5 1086.3,248.3C1089.5,244.1 1092.5,239.9 1095.7,236C1098.9,232.1 1102,228.1 1105.2,224.6C1108.4,221.1 1111.6,218.2 1114.7,215.1C1117.8,211.9 1121.4,208.8 1124.1,205.7C1126.8,202.6 1128,199.7 1131,196.3C1134,192.9 1138.3,189 1142,185.3C1145.7,181.6 1149.3,178 1153,174.3C1156.7,170.6 1160.3,166.6 1164,163.3C1167.7,160 1171.2,157.1 1174.9,154.5C1178.6,151.9 1182.2,150.1 1185.9,147.9C1189.6,145.7 1193.2,143.7 1196.9,141.3C1200.6,138.9 1204.2,135.8 1207.9,133.6C1211.6,131.4 1215.2,130.1 1218.9,128.1C1222.6,126.1 1226.2,123.7 1229.9,121.5C1233.6,119.3 1237.2,116.9 1240.9,114.9C1244.6,112.9 1248.2,111.3 1251.9,109.5C1255.6,107.7 1259.2,105.8 1262.9,104C1266.6,102.2 1269.8,100.3 1273.8,98.5C1277.8,96.7 1282.5,94.8 1287,93.3C1291.5,91.8 1296.4,90.9 1300.7,89.6C1305,88.3 1309,86.7 1313,85.5C1317,84.3 1320.7,83.6 1324.5,82.6C1328.3,81.6 1332.2,80.6 1336,79.7C1339.8,78.8 1343.7,78.2 1347.5,77.4C1351.3,76.6 1355.2,75.8 1359,75.1C1362.8,74.4 1366.7,73.8 1370.5,73.4C1374.3,73 1378.2,72.9 1382,72.8C1385.8,72.7 1389.7,72.8 1393.5,72.8C1397.3,72.8 1401.2,73.2 1405,72.8C1408.8,72.4 1412.7,71.1 1416.5,70.5C1420.3,69.9 1424.2,69.4 1428,69.4C1431.8,69.4 1435.7,70.1 1439.5,70.5C1443.3,70.9 1447.2,71.4 1451,71.7C1454.8,72 1459.2,72.2 1462.5,72.3C1465.8,72.4 1469.2,72.3 1470.6,72.3" stroke="#1f77b4" stroke-width="4.6" fill="none" stroke-linejoin="round" stroke-linecap="square"/>
<path d="M1025.9,345C1026,343.8 1025.1,341.9 1026.3,337.6C1027.5,333.4 1030.9,324.4 1033.1,319.5C1035.3,314.6 1037.2,311.6 1039.7,308.5C1042.2,305.4 1045.2,302.8 1048,300.8C1050.8,298.8 1053.5,297.5 1056.2,296.6C1059,295.7 1062,296.3 1064.5,295.4C1067,294.5 1068.2,293.1 1071,291C1073.8,288.9 1077.8,285.6 1081.2,283C1084.6,280.4 1088.3,277.8 1091.5,275.2C1094.7,272.6 1097.4,269.5 1100.5,267.2C1103.6,264.9 1106.8,263.2 1109.9,261.5C1113.1,259.8 1116.2,258.5 1119.4,256.8C1122.6,255.1 1125.8,253 1128.9,251.1C1132.1,249.2 1135.2,247.3 1138.3,245.4C1141.4,243.5 1144.1,241.9 1147.8,239.8C1151.5,237.7 1156.6,235.1 1160.4,232.9C1164.2,230.7 1167.3,228.8 1170.8,226.7C1174.2,224.6 1177.6,222.2 1181.1,220.5C1184.5,218.8 1188,217.7 1191.5,216.3C1195,214.9 1198.4,213.7 1201.9,212.2C1205.4,210.7 1208.8,209 1212.3,207.5C1215.8,206 1219.2,204.5 1222.7,203.4C1226.2,202.3 1229.5,201.6 1233,200.8C1236.5,200 1239.9,199.5 1243.4,198.7C1246.9,197.9 1250.3,197 1253.8,196.1C1257.3,195.2 1260.8,194.1 1264.2,193.5C1267.7,192.9 1271,192.8 1274.5,192.5C1278,192.2 1281.4,191.8 1284.9,191.4C1288.4,191 1291.8,190.3 1295.3,189.9C1298.8,189.5 1302.8,189.1 1305.7,188.8C1308.7,188.6 1309.9,188.7 1313,188.4C1316.1,188.2 1320.7,187.9 1324.5,187.3C1328.3,186.7 1332.2,185.6 1336,185C1339.8,184.4 1343.7,184.1 1347.5,183.8C1351.3,183.5 1355.2,183.3 1359,183.2C1362.8,183.1 1366.7,183.3 1370.5,183.2C1374.3,183.1 1378.2,182.8 1382,182.7C1385.8,182.6 1389.7,182.7 1393.5,182.7C1397.3,182.7 1401.2,182.9 1405,182.7C1408.8,182.5 1412.7,181.7 1416.5,181.5C1420.3,181.3 1424.2,181.5 1428,181.5C1431.8,181.5 1435.7,181.3 1439.5,181.5C1443.3,181.7 1447.5,182.5 1451,182.7C1454.5,182.9 1456.9,183 1460.2,182.7C1463.5,182.4 1468.9,181.2 1470.6,180.9" stroke="#111" stroke-width="6.3" fill="none" stroke-linejoin="round" stroke-linecap="square"/>
<path d="M1025.9,345C1026,343.8 1025.1,341.9 1026.3,337.6C1027.5,333.4 1030.9,324.4 1033.1,319.5C1035.3,314.6 1037.2,311.6 1039.7,308.5C1042.2,305.4 1045.2,302.8 1048,300.8C1050.8,298.8 1053.5,297.5 1056.2,296.6C1059,295.7 1062,296.3 1064.5,295.4C1067,294.5 1068.2,293.1 1071,291C1073.8,288.9 1077.8,285.6 1081.2,283C1084.6,280.4 1088.3,277.8 1091.5,275.2C1094.7,272.6 1097.4,269.5 1100.5,267.2C1103.6,264.9 1106.8,263.2 1109.9,261.5C1113.1,259.8 1116.2,258.5 1119.4,256.8C1122.6,255.1 1125.8,253 1128.9,251.1C1132.1,249.2 1135.2,247.3 1138.3,245.4C1141.4,243.5 1144.1,241.9 1147.8,239.8C1151.5,237.7 1156.6,235.1 1160.4,232.9C1164.2,230.7 1167.3,228.8 1170.8,226.7C1174.2,224.6 1177.6,222.2 1181.1,220.5C1184.5,218.8 1188,217.7 1191.5,216.3C1195,214.9 1198.4,213.7 1201.9,212.2C1205.4,210.7 1208.8,209 1212.3,207.5C1215.8,206 1219.2,204.5 1222.7,203.4C1226.2,202.3 1229.5,201.6 1233,200.8C1236.5,200 1239.9,199.5 1243.4,198.7C1246.9,197.9 1250.3,197 1253.8,196.1C1257.3,195.2 1260.8,194.1 1264.2,193.5C1267.7,192.9 1271,192.8 1274.5,192.5C1278,192.2 1281.4,191.8 1284.9,191.4C1288.4,191 1291.8,190.3 1295.3,189.9C1298.8,189.5 1302.8,189.1 1305.7,188.8C1308.7,188.6 1309.9,188.7 1313,188.4C1316.1,188.2 1320.7,187.9 1324.5,187.3C1328.3,186.7 1332.2,185.6 1336,185C1339.8,184.4 1343.7,184.1 1347.5,183.8C1351.3,183.5 1355.2,183.3 1359,183.2C1362.8,183.1 1366.7,183.3 1370.5,183.2C1374.3,183.1 1378.2,182.8 1382,182.7C1385.8,182.6 1389.7,182.7 1393.5,182.7C1397.3,182.7 1401.2,182.9 1405,182.7C1408.8,182.5 1412.7,181.7 1416.5,181.5C1420.3,181.3 1424.2,181.5 1428,181.5C1431.8,181.5 1435.7,181.3 1439.5,181.5C1443.3,181.7 1447.5,182.5 1451,182.7C1454.5,182.9 1456.9,183 1460.2,182.7C1463.5,182.4 1468.9,181.2 1470.6,180.9" stroke="#ff7f0e" stroke-width="4.6" fill="none" stroke-linejoin="round" stroke-linecap="square"/>
<path d="M1024.9,344C1025,343.6 1024,344.1 1025.5,341.4C1027,338.7 1031.8,332.3 1034.2,327.7C1036.6,323.1 1037.9,317.7 1039.7,314C1041.5,310.3 1042.9,307.7 1045.2,305.7C1047.5,303.7 1050.3,302.6 1053.5,301.9C1056.7,301.2 1060.8,302.3 1064.5,301.3C1068.2,300.3 1071.8,297.6 1075.4,295.8C1079,294 1082.6,292.5 1086.3,290.6C1090,288.7 1094.2,285.7 1097.4,284.3C1100.6,282.9 1102.3,283 1105.2,282.4C1108.1,281.8 1111.6,281.6 1114.7,280.5C1117.8,279.4 1120.9,277.1 1124.1,275.7C1127.2,274.3 1130.4,272.8 1133.6,271.9C1136.8,270.9 1140.4,270.3 1143.1,270C1145.8,269.7 1147.1,270.5 1150,270C1152.9,269.5 1156.9,268.2 1160.4,267.2C1163.9,266.2 1167.3,265.2 1170.8,264.1C1174.2,263 1177.6,261.4 1181.1,260.4C1184.5,259.3 1188,258.5 1191.5,257.8C1195,257.1 1198.4,256.9 1201.9,256.3C1205.4,255.7 1208.8,254.8 1212.3,254.2C1215.8,253.6 1219.2,252.9 1222.7,252.7C1226.2,252.5 1229.5,253 1233,253.2C1236.5,253.4 1239.9,253.8 1243.4,253.7C1246.9,253.6 1250.3,253.2 1253.8,252.7C1257.3,252.2 1260.8,251.2 1264.2,250.6C1267.7,250 1271,249.5 1274.5,249C1278,248.5 1281.4,248.2 1284.9,247.5C1288.4,246.8 1292.2,245.5 1295.3,244.9C1298.4,244.3 1301.1,243.7 1303.6,243.8C1306,243.9 1307.2,244.5 1310,245.3C1312.8,246.1 1316.9,247.7 1320.3,248.4C1323.7,249.1 1327.2,250.1 1330.6,249.4C1334,248.7 1337.5,245.2 1340.9,244.2C1344.3,243.2 1347.8,242.8 1351.2,243.2C1354.6,243.5 1358.9,245.4 1361.5,246.3C1364.1,247.2 1364,248.4 1366.6,248.4C1369.2,248.4 1373.5,247.3 1376.9,246.3C1380.3,245.3 1383.8,243 1387.2,242.2C1390.6,241.3 1394.1,241 1397.5,241.2C1400.9,241.4 1403.5,242.7 1407.8,243.2C1412.1,243.7 1418.1,243.7 1423.2,244.2C1428.3,244.7 1433.4,245.4 1438.6,246.3C1443.8,247.2 1450.5,249.1 1454.1,249.4C1457.7,249.8 1458.3,249.4 1460.2,248.4C1462.1,247.4 1463.7,244.9 1465.4,243.2C1467.1,241.5 1469.7,238.9 1470.5,238.1" stroke="#111" stroke-width="6.3" fill="none" stroke-linejoin="round" stroke-linecap="square"/>
<path d="M1024.9,344C1025,343.6 1024,344.1 1025.5,341.4C1027,338.7 1031.8,332.3 1034.2,327.7C1036.6,323.1 1037.9,317.7 1039.7,314C1041.5,310.3 1042.9,307.7 1045.2,305.7C1047.5,303.7 1050.3,302.6 1053.5,301.9C1056.7,301.2 1060.8,302.3 1064.5,301.3C1068.2,300.3 1071.8,297.6 1075.4,295.8C1079,294 1082.6,292.5 1086.3,290.6C1090,288.7 1094.2,285.7 1097.4,284.3C1100.6,282.9 1102.3,283 1105.2,282.4C1108.1,281.8 1111.6,281.6 1114.7,280.5C1117.8,279.4 1120.9,277.1 1124.1,275.7C1127.2,274.3 1130.4,272.8 1133.6,271.9C1136.8,270.9 1140.4,270.3 1143.1,270C1145.8,269.7 1147.1,270.5 1150,270C1152.9,269.5 1156.9,268.2 1160.4,267.2C1163.9,266.2 1167.3,265.2 1170.8,264.1C1174.2,263 1177.6,261.4 1181.1,260.4C1184.5,259.3 1188,258.5 1191.5,257.8C1195,257.1 1198.4,256.9 1201.9,256.3C1205.4,255.7 1208.8,254.8 1212.3,254.2C1215.8,253.6 1219.2,252.9 1222.7,252.7C1226.2,252.5 1229.5,253 1233,253.2C1236.5,253.4 1239.9,253.8 1243.4,253.7C1246.9,253.6 1250.3,253.2 1253.8,252.7C1257.3,252.2 1260.8,251.2 1264.2,250.6C1267.7,250 1271,249.5 1274.5,249C1278,248.5 1281.4,248.2 1284.9,247.5C1288.4,246.8 1292.2,245.5 1295.3,244.9C1298.4,244.3 1301.1,243.7 1303.6,243.8C1306,243.9 1307.2,244.5 1310,245.3C1312.8,246.1 1316.9,247.7 1320.3,248.4C1323.7,249.1 1327.2,250.1 1330.6,249.4C1334,248.7 1337.5,245.2 1340.9,244.2C1344.3,243.2 1347.8,242.8 1351.2,243.2C1354.6,243.5 1358.9,245.4 1361.5,246.3C1364.1,247.2 1364,248.4 1366.6,248.4C1369.2,248.4 1373.5,247.3 1376.9,246.3C1380.3,245.3 1383.8,243 1387.2,242.2C1390.6,241.3 1394.1,241 1397.5,241.2C1400.9,241.4 1403.5,242.7 1407.8,243.2C1412.1,243.7 1418.1,243.7 1423.2,244.2C1428.3,244.7 1433.4,245.4 1438.6,246.3C1443.8,247.2 1450.5,249.1 1454.1,249.4C1457.7,249.8 1458.3,249.4 1460.2,248.4C1462.1,247.4 1463.7,244.9 1465.4,243.2C1467.1,241.5 1469.7,238.9 1470.5,238.1" stroke="#2ca02c" stroke-width="4.6" fill="none" stroke-linejoin="round" stroke-linecap="square"/>
<path d="M1026,347C1026.7,345.5 1028.3,340.3 1030,338C1031.7,335.7 1032.3,334.1 1036,333C1039.7,331.9 1047.6,332.3 1052,331.3C1056.4,330.3 1056.9,328.2 1062.6,326.8C1068.3,325.4 1079.2,324.2 1086.3,323.1C1093.4,322 1098.9,321.3 1105.2,320.2C1111.5,319.1 1117.8,317.5 1124.1,316.4C1130.4,315.3 1138.8,314.2 1143.1,313.8C1147.4,313.4 1145.4,314.5 1150,314.2C1154.6,313.9 1163.9,312.7 1170.8,311.8C1177.7,310.9 1184.6,309.5 1191.5,308.7C1198.4,307.9 1205.4,307.5 1212.3,307.1C1219.2,306.7 1226.1,306.4 1233,306.1C1239.9,305.8 1246.9,305.5 1253.8,305.1C1260.7,304.8 1267.6,304.5 1274.5,304C1281.4,303.5 1289.4,302.4 1295.3,302.2C1301.2,302 1300.7,303 1310,302.9C1319.3,302.8 1337.5,301.8 1351.2,301.4C1364.9,301 1378.6,300.6 1392.3,300.3C1406,300 1420.5,299.5 1433.5,299.8C1446.5,300.1 1464.3,302 1470.5,302.4" stroke="#111" stroke-width="6.3" fill="none" stroke-linejoin="round" stroke-linecap="square"/>
<path d="M1026,347C1026.7,345.5 1028.3,340.3 1030,338C1031.7,335.7 1032.3,334.1 1036,333C1039.7,331.9 1047.6,332.3 1052,331.3C1056.4,330.3 1056.9,328.2 1062.6,326.8C1068.3,325.4 1079.2,324.2 1086.3,323.1C1093.4,322 1098.9,321.3 1105.2,320.2C1111.5,319.1 1117.8,317.5 1124.1,316.4C1130.4,315.3 1138.8,314.2 1143.1,313.8C1147.4,313.4 1145.4,314.5 1150,314.2C1154.6,313.9 1163.9,312.7 1170.8,311.8C1177.7,310.9 1184.6,309.5 1191.5,308.7C1198.4,307.9 1205.4,307.5 1212.3,307.1C1219.2,306.7 1226.1,306.4 1233,306.1C1239.9,305.8 1246.9,305.5 1253.8,305.1C1260.7,304.8 1267.6,304.5 1274.5,304C1281.4,303.5 1289.4,302.4 1295.3,302.2C1301.2,302 1300.7,303 1310,302.9C1319.3,302.8 1337.5,301.8 1351.2,301.4C1364.9,301 1378.6,300.6 1392.3,300.3C1406,300 1420.5,299.5 1433.5,299.8C1446.5,300.1 1464.3,302 1470.5,302.4" stroke="#d62728" stroke-width="4.6" fill="none" stroke-linejoin="round" stroke-linecap="square"/>
<path d="M1026,347C1026.7,345.5 1027.7,340.3 1030,338C1032.3,335.7 1028.3,334.3 1040,333C1051.7,331.7 1081.7,330.9 1100,330C1118.3,329.1 1134.8,328.3 1150,327.4C1165.2,326.5 1177.7,325.4 1191.5,324.8C1205.3,324.2 1219.2,324.1 1233,323.7C1246.8,323.3 1260,322.9 1274.5,322.7C1289,322.5 1299.1,322.4 1320,322.3C1340.9,322.2 1374.9,322.1 1400,322C1425.1,321.9 1458.8,321.9 1470.5,321.9" stroke="#111" stroke-width="6.3" fill="none" stroke-linejoin="round" stroke-linecap="square"/>
<path d="M1026,347C1026.7,345.5 1027.7,340.3 1030,338C1032.3,335.7 1028.3,334.3 1040,333C1051.7,331.7 1081.7,330.9 1100,330C1118.3,329.1 1134.8,328.3 1150,327.4C1165.2,326.5 1177.7,325.4 1191.5,324.8C1205.3,324.2 1219.2,324.1 1233,323.7C1246.8,323.3 1260,322.9 1274.5,322.7C1289,322.5 1299.1,322.4 1320,322.3C1340.9,322.2 1374.9,322.1 1400,322C1425.1,321.9 1458.8,321.9 1470.5,321.9" stroke="#9467bd" stroke-width="4.6" fill="none" stroke-linejoin="round" stroke-linecap="square"/>
<path d="M1026,347.5C1026.7,346.1 1027.7,341.3 1030,339C1032.3,336.7 1028.3,334.5 1040,333.5C1051.7,332.5 1081.7,333.2 1100,333C1118.3,332.8 1127.8,332.8 1150,332.5C1172.2,332.2 1208,331.4 1233,331C1258,330.6 1260.4,330.2 1300,330C1339.6,329.8 1442.1,329.8 1470.5,329.7" stroke="#111" stroke-width="6.3" fill="none" stroke-linejoin="round" stroke-linecap="square"/>
<path d="M1026,347.5C1026.7,346.1 1027.7,341.3 1030,339C1032.3,336.7 1028.3,334.5 1040,333.5C1051.7,332.5 1081.7,333.2 1100,333C1118.3,332.8 1127.8,332.8 1150,332.5C1172.2,332.2 1208,331.4 1233,331C1258,330.6 1260.4,330.2 1300,330C1339.6,329.8 1442.1,329.8 1470.5,329.7" stroke="#8c564b" stroke-width="4.6" fill="none" stroke-linejoin="round" stroke-linecap="square"/>
<path d="M1026,348.5C1026.8,347.6 1029.3,344.2 1031,343C1032.7,341.8 1022,341.6 1036,341.2C1050,340.8 1094,340.8 1114.7,340.6C1135.4,340.4 1145.8,340.3 1160,340.1C1174.2,339.9 1187.8,339.8 1200,339.5C1212.2,339.2 1213,338.6 1233,338.4C1253,338.2 1280.4,338.3 1320,338.3C1359.6,338.3 1445.4,338.3 1470.5,338.3" stroke="#111" stroke-width="6.3" fill="none" stroke-linejoin="round" stroke-linecap="square"/>
<path d="M1026,348.5C1026.8,347.6 1029.3,344.2 1031,343C1032.7,341.8 1022,341.6 1036,341.2C1050,340.8 1094,340.8 1114.7,340.6C1135.4,340.4 1145.8,340.3 1160,340.1C1174.2,339.9 1187.8,339.8 1200,339.5C1212.2,339.2 1213,338.6 1233,338.4C1253,338.2 1280.4,338.3 1320,338.3C1359.6,338.3 1445.4,338.3 1470.5,338.3" stroke="#e377c2" stroke-width="4.6" fill="none" stroke-linejoin="round" stroke-linecap="square"/>
<path d="M1026.6,348.5C1027.1,346.9 1028.2,341.9 1029.5,339.2C1030.8,336.5 1031,333.8 1034.2,332.5C1037.4,331.2 1039.7,331.7 1048.4,331.6C1057.1,331.5 1073.7,331.9 1086.3,332.1C1098.9,332.3 1113.5,332.9 1124.1,333C1134.7,333.1 1138.8,332.7 1150,332.8C1161.2,332.9 1177.7,333.1 1191.5,333.6C1205.3,334.1 1219.2,335.2 1233,335.7C1246.8,336.2 1260,336.4 1274.5,336.7C1289,336.9 1299.1,336.9 1320,337.2C1340.9,337.5 1374.9,338.2 1400,338.4C1425.1,338.6 1458.8,338.4 1470.5,338.4" stroke="#111" stroke-width="6.3" fill="none" stroke-linejoin="round" stroke-linecap="square"/>
<path d="M1026.6,348.5C1027.1,346.9 1028.2,341.9 1029.5,339.2C1030.8,336.5 1031,333.8 1034.2,332.5C1037.4,331.2 1039.7,331.7 1048.4,331.6C1057.1,331.5 1073.7,331.9 1086.3,332.1C1098.9,332.3 1113.5,332.9 1124.1,333C1134.7,333.1 1138.8,332.7 1150,332.8C1161.2,332.9 1177.7,333.1 1191.5,333.6C1205.3,334.1 1219.2,335.2 1233,335.7C1246.8,336.2 1260,336.4 1274.5,336.7C1289,336.9 1299.1,336.9 1320,337.2C1340.9,337.5 1374.9,338.2 1400,338.4C1425.1,338.6 1458.8,338.4 1470.5,338.4" stroke="#7f7f7f" stroke-width="4.6" fill="none" stroke-linejoin="round" stroke-linecap="square"/>
</g>
<rect x="1498.6" y="49" width="148.2" height="277.7" rx="4" ry="4" fill="#fff" stroke="#dcdcdc" stroke-width="1.6"/>
<rect x="1504.5" y="64.7" width="52.7" height="5.6" fill="#1f77b4" stroke="#333" stroke-width="1"/>
<text x="1572.2" y="75.5" font-size="23" font-family="'DejaVu Sans', sans-serif">500.0</text>
<rect x="1504.5" y="98.7" width="52.7" height="5.6" fill="#ff7f0e" stroke="#333" stroke-width="1"/>
<text x="1572.2" y="109.5" font-size="23" font-family="'DejaVu Sans', sans-serif">250.0</text>
<rect x="1504.5" y="132.7" width="52.7" height="5.6" fill="#2ca02c" stroke="#333" stroke-width="1"/>
<text x="1572.2" y="143.5" font-size="23" font-family="'DejaVu Sans', sans-serif">125.0</text>
<rect x="1504.5" y="166.7" width="52.7" height="5.6" fill="#d62728" stroke="#333" stroke-width="1"/>
<text x="1572.2" y="177.5" font-size="23" font-family="'DejaVu Sans', sans-serif">62.50</text>
<rect x="1504.5" y="200.7" width="52.7" height="5.6" fill="#9467bd" stroke="#333" stroke-width="1"/>
<text x="1572.2" y="211.5" font-size="23" font-family="'DejaVu Sans', sans-serif">31.25</text>
<rect x="1504.5" y="234.7" width="52.7" height="5.6" fill="#8c564b" stroke="#333" stroke-width="1"/>
<text x="1572.2" y="245.5" font-size="23" font-family="'DejaVu Sans', sans-serif">15.62</text>
<rect x="1504.5" y="268.8" width="52.7" height="5.6" fill="#e377c2" stroke="#333" stroke-width="1"/>
<text x="1572.2" y="279.5" font-size="23" font-family="'DejaVu Sans', sans-serif">7.81</text>
<rect x="1504.5" y="302.8" width="52.7" height="5.6" fill="#7f7f7f" stroke="#333" stroke-width="1"/>
<text x="1572.2" y="313.5" font-size="23" font-family="'DejaVu Sans', sans-serif">3.91</text>
<line x1="591.6" y1="432.3" x2="668.9" y2="511.5" stroke="#000" stroke-width="2.2"/>
<path d="M655.5,513.4Q659.4,508.6 669.3,511.9Q666.2,501.9 671.1,498.1" fill="none" stroke="#000" stroke-width="2.2" stroke-linecap="round" stroke-linejoin="round"/>
<line x1="1083.9" y1="436.3" x2="1010.7" y2="511.5" stroke="#808080" stroke-width="1.7"/>
<path d="M1008.5,498.1Q1013.4,501.9 1010.3,511.9Q1020.2,508.6 1024.1,513.3" fill="none" stroke="#808080" stroke-width="1.7" stroke-linecap="round" stroke-linejoin="round"/>
<path d="M563.6,833.1V541.4H979.1V833.1Z" fill="none" stroke="#757575" stroke-width="1.6" stroke-dasharray="8.2 8" stroke-dashoffset="16.1"/>
<text x="572.6" y="569.7" font-size="24.95" font-family="'Liberation Sans', sans-serif" font-weight="bold" textLength="50.71" lengthAdjust="spacingAndGlyphs">ABC</text>
<rect x="720.5" y="546.9" width="109" height="65.7" fill="#fff" stroke="#6a6a6a" stroke-width="1.6"/>
<rect x="568.8" y="660.4" width="181.4" height="70.4" fill="#fff" stroke="#6a6a6a" stroke-width="1.6"/>
<rect x="807.1" y="674.5" width="167.1" height="41.4" fill="#fff" stroke="#6a6a6a" stroke-width="1.6"/>
<rect x="729" y="793" width="92.1" height="34.9" fill="#fff" stroke="#6a6a6a" stroke-width="1.6"/>
<text x="728.9" y="574" font-size="23.50" font-family="'Liberation Sans', sans-serif" textLength="92.29" lengthAdjust="spacingAndGlyphs">Simulate</text>
<text x="751.4" y="603.6" font-size="23.50" font-family="'Liberation Sans', sans-serif" textLength="44.96" lengthAdjust="spacingAndGlyphs">data</text>
<text x="620.9" y="687" font-size="23.50" font-family="'Liberation Sans', sans-serif" textLength="77.41" lengthAdjust="spacingAndGlyphs">Sample</text>
<text x="577.5" y="716" font-size="23.50" font-family="'Liberation Sans', sans-serif" textLength="164.35" lengthAdjust="spacingAndGlyphs">new parameters</text>
<text x="816.6" y="700.8" font-size="23.50" font-family="'Liberation Sans', sans-serif" textLength="147.33" lengthAdjust="spacingAndGlyphs">Accept/Reject</text>
<text x="738" y="819.2" font-size="23.50" font-family="'Liberation Sans', sans-serif" textLength="72.99" lengthAdjust="spacingAndGlyphs">Finish?</text>
<text x="698" y="787.9" font-size="23.50" font-family="'Liberation Sans', sans-serif" textLength="31.10" lengthAdjust="spacingAndGlyphs">No</text>
<text x="827.5" y="803.7" font-size="23.50" font-family="'Liberation Sans', sans-serif" textLength="34.18" lengthAdjust="spacingAndGlyphs">Yes</text>
<line x1="695.6" y1="659.6" x2="741" y2="613.7" stroke="#2a2a2a" stroke-width="1.4"/>
<path d="M741.8,621.9Q738.9,619.7 741.4,613.3Q735,615.8 732.8,613" fill="none" stroke="#2a2a2a" stroke-width="1.4" stroke-linecap="round" stroke-linejoin="round"/>
<line x1="808" y1="612.7" x2="868.5" y2="673.4" stroke="#2a2a2a" stroke-width="1.4"/>
<path d="M860.3,674.1Q862.5,671.3 868.9,673.8Q866.4,667.4 869.3,665.2" fill="none" stroke="#2a2a2a" stroke-width="1.4" stroke-linecap="round" stroke-linejoin="round"/>
<line x1="868.9" y1="717.1" x2="795.4" y2="791.9" stroke="#2a2a2a" stroke-width="1.4"/>
<path d="M794.6,783.7Q797.4,785.9 795,792.3Q801.3,789.8 803.6,792.6" fill="none" stroke="#2a2a2a" stroke-width="1.4" stroke-linecap="round" stroke-linejoin="round"/>
<line x1="756.3" y1="792.5" x2="695.8" y2="731.8" stroke="#2a2a2a" stroke-width="1.4"/>
<path d="M704,731.1Q701.8,733.9 695.4,731.4Q697.9,737.8 695,740" fill="none" stroke="#2a2a2a" stroke-width="1.4" stroke-linecap="round" stroke-linejoin="round"/>
<line x1="821.1" y1="811" x2="1001" y2="811" stroke="#2a2a2a" stroke-width="1.4"/>
<path d="M995.8,817.8Q995.3,814 1001.6,811Q995.3,808 995.8,804.2" fill="none" stroke="#2a2a2a" stroke-width="1.4" stroke-linecap="round" stroke-linejoin="round"/>
<text x="1012.1" y="817.9" font-size="24.32" font-family="'Liberation Serif', serif" font-style="italic" textLength="11.94" lengthAdjust="spacingAndGlyphs">k</text>
<text x="1025.3" y="821.1" font-size="14.10" font-family="'Liberation Sans', sans-serif" font-weight="bold" textLength="24.39" lengthAdjust="spacingAndGlyphs">cat</text>
<text x="1052.2" y="818" font-size="26.00" font-family="'Liberation Serif', serif" textLength="5.33" lengthAdjust="spacingAndGlyphs">,</text>
<text x="1068" y="817.6" font-size="25.34" font-family="'Liberation Serif', serif" font-style="italic" textLength="18.83" lengthAdjust="spacingAndGlyphs">K</text>
<text x="1089.5" y="821.1" font-size="15.71" font-family="'Liberation Sans', sans-serif" font-weight="bold" textLength="16.66" lengthAdjust="spacingAndGlyphs">M</text>
<line x1="645" y1="862.7" x2="620" y2="884.5" stroke="#000" stroke-width="2.5"/>
<path d="M617.6,872Q622.1,876.3 619.5,884.9Q628.4,883.6 632,888.6" fill="none" stroke="#000" stroke-width="2.5" stroke-linecap="round" stroke-linejoin="round"/>
<line x1="986" y1="862.7" x2="1000" y2="878.8" stroke="#808080" stroke-width="1.8"/>
<path d="M986.7,880.2Q990.9,875.7 1000.4,879.3Q998.1,869.4 1003.3,865.8" fill="none" stroke="#808080" stroke-width="1.8" stroke-linecap="round" stroke-linejoin="round"/>
<rect x="143.8" y="985.8" width="506.7" height="328.8" fill="none" stroke="#4a4a4a" stroke-width="1.6"/>
<line x1="166.8" y1="1314.6" x2="166.8" y2="1320.2" stroke="#4a4a4a" stroke-width="1.6"/>
<text x="166.8" y="1343.5" font-size="24.3" font-family="'DejaVu Sans', sans-serif" text-anchor="middle">0</text>
<line x1="322.3" y1="1314.6" x2="322.3" y2="1320.2" stroke="#4a4a4a" stroke-width="1.6"/>
<text x="322.3" y="1343.5" font-size="24.3" font-family="'DejaVu Sans', sans-serif" text-anchor="middle">20</text>
<line x1="477.8" y1="1314.6" x2="477.8" y2="1320.2" stroke="#4a4a4a" stroke-width="1.6"/>
<text x="477.8" y="1343.5" font-size="24.3" font-family="'DejaVu Sans', sans-serif" text-anchor="middle">40</text>
<line x1="633.3" y1="1314.6" x2="633.3" y2="1320.2" stroke="#4a4a4a" stroke-width="1.6"/>
<text x="633.3" y="1343.5" font-size="24.3" font-family="'DejaVu Sans', sans-serif" text-anchor="middle">60</text>
<line x1="138.2" y1="1299.5" x2="143.8" y2="1299.5" stroke="#4a4a4a" stroke-width="1.6"/>
<text x="133.3" y="1308.3" font-size="24.3" font-family="'DejaVu Sans', sans-serif" text-anchor="end">0</text>
<line x1="138.2" y1="1231.2" x2="143.8" y2="1231.2" stroke="#4a4a4a" stroke-width="1.6"/>
<text x="133.3" y="1240" font-size="24.3" font-family="'DejaVu Sans', sans-serif" text-anchor="end">2500</text>
<line x1="138.2" y1="1162.9" x2="143.8" y2="1162.9" stroke="#4a4a4a" stroke-width="1.6"/>
<text x="133.3" y="1171.7" font-size="24.3" font-family="'DejaVu Sans', sans-serif" text-anchor="end">5000</text>
<line x1="138.2" y1="1094.6" x2="143.8" y2="1094.6" stroke="#4a4a4a" stroke-width="1.6"/>
<text x="133.3" y="1103.4" font-size="24.3" font-family="'DejaVu Sans', sans-serif" text-anchor="end">7500</text>
<line x1="138.2" y1="1026.3" x2="143.8" y2="1026.3" stroke="#4a4a4a" stroke-width="1.6"/>
<text x="133.3" y="1035.1" font-size="24.3" font-family="'DejaVu Sans', sans-serif" text-anchor="end">10000</text>
<text x="333.6" y="1373.4" font-size="24.30" font-family="'DejaVu Sans', sans-serif" textLength="127.56" lengthAdjust="spacingAndGlyphs">time [min]</text>
<g transform="translate(45.3,1300.8) rotate(-90)"><text x="-2.4" y="0" font-size="24.30" font-family="'DejaVu Sans', sans-serif" textLength="305.67" lengthAdjust="spacingAndGlyphs">Relative Fluorescent Unit</text></g>
<g clip-path="url(#cd)">
<path d="M166.6,1299.6C167.4,1293.6 169.7,1276 171.5,1263.5C173.3,1251 175.4,1235.8 177.3,1224.4C179.2,1213 180.9,1204.2 183.2,1195.1C185.5,1186 188.4,1176.9 191,1169.7C193.6,1162.5 195.9,1157 198.8,1152.1C201.7,1147.2 205,1143.3 208.6,1140.4C212.2,1137.5 216.4,1136.5 220.3,1134.6C224.2,1132.6 228.1,1131.6 232,1128.7C235.9,1125.8 239.9,1121.6 243.8,1117C247.7,1112.4 251.6,1106.2 255.5,1101.3C259.4,1096.4 262.6,1091.9 267.2,1087.7C271.8,1083.5 277.6,1079.9 282.8,1076C288,1072.1 293,1067.5 298.5,1064.2C304,1060.9 309.8,1059.3 316,1056.4C322.2,1053.5 329.1,1049.6 335.6,1046.7C342.1,1043.8 349.2,1040.9 355.1,1038.8C361,1036.7 364.8,1036.6 370.7,1034C376.6,1031.4 385.4,1025.3 390.3,1023.2C395.2,1021.1 395.8,1022.2 400,1021.5C404.2,1020.8 410.4,1019.9 415.7,1019.1C420.9,1018.3 424.9,1017.2 431.5,1016.8C438.1,1016.4 449.3,1017.1 455.1,1016.8C460.9,1016.5 461.7,1016.4 466.1,1015.2C470.6,1014 475.8,1010.6 481.8,1009.7C487.8,1008.8 496.8,1009.5 502.3,1009.7C507.8,1010 509.1,1011.4 514.9,1011.2C520.7,1011 528.5,1008.6 536.9,1008.6C545.3,1008.6 556.5,1010.5 565.2,1011.2C573.9,1011.9 581.4,1012.2 588.9,1012.8C596.4,1013.4 605.3,1014.4 610,1014.8C614.7,1015.2 614.9,1015.4 617.2,1015.2C619.5,1015 622,1014.2 624,1013.8C626,1013.4 628.2,1013 629,1012.8" stroke="#0000ff" stroke-width="3.0" fill="none" stroke-linejoin="round" stroke-linecap="round"/>
<path d="M166.6,1299.6C168.1,1294.2 172.3,1278 175.4,1267.4C178.5,1256.8 181.3,1247.2 185.2,1236.1C189.1,1225 194.2,1211.4 198.8,1201C203.4,1190.6 207.6,1182.7 212.5,1173.6C217.4,1164.5 222.9,1155.1 228.1,1146.3C233.3,1137.5 238.6,1128.7 243.8,1120.9C249,1113.1 253.9,1106.2 259.4,1099.4C264.9,1092.6 270.8,1085.8 277,1079.9C283.2,1074 290,1069.1 296.5,1064.2C303,1059.3 307.9,1055.1 316,1050.6C324.1,1046 335.5,1041.1 345.3,1036.9C355.1,1032.7 365.6,1028.2 374.7,1025.2C383.8,1022.2 390.5,1021.3 400,1019.1C409.5,1016.9 421,1013.9 431.5,1012C442,1010.1 452.5,1008.7 463,1007.6C473.5,1006.5 483.9,1006 494.4,1005.3C504.9,1004.6 515.4,1003.9 525.9,1003.4C536.4,1002.9 546.9,1002.5 557.4,1002.1C567.9,1001.8 577,1001.6 588.9,1001.3C600.8,1001 622.3,1000.6 629,1000.5" stroke="#ff0000" stroke-width="3.0" fill="none" stroke-linejoin="round" stroke-linecap="round"/>
</g>
<rect x="190.7" y="899" width="412.9" height="79.2" rx="4" ry="4" fill="#fff" stroke="#dcdcdc" stroke-width="1.6"/>
<line x1="199.1" y1="918.3" x2="250.1" y2="918.3" stroke="#0000ff" stroke-width="3"/>
<line x1="199.1" y1="954.8" x2="250.1" y2="954.8" stroke="#ff0000" stroke-width="3"/>
<text x="268.8" y="927.3" font-size="24.3" font-family="'DejaVu Sans', sans-serif" textLength="165.7" lengthAdjust="spacingAndGlyphs">Measurement</text>
<text x="268.8" y="961.8" font-size="24.3" font-family="'DejaVu Sans', sans-serif" textLength="323.6" lengthAdjust="spacingAndGlyphs">Model: <tspan font-style="italic">k</tspan><tspan font-style="italic" font-size="17" dy="4.1">cat</tspan><tspan dy="-4.1">=9.1, </tspan><tspan font-style="italic">K</tspan><tspan font-style="italic" font-size="17" dy="4.1">M</tspan><tspan dy="-4.1">=300.7</tspan></text>
<rect x="1008.2" y="982.2" width="519.2" height="336.2" fill="none" stroke="#4a4a4a" stroke-width="1.6"/>
<line x1="1031.6" y1="1318.4" x2="1031.6" y2="1324.1" stroke="#4a4a4a" stroke-width="1.6"/>
<text x="1031.6" y="1348.6" font-size="24.6" font-family="'DejaVu Sans', sans-serif" text-anchor="middle">0</text>
<line x1="1132" y1="1318.4" x2="1132" y2="1324.1" stroke="#4a4a4a" stroke-width="1.6"/>
<text x="1132" y="1348.6" font-size="24.6" font-family="'DejaVu Sans', sans-serif" text-anchor="middle">25</text>
<line x1="1232.4" y1="1318.4" x2="1232.4" y2="1324.1" stroke="#4a4a4a" stroke-width="1.6"/>
<text x="1232.4" y="1348.6" font-size="24.6" font-family="'DejaVu Sans', sans-serif" text-anchor="middle">50</text>
<line x1="1332.8" y1="1318.4" x2="1332.8" y2="1324.1" stroke="#4a4a4a" stroke-width="1.6"/>
<text x="1332.8" y="1348.6" font-size="24.6" font-family="'DejaVu Sans', sans-serif" text-anchor="middle">75</text>
<line x1="1433.2" y1="1318.4" x2="1433.2" y2="1324.1" stroke="#4a4a4a" stroke-width="1.6"/>
<text x="1433.2" y="1348.6" font-size="24.6" font-family="'DejaVu Sans', sans-serif" text-anchor="middle">100</text>
<line x1="1002.5" y1="1303.7" x2="1008.2" y2="1303.7" stroke="#4a4a4a" stroke-width="1.6"/>
<text x="996.6" y="1312.7" font-size="24.6" font-family="'DejaVu Sans', sans-serif" text-anchor="end">0</text>
<line x1="1002.5" y1="1198.6" x2="1008.2" y2="1198.6" stroke="#4a4a4a" stroke-width="1.6"/>
<text x="996.6" y="1207.5" font-size="24.6" font-family="'DejaVu Sans', sans-serif" text-anchor="end">2000</text>
<line x1="1002.5" y1="1093.4" x2="1008.2" y2="1093.4" stroke="#4a4a4a" stroke-width="1.6"/>
<text x="996.6" y="1102.4" font-size="24.6" font-family="'DejaVu Sans', sans-serif" text-anchor="end">4000</text>
<line x1="1002.5" y1="988.3" x2="1008.2" y2="988.3" stroke="#4a4a4a" stroke-width="1.6"/>
<text x="996.6" y="997.2" font-size="24.6" font-family="'DejaVu Sans', sans-serif" text-anchor="end">6000</text>
<text x="1202.9" y="1378.9" font-size="24.60" font-family="'DejaVu Sans', sans-serif" textLength="130.42" lengthAdjust="spacingAndGlyphs">time [min]</text>
<g transform="translate(922.6,1304.8) rotate(-90)"><text x="-2.4" y="0" font-size="24.60" font-family="'DejaVu Sans', sans-serif" textLength="313.15" lengthAdjust="spacingAndGlyphs">Relative Fluorescent Unit</text></g>
<g clip-path="url(#ce)">
<path d="M1031.2,1293.3C1031.7,1290.1 1032.7,1279.3 1034.2,1274.1C1035.7,1268.9 1037.5,1266 1040.2,1262C1042.9,1258 1046.6,1254.3 1050.3,1249.9C1054,1245.5 1057.4,1242.2 1062.4,1235.8C1067.4,1229.4 1074.1,1220.1 1080.5,1211.7C1086.9,1203.3 1094,1193.6 1100.7,1185.5C1107.4,1177.4 1114.1,1170.7 1120.8,1163.3C1127.5,1155.9 1134.9,1147.6 1140.9,1141.2C1147,1134.8 1150.4,1131.7 1157.1,1125C1163.8,1118.3 1173.8,1107.3 1181.2,1100.9C1188.6,1094.5 1194.7,1091.5 1201.4,1086.8C1208.1,1082.1 1214.8,1077.1 1221.5,1072.7C1228.2,1068.3 1235,1064.6 1241.7,1060.6C1248.4,1056.6 1255.4,1051.8 1261.8,1048.5C1268.2,1045.2 1274.3,1042.7 1280,1040.5C1285.7,1038.3 1290.5,1036.9 1295.7,1035.1C1301,1033.3 1303.6,1032.1 1311.5,1029.6C1319.4,1027.1 1332.5,1022.9 1343,1020.1C1353.5,1017.3 1363.9,1015.1 1374.4,1013C1384.9,1010.9 1395.4,1008.7 1405.9,1007.5C1416.4,1006.3 1429.5,1006.8 1437.4,1006C1445.3,1005.2 1447.8,1003.6 1453.1,1002.8C1458.3,1002 1463.7,1000.8 1468.9,1001.2C1474.2,1001.6 1479.6,1004.7 1484.6,1005.2C1489.6,1005.7 1495.4,1004.1 1498.8,1004.4C1502.2,1004.7 1504,1006.4 1505.1,1006.8" stroke="#0000ff" stroke-width="3.0" fill="none" stroke-linejoin="round" stroke-linecap="round"/>
<path d="M1031.2,1304.3C1032.7,1300.3 1037,1288.2 1040.2,1280.2C1043.4,1272.2 1046.3,1264.4 1050.3,1256C1054.3,1247.6 1059.4,1238.5 1064.4,1229.8C1069.4,1221.1 1074.5,1212.7 1080.5,1203.6C1086.5,1194.5 1094,1184.1 1100.7,1175.4C1107.4,1166.7 1114.1,1159.2 1120.8,1151.2C1127.5,1143.2 1134.2,1134.5 1140.9,1127.1C1147.6,1119.7 1154.4,1113 1161.1,1106.9C1167.8,1100.9 1174.5,1095.8 1181.2,1090.8C1187.9,1085.8 1194.7,1081.1 1201.4,1076.7C1208.1,1072.3 1214.8,1068.3 1221.5,1064.6C1228.2,1060.9 1235,1057.8 1241.7,1054.5C1248.4,1051.2 1255.4,1047.6 1261.8,1044.5C1268.2,1041.4 1271.7,1039.1 1280,1035.9C1288.3,1032.8 1301,1028.6 1311.5,1025.6C1322,1022.6 1332.5,1020.1 1343,1017.8C1353.5,1015.4 1363.9,1013.3 1374.4,1011.5C1384.9,1009.7 1395.4,1008.2 1405.9,1006.8C1416.4,1005.3 1426.9,1004 1437.4,1002.8C1447.9,1001.6 1457.6,1000.7 1468.9,999.7C1480.2,998.7 1499.1,997.5 1505.1,997" stroke="#ff0000" stroke-width="3.0" fill="none" stroke-linejoin="round" stroke-linecap="round"/>
</g>
<rect x="1056.8" y="893.2" width="421.9" height="80.3" rx="4" ry="4" fill="#fff" stroke="#dcdcdc" stroke-width="1.6"/>
<line x1="1065" y1="913.8" x2="1117.3" y2="913.8" stroke="#0000ff" stroke-width="3"/>
<line x1="1065" y1="950" x2="1117.3" y2="950" stroke="#ff0000" stroke-width="3"/>
<text x="1135.5" y="921.6" font-size="24.6" font-family="'DejaVu Sans', sans-serif" textLength="171.3" lengthAdjust="spacingAndGlyphs">Measurement</text>
<text x="1135.5" y="957.8" font-size="24.6" font-family="'DejaVu Sans', sans-serif" textLength="333.5" lengthAdjust="spacingAndGlyphs">Model: <tspan font-style="italic">k</tspan><tspan font-style="italic" font-size="17.2" dy="4.2">cat</tspan><tspan dy="-4.2">=2.0, </tspan><tspan font-style="italic">K</tspan><tspan font-style="italic" font-size="17.2" dy="4.2">M</tspan><tspan dy="-4.2">=195.5</tspan></text>
<line x1="594.9" y1="1470.5" x2="594.9" y2="1633" stroke="#8a8a8a" stroke-width="1.5"/>
<line x1="766.4" y1="1470.5" x2="766.4" y2="1633" stroke="#8a8a8a" stroke-width="1.5"/>
<line x1="976.8" y1="1470.5" x2="976.8" y2="1633" stroke="#8a8a8a" stroke-width="1.5"/>
<line x1="403.3" y1="1525.3" x2="1276.4" y2="1525.3" stroke="#b0b0b0" stroke-width="1.6"/>
<line x1="403.3" y1="1579.5" x2="1276.4" y2="1579.5" stroke="#6a6a6a" stroke-width="1.6"/>
<text x="427.6" y="1563.2" font-size="31.50" font-family="'Liberation Sans', sans-serif" textLength="35.89" lengthAdjust="spacingAndGlyphs">PL</text>
<text x="463.9" y="1551.6" font-size="19.72" font-family="'Liberation Sans', sans-serif" textLength="29.45" lengthAdjust="spacingAndGlyphs">pro</text>
<text x="493.9" y="1563.2" font-size="31.50" font-family="'Liberation Sans', sans-serif" textLength="76.03" lengthAdjust="spacingAndGlyphs">SARS</text>
<text x="612.5" y="1563" font-size="31.50" font-family="'Liberation Sans', sans-serif" textLength="39.51" lengthAdjust="spacingAndGlyphs">9.1</text>
<text x="661.8" y="1563" font-size="31.50" font-family="'Liberation Serif', serif" textLength="27.15" lengthAdjust="spacingAndGlyphs">±</text>
<text x="699.1" y="1563" font-size="31.50" font-family="'Liberation Sans', sans-serif" textLength="39.90" lengthAdjust="spacingAndGlyphs">0.5</text>
<text x="780.8" y="1563" font-size="31.50" font-family="'Liberation Sans', sans-serif" textLength="67.87" lengthAdjust="spacingAndGlyphs">300.7</text>
<text x="860.7" y="1563" font-size="31.50" font-family="'Liberation Serif', serif" textLength="26.44" lengthAdjust="spacingAndGlyphs">±</text>
<text x="897.1" y="1563" font-size="31.50" font-family="'Liberation Sans', sans-serif" textLength="56.86" lengthAdjust="spacingAndGlyphs">20.2</text>
<text x="1037.1" y="1563" font-size="31.50" font-family="'Liberation Sans', sans-serif" font-weight="bold" textLength="86.78" lengthAdjust="spacingAndGlyphs">0.030</text>
<text x="1133.2" y="1563" font-size="31.50" font-family="'Liberation Serif', serif" textLength="28.33" lengthAdjust="spacingAndGlyphs">±</text>
<text x="1171.2" y="1563" font-size="31.50" font-family="'Liberation Sans', sans-serif" textLength="70.32" lengthAdjust="spacingAndGlyphs">0.003</text>
<text x="430.1" y="1618.3" font-size="31.50" font-family="'Liberation Sans', sans-serif" textLength="34.90" lengthAdjust="spacingAndGlyphs">PL</text>
<text x="466.1" y="1606.1" font-size="19.72" font-family="'Liberation Sans', sans-serif" textLength="29.99" lengthAdjust="spacingAndGlyphs">pro</text>
<text x="497.6" y="1618.3" font-size="31.50" font-family="'Liberation Sans', sans-serif" textLength="71.19" lengthAdjust="spacingAndGlyphs">CoV2</text>
<text x="612.4" y="1618" font-size="31.50" font-family="'Liberation Sans', sans-serif" textLength="39.28" lengthAdjust="spacingAndGlyphs">2.0</text>
<text x="661.8" y="1618" font-size="31.50" font-family="'Liberation Serif', serif" textLength="27.15" lengthAdjust="spacingAndGlyphs">±</text>
<text x="699" y="1618" font-size="31.50" font-family="'Liberation Sans', sans-serif" textLength="39.98" lengthAdjust="spacingAndGlyphs">0.3</text>
<text x="787.7" y="1618" font-size="31.50" font-family="'Liberation Sans', sans-serif" textLength="69.60" lengthAdjust="spacingAndGlyphs">195.5</text>
<text x="868.7" y="1618" font-size="31.50" font-family="'Liberation Serif', serif" textLength="26.44" lengthAdjust="spacingAndGlyphs">±</text>
<text x="906.4" y="1618" font-size="31.50" font-family="'Liberation Sans', sans-serif" textLength="40.42" lengthAdjust="spacingAndGlyphs">5.2</text>
<text x="1037.1" y="1618" font-size="31.50" font-family="'Liberation Sans', sans-serif" font-weight="bold" textLength="86.78" lengthAdjust="spacingAndGlyphs">0.010</text>
<text x="1133.2" y="1618" font-size="31.50" font-family="'Liberation Serif', serif" textLength="28.33" lengthAdjust="spacingAndGlyphs">±</text>
<text x="1171.2" y="1618" font-size="31.50" font-family="'Liberation Sans', sans-serif" textLength="69.74" lengthAdjust="spacingAndGlyphs">0.001</text>
<text x="616.9" y="1507.3" font-size="33.53" font-family="'Liberation Serif', serif" font-style="italic" textLength="15.47" lengthAdjust="spacingAndGlyphs">k</text>
<text x="633.9" y="1511.8" font-size="25.74" font-family="'Liberation Sans', sans-serif" textLength="28.60" lengthAdjust="spacingAndGlyphs">cat</text>
<text x="675.2" y="1509.5" font-size="39.86" font-family="'Liberation Serif', serif" textLength="7.63" lengthAdjust="spacingAndGlyphs">[</text>
<text x="683.6" y="1507.4" font-size="30.64" font-family="'Liberation Serif', serif" font-style="italic" textLength="13.22" lengthAdjust="spacingAndGlyphs">s</text>
<text x="697.8" y="1497.1" font-size="22.00" font-family="'Liberation Serif', serif" textLength="16.74" lengthAdjust="spacingAndGlyphs">−</text>
<text x="715.8" y="1494.6" font-size="21.21" font-family="'Liberation Serif', serif" textLength="11.21" lengthAdjust="spacingAndGlyphs">1</text>
<text x="727.2" y="1509.5" font-size="39.86" font-family="'Liberation Serif', serif" textLength="7.55" lengthAdjust="spacingAndGlyphs">]</text>
<text x="802.7" y="1506.4" font-size="35.11" font-family="'Liberation Serif', serif" font-style="italic" textLength="25.85" lengthAdjust="spacingAndGlyphs">K</text>
<text x="830.8" y="1511" font-size="22.69" font-family="'Liberation Sans', sans-serif" textLength="19.59" lengthAdjust="spacingAndGlyphs">M</text>
<text x="862.8" y="1509.5" font-size="39.86" font-family="'Liberation Serif', serif" textLength="7.63" lengthAdjust="spacingAndGlyphs">[</text>
<text x="870.8" y="1506.2" font-size="31.52" font-family="'Liberation Serif', serif" font-style="italic" textLength="19.01" lengthAdjust="spacingAndGlyphs">μ</text>
<text x="891.3" y="1506.2" font-size="35.11" font-family="'Liberation Serif', serif" font-style="italic" textLength="30.05" lengthAdjust="spacingAndGlyphs">M</text>
<text x="923.4" y="1509.5" font-size="39.86" font-family="'Liberation Serif', serif" textLength="7.55" lengthAdjust="spacingAndGlyphs">]</text>
<text x="1013.8" y="1507.3" font-size="33.53" font-family="'Liberation Serif', serif" font-style="italic" textLength="15.26" lengthAdjust="spacingAndGlyphs">k</text>
<text x="1031.1" y="1511.8" font-size="25.74" font-family="'Liberation Sans', sans-serif" textLength="27.98" lengthAdjust="spacingAndGlyphs">cat</text>
<text x="1061.4" y="1511" font-size="43.18" font-family="'Liberation Serif', serif" textLength="14.72" lengthAdjust="spacingAndGlyphs">/</text>
<text x="1079.8" y="1506.4" font-size="35.11" font-family="'Liberation Serif', serif" font-style="italic" textLength="23.36" lengthAdjust="spacingAndGlyphs">K</text>
<text x="1107.7" y="1511" font-size="22.69" font-family="'Liberation Sans', sans-serif" textLength="19.34" lengthAdjust="spacingAndGlyphs">M</text>
<text x="1139.8" y="1509.5" font-size="39.86" font-family="'Liberation Serif', serif" textLength="7.33" lengthAdjust="spacingAndGlyphs">[</text>
<text x="1148.4" y="1507.2" font-size="30.21" font-family="'Liberation Serif', serif" font-style="italic" textLength="11.87" lengthAdjust="spacingAndGlyphs">s</text>
<text x="1162.8" y="1497.1" font-size="22.00" font-family="'Liberation Serif', serif" textLength="16.86" lengthAdjust="spacingAndGlyphs">−</text>
<text x="1181.5" y="1494.6" font-size="21.21" font-family="'Liberation Serif', serif" textLength="9.36" lengthAdjust="spacingAndGlyphs">1</text>
<text x="1194.2" y="1507" font-size="35.11" font-family="'Liberation Serif', serif" font-style="italic" textLength="28.93" lengthAdjust="spacingAndGlyphs">M</text>
<text x="1227.4" y="1497.1" font-size="22.00" font-family="'Liberation Serif', serif" textLength="16.86" lengthAdjust="spacingAndGlyphs">−</text>
<text x="1245.1" y="1494.6" font-size="21.21" font-family="'Liberation Serif', serif" textLength="10.35" lengthAdjust="spacingAndGlyphs">1</text>
<text x="1255.1" y="1509.5" font-size="39.86" font-family="'Liberation Serif', serif" textLength="7.25" lengthAdjust="spacingAndGlyphs">]</text>
</svg></body></html>
